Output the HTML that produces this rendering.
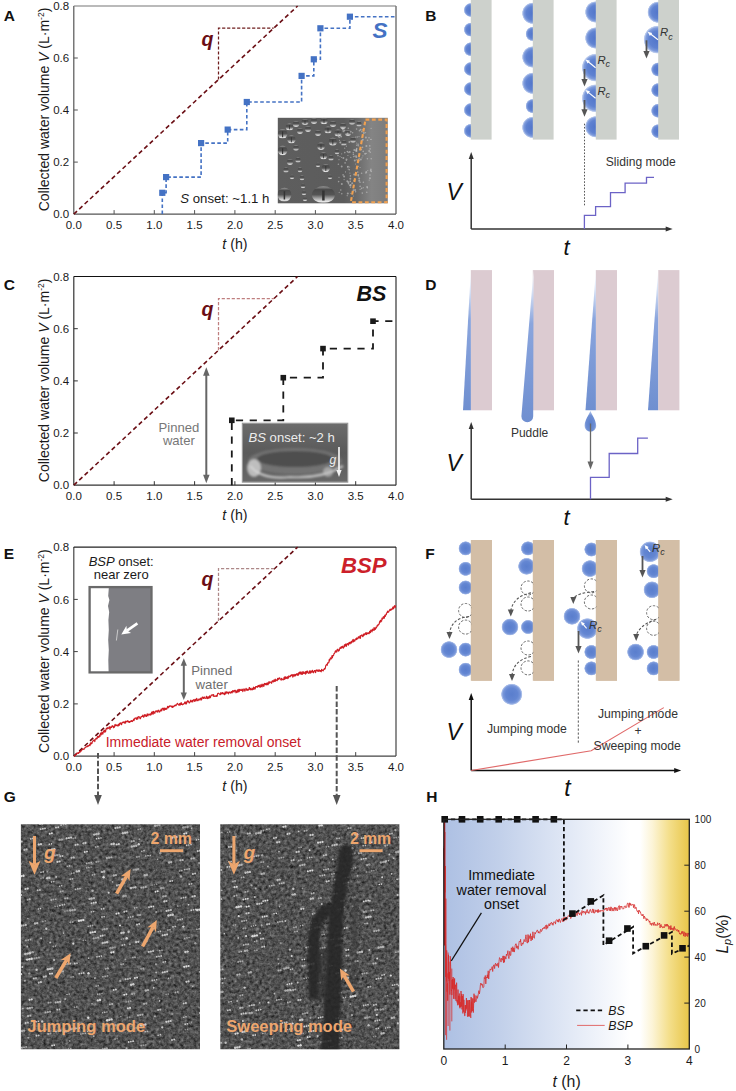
<!DOCTYPE html>
<html><head><meta charset="utf-8"><style>
html,body{margin:0;padding:0;background:#fff;}
svg{display:block;}
text{font-family:"Liberation Sans",sans-serif;}
</style></head><body>
<svg width="736" height="1091" viewBox="0 0 736 1091">
<defs><linearGradient id="drop" x1="0" y1="0" x2="0" y2="1"><stop offset="0" stop-color="#9a9a9a"/><stop offset="0.2" stop-color="#4a4a4a"/><stop offset="0.5" stop-color="#555555"/><stop offset="0.75" stop-color="#b0b0b0"/><stop offset="0.9" stop-color="#e6e6e6"/><stop offset="1" stop-color="#808080"/></linearGradient>
<linearGradient id="photoA" x1="0" y1="0" x2="1" y2="0"><stop offset="0" stop-color="#5e5e5e"/><stop offset="0.6" stop-color="#5c5c5c"/><stop offset="0.72" stop-color="#6a6a6a"/><stop offset="0.85" stop-color="#848484"/><stop offset="1" stop-color="#7c7c7c"/></linearGradient>
<clipPath id="clipA"><rect x="277.8" y="117.8" width="110" height="85.5"/></clipPath><linearGradient id="photoC" x1="0" y1="0" x2="0" y2="1"><stop offset="0" stop-color="#6c6c6c"/><stop offset="0.5" stop-color="#5a5a5a"/><stop offset="1" stop-color="#686868"/></linearGradient><radialGradient id="bd" cx="50%" cy="50%" r="50%"><stop offset="0" stop-color="#5175ca"/><stop offset="0.6" stop-color="#5f82d1"/><stop offset="0.82" stop-color="#7f9cdc"/><stop offset="0.95" stop-color="#c5d3f0"/><stop offset="1" stop-color="#ffffff" stop-opacity="0"/></radialGradient><linearGradient id="wedge" x1="0" y1="0" x2="0" y2="1"><stop offset="0" stop-color="#ffffff"/><stop offset="0.12" stop-color="#dce5f6"/><stop offset="0.35" stop-color="#8aa5dd"/><stop offset="1" stop-color="#6f8fd0"/></linearGradient>
<radialGradient id="tear" cx="50%" cy="60%" r="55%"><stop offset="0" stop-color="#5a7fcc"/><stop offset="0.7" stop-color="#6f8fd3"/><stop offset="1" stop-color="#a8bde8"/></radialGradient><radialGradient id="sph" cx="50%" cy="50%" r="50%"><stop offset="0" stop-color="#5a7ecd"/><stop offset="0.55" stop-color="#6386d2"/><stop offset="0.8" stop-color="#7a98da"/><stop offset="0.93" stop-color="#b4c6ec"/><stop offset="1" stop-color="#ffffff" stop-opacity="0"/></radialGradient><linearGradient id="hgrad" x1="0" y1="0" x2="1" y2="0"><stop offset="0" stop-color="#adc0e3"/><stop offset="0.23" stop-color="#c2d0ea"/><stop offset="0.47" stop-color="#dde5f4"/><stop offset="0.65" stop-color="#f2f5fb"/><stop offset="0.76" stop-color="#ffffff"/><stop offset="0.80" stop-color="#ffffff"/><stop offset="0.85" stop-color="#fcf4d6"/><stop offset="0.917" stop-color="#f4df8c"/><stop offset="1" stop-color="#e8c648"/></linearGradient><filter id="noise" color-interpolation-filters="sRGB" x="0" y="0" width="100%" height="100%"><feTurbulence type="fractalNoise" baseFrequency="0.32" numOctaves="3" seed="4"/><feGaussianBlur stdDeviation="0.5"/><feColorMatrix type="matrix" values="0.33 0.33 0.33 0 0  0.33 0.33 0.33 0 0  0.33 0.33 0.33 0 0  0 0 0 0 1"/><feComponentTransfer><feFuncR type="linear" slope="0.8" intercept="-0.08"/><feFuncG type="linear" slope="0.8" intercept="-0.08"/><feFuncB type="linear" slope="0.8" intercept="-0.08"/></feComponentTransfer></filter>
<filter id="noise2" color-interpolation-filters="sRGB" x="0" y="0" width="100%" height="100%"><feTurbulence type="fractalNoise" baseFrequency="0.32" numOctaves="3" seed="9"/><feGaussianBlur stdDeviation="0.5"/><feColorMatrix type="matrix" values="0.33 0.33 0.33 0 0  0.33 0.33 0.33 0 0  0.33 0.33 0.33 0 0  0 0 0 0 1"/><feComponentTransfer><feFuncR type="linear" slope="0.8" intercept="-0.08"/><feFuncG type="linear" slope="0.8" intercept="-0.08"/><feFuncB type="linear" slope="0.8" intercept="-0.08"/></feComponentTransfer></filter>
<filter id="blur1"><feGaussianBlur stdDeviation="1.2"/></filter>
<filter id="blur2"><feGaussianBlur stdDeviation="1.8"/></filter>
<clipPath id="clipG1"><rect x="20.9" y="824.2" width="179.1" height="225"/></clipPath>
<clipPath id="clipG2"><rect x="220.3" y="824.2" width="179.1" height="225"/></clipPath></defs>
<rect width="736" height="1091" fill="#fff"/>
<text x="73.8" y="228.7" font-size="11.5" fill="#1a1a1a" text-anchor="middle" font-weight="normal" font-style="normal" >0.0</text>
<line x1="114.1" y1="214.1" x2="114.1" y2="210.1" stroke="#555" stroke-width="1" />
<text x="114.1" y="228.7" font-size="11.5" fill="#1a1a1a" text-anchor="middle" font-weight="normal" font-style="normal" >0.5</text>
<line x1="154.3" y1="214.1" x2="154.3" y2="210.1" stroke="#555" stroke-width="1" />
<text x="154.3" y="228.7" font-size="11.5" fill="#1a1a1a" text-anchor="middle" font-weight="normal" font-style="normal" >1.0</text>
<line x1="194.6" y1="214.1" x2="194.6" y2="210.1" stroke="#555" stroke-width="1" />
<text x="194.6" y="228.7" font-size="11.5" fill="#1a1a1a" text-anchor="middle" font-weight="normal" font-style="normal" >1.5</text>
<line x1="234.9" y1="214.1" x2="234.9" y2="210.1" stroke="#555" stroke-width="1" />
<text x="234.9" y="228.7" font-size="11.5" fill="#1a1a1a" text-anchor="middle" font-weight="normal" font-style="normal" >2.0</text>
<line x1="275.2" y1="214.1" x2="275.2" y2="210.1" stroke="#555" stroke-width="1" />
<text x="275.2" y="228.7" font-size="11.5" fill="#1a1a1a" text-anchor="middle" font-weight="normal" font-style="normal" >2.5</text>
<line x1="315.4" y1="214.1" x2="315.4" y2="210.1" stroke="#555" stroke-width="1" />
<text x="315.4" y="228.7" font-size="11.5" fill="#1a1a1a" text-anchor="middle" font-weight="normal" font-style="normal" >3.0</text>
<line x1="355.7" y1="214.1" x2="355.7" y2="210.1" stroke="#555" stroke-width="1" />
<text x="355.7" y="228.7" font-size="11.5" fill="#1a1a1a" text-anchor="middle" font-weight="normal" font-style="normal" >3.5</text>
<text x="396.0" y="228.7" font-size="11.5" fill="#1a1a1a" text-anchor="middle" font-weight="normal" font-style="normal" >4.0</text>
<text x="69.2" y="218.2" font-size="11.5" fill="#1a1a1a" text-anchor="end" font-weight="normal" font-style="normal" >0.0</text>
<line x1="73.8" y1="162.1" x2="77.8" y2="162.1" stroke="#555" stroke-width="1" />
<text x="69.2" y="166.2" font-size="11.5" fill="#1a1a1a" text-anchor="end" font-weight="normal" font-style="normal" >0.2</text>
<line x1="73.8" y1="110.0" x2="77.8" y2="110.0" stroke="#555" stroke-width="1" />
<text x="69.2" y="114.1" font-size="11.5" fill="#1a1a1a" text-anchor="end" font-weight="normal" font-style="normal" >0.4</text>
<line x1="73.8" y1="58.0" x2="77.8" y2="58.0" stroke="#555" stroke-width="1" />
<text x="69.2" y="62.1" font-size="11.5" fill="#1a1a1a" text-anchor="end" font-weight="normal" font-style="normal" >0.6</text>
<text x="69.2" y="10.1" font-size="11.5" fill="#1a1a1a" text-anchor="end" font-weight="normal" font-style="normal" >0.8</text>
<line x1="73.8" y1="214.1" x2="396.0" y2="214.1" stroke="#555" stroke-width="1.2" />
<line x1="73.8" y1="6.0" x2="73.8" y2="214.1" stroke="#555" stroke-width="1.2" />
<line x1="396.0" y1="6.0" x2="396.0" y2="214.1" stroke="#555" stroke-width="1.2" />
<line x1="73.8" y1="6.0" x2="396.0" y2="6.0" stroke="#777" stroke-width="1.2" />
<text x="234.9" y="248.5" font-size="14.2" fill="#1a1a1a" text-anchor="middle" font-weight="normal" font-style="normal" ><tspan font-style="italic">t</tspan> (h)</text>
<text transform="translate(48.9,109.5) rotate(-90)" font-size="14.0" fill="#1a1a1a" text-anchor="middle">Collected water volume <tspan font-style="italic">V</tspan> (L·m<tspan font-size="8.5" dy="-5">-2</tspan><tspan dy="5">)</tspan></text>
<text x="3.8" y="21.1" font-size="15.5" fill="#111" text-anchor="start" font-weight="bold" font-style="normal" >A</text>
<line x1="73.8" y1="214.1" x2="297.6" y2="6.0" stroke="#6a0e14" stroke-width="1.6" stroke-dasharray="4.4,3.0" />
<polyline points="218.5,79.6 218.5,28.2 273.7,28.2" fill="none" stroke="#6e1c1c" stroke-width="1.25" stroke-dasharray="3.2,1.8" />
<text x="201.5" y="45.5" font-size="19.5" fill="#6a0e14" text-anchor="start" font-weight="bold" font-style="italic" >q</text>
<rect x="277.8" y="117.8" width="110" height="85.5" fill="url(#photoA)"/>
<g clip-path="url(#clipA)">
<ellipse cx="284.4" cy="194.7" rx="7" ry="7" fill="url(#drop)"/>
<line x1="284.4" y1="191.2" x2="284.4" y2="199.6" stroke="#333" stroke-width="1.5"/>
<ellipse cx="323.4" cy="194.7" rx="11.5" ry="8.5" fill="url(#drop)"/>
<line x1="323.4" y1="190.4" x2="323.4" y2="200.6" stroke="#333" stroke-width="2.5"/>
<ellipse cx="282.6" cy="133.8" rx="4.8" ry="4.8" fill="url(#drop)"/>
<line x1="282.6" y1="131.4" x2="282.6" y2="137.2" stroke="#333" stroke-width="1.1"/>
<ellipse cx="282.6" cy="150.6" rx="4.8" ry="4.8" fill="url(#drop)"/>
<line x1="282.6" y1="148.2" x2="282.6" y2="154.0" stroke="#333" stroke-width="1.1"/>
<ellipse cx="291.4" cy="139.4" rx="4.2" ry="4.2" fill="url(#drop)"/>
<line x1="291.4" y1="137.3" x2="291.4" y2="142.3" stroke="#333" stroke-width="0.9"/>
<ellipse cx="289.5" cy="127" rx="3.8" ry="3.5" fill="url(#drop)"/>
<line x1="289.5" y1="125.2" x2="289.5" y2="129.4" stroke="#333" stroke-width="0.8"/>
<ellipse cx="296" cy="124" rx="3.2" ry="3" fill="url(#drop)"/>
<ellipse cx="321" cy="146.3" rx="3.8" ry="3.8" fill="url(#drop)"/>
<line x1="321" y1="144.4" x2="321" y2="149.0" stroke="#333" stroke-width="0.8"/>
<ellipse cx="332.8" cy="141.8" rx="4" ry="4" fill="url(#drop)"/>
<line x1="332.8" y1="139.8" x2="332.8" y2="144.6" stroke="#333" stroke-width="0.9"/>
<ellipse cx="323.5" cy="155.8" rx="3.6" ry="3.6" fill="url(#drop)"/>
<line x1="323.5" y1="154.0" x2="323.5" y2="158.3" stroke="#333" stroke-width="0.8"/>
<ellipse cx="325.8" cy="168.1" rx="4.2" ry="4.2" fill="url(#drop)"/>
<line x1="325.8" y1="166.0" x2="325.8" y2="171.0" stroke="#333" stroke-width="0.9"/>
<ellipse cx="328" cy="130" rx="3.5" ry="3.5" fill="url(#drop)"/>
<line x1="328" y1="128.2" x2="328" y2="132.4" stroke="#333" stroke-width="0.8"/>
<ellipse cx="338" cy="133" rx="3.5" ry="3.5" fill="url(#drop)"/>
<line x1="338" y1="131.2" x2="338" y2="135.4" stroke="#333" stroke-width="0.8"/>
<ellipse cx="318" cy="133" rx="3" ry="3" fill="url(#drop)"/>
<ellipse cx="333" cy="124" rx="3.2" ry="3" fill="url(#drop)"/>
<ellipse cx="343" cy="126" rx="3" ry="3" fill="url(#drop)"/>
<ellipse cx="305" cy="122" rx="3.5" ry="3" fill="url(#drop)"/>
<line x1="305" y1="120.5" x2="305" y2="124.1" stroke="#333" stroke-width="0.8"/>
<ellipse cx="314" cy="121" rx="3.2" ry="3" fill="url(#drop)"/>
<ellipse cx="324" cy="121" rx="3.6" ry="3.2" fill="url(#drop)"/>
<line x1="324" y1="119.4" x2="324" y2="123.2" stroke="#333" stroke-width="0.8"/>
<ellipse cx="352" cy="122" rx="3" ry="2.8" fill="url(#drop)"/>
<ellipse cx="359" cy="124" rx="2.6" ry="2.6" fill="url(#drop)"/>
<ellipse cx="348" cy="133" rx="3" ry="3" fill="url(#drop)"/>
<ellipse cx="353" cy="140" rx="2.8" ry="2.8" fill="url(#drop)"/>
<ellipse cx="344" cy="143" rx="2.6" ry="2.6" fill="url(#drop)"/>
<ellipse cx="300" cy="131" rx="3" ry="3" fill="url(#drop)"/>
<ellipse cx="308" cy="129" rx="3" ry="3" fill="url(#drop)"/>
<ellipse cx="296" cy="148" rx="2.8" ry="2.8" fill="url(#drop)"/>
<ellipse cx="298" cy="160" rx="2.6" ry="2.6" fill="url(#drop)"/>
<ellipse cx="300" cy="170" rx="2.4" ry="2.4" fill="url(#drop)"/>
<ellipse cx="302" cy="178" rx="2.4" ry="2.4" fill="url(#drop)"/>
<ellipse cx="303" cy="186" rx="2.3" ry="2.3" fill="url(#drop)"/>
<ellipse cx="304" cy="193" rx="2.3" ry="2.3" fill="url(#drop)"/>
<ellipse cx="305" cy="199" rx="2.2" ry="2.2" fill="url(#drop)"/>
<ellipse cx="290" cy="162" rx="3" ry="3" fill="url(#drop)"/>
<ellipse cx="286" cy="170" rx="2.6" ry="2.6" fill="url(#drop)"/>
<ellipse cx="292" cy="177" rx="2.2" ry="2.2" fill="url(#drop)"/>
<ellipse cx="331" cy="158" rx="2.6" ry="2.6" fill="url(#drop)"/>
<ellipse cx="337" cy="152" rx="2.4" ry="2.4" fill="url(#drop)"/>
<ellipse cx="330" cy="177" rx="2.2" ry="2.2" fill="url(#drop)"/>
<ellipse cx="318" cy="165" rx="2.2" ry="2.2" fill="url(#drop)"/>
<circle cx="359.2" cy="178.4" r="1.0" fill="#c8c8c8" opacity="0.6"/>
<circle cx="370.0" cy="178.3" r="1.0" fill="#c8c8c8" opacity="0.6"/>
<circle cx="339.0" cy="159.7" r="0.6" fill="#c8c8c8" opacity="0.6"/>
<circle cx="360.1" cy="189.3" r="0.6" fill="#c8c8c8" opacity="0.6"/>
<circle cx="350.6" cy="187.1" r="0.8" fill="#c8c8c8" opacity="0.6"/>
<circle cx="356.5" cy="167.0" r="0.6" fill="#c8c8c8" opacity="0.6"/>
<circle cx="362.9" cy="155.8" r="0.6" fill="#c8c8c8" opacity="0.6"/>
<circle cx="369.2" cy="180.1" r="0.6" fill="#c8c8c8" opacity="0.6"/>
<circle cx="363.9" cy="132.9" r="1.0" fill="#c8c8c8" opacity="0.6"/>
<circle cx="359.0" cy="136.6" r="0.6" fill="#c8c8c8" opacity="0.6"/>
<circle cx="371.1" cy="128.4" r="0.6" fill="#c8c8c8" opacity="0.6"/>
<circle cx="370.6" cy="139.3" r="0.6" fill="#c8c8c8" opacity="0.6"/>
<circle cx="347.8" cy="193.4" r="1.0" fill="#c8c8c8" opacity="0.6"/>
<circle cx="367.8" cy="170.5" r="0.6" fill="#c8c8c8" opacity="0.6"/>
<circle cx="370.0" cy="175.0" r="0.8" fill="#c8c8c8" opacity="0.6"/>
<circle cx="348.2" cy="152.6" r="0.6" fill="#c8c8c8" opacity="0.6"/>
<circle cx="369.8" cy="145.9" r="0.8" fill="#c8c8c8" opacity="0.6"/>
<circle cx="348.2" cy="169.0" r="0.6" fill="#c8c8c8" opacity="0.6"/>
<circle cx="358.3" cy="176.1" r="0.6" fill="#c8c8c8" opacity="0.6"/>
<circle cx="348.5" cy="183.7" r="0.8" fill="#c8c8c8" opacity="0.6"/>
<circle cx="361.7" cy="140.6" r="0.8" fill="#c8c8c8" opacity="0.6"/>
<circle cx="362.0" cy="131.9" r="0.6" fill="#c8c8c8" opacity="0.6"/>
<circle cx="370.3" cy="152.3" r="0.8" fill="#c8c8c8" opacity="0.6"/>
<circle cx="338.6" cy="181.6" r="0.8" fill="#c8c8c8" opacity="0.6"/>
<circle cx="350.8" cy="185.2" r="0.8" fill="#c8c8c8" opacity="0.6"/>
<circle cx="339.6" cy="140.3" r="0.6" fill="#c8c8c8" opacity="0.6"/>
<circle cx="342.0" cy="144.7" r="0.8" fill="#c8c8c8" opacity="0.6"/>
<circle cx="349.7" cy="152.1" r="1.0" fill="#c8c8c8" opacity="0.6"/>
<circle cx="346.5" cy="159.5" r="1.0" fill="#c8c8c8" opacity="0.6"/>
<circle cx="363.4" cy="182.2" r="0.8" fill="#c8c8c8" opacity="0.6"/>
<circle cx="339.2" cy="192.3" r="0.6" fill="#c8c8c8" opacity="0.6"/>
<circle cx="345.1" cy="162.9" r="0.8" fill="#c8c8c8" opacity="0.6"/>
<circle cx="369.2" cy="151.1" r="1.0" fill="#c8c8c8" opacity="0.6"/>
<circle cx="356.5" cy="149.2" r="0.8" fill="#c8c8c8" opacity="0.6"/>
<circle cx="348.4" cy="182.3" r="1.0" fill="#c8c8c8" opacity="0.6"/>
<circle cx="343.1" cy="174.9" r="0.8" fill="#c8c8c8" opacity="0.6"/>
<circle cx="343.5" cy="131.3" r="1.0" fill="#c8c8c8" opacity="0.6"/>
<circle cx="356.1" cy="155.6" r="0.6" fill="#c8c8c8" opacity="0.6"/>
<circle cx="363.2" cy="151.4" r="0.8" fill="#c8c8c8" opacity="0.6"/>
<circle cx="353.5" cy="156.7" r="0.6" fill="#c8c8c8" opacity="0.6"/>
<circle cx="371.3" cy="171.4" r="0.8" fill="#c8c8c8" opacity="0.6"/>
<circle cx="349.4" cy="142.1" r="1.0" fill="#c8c8c8" opacity="0.6"/>
<circle cx="357.2" cy="137.0" r="0.8" fill="#c8c8c8" opacity="0.6"/>
<circle cx="341.6" cy="157.5" r="0.6" fill="#c8c8c8" opacity="0.6"/>
<circle cx="340.0" cy="156.6" r="0.6" fill="#c8c8c8" opacity="0.6"/>
<circle cx="353.4" cy="196.0" r="0.6" fill="#c8c8c8" opacity="0.6"/>
<circle cx="371.2" cy="158.8" r="0.8" fill="#c8c8c8" opacity="0.6"/>
<circle cx="361.4" cy="149.6" r="0.8" fill="#c8c8c8" opacity="0.6"/>
<circle cx="347.9" cy="155.5" r="0.6" fill="#c8c8c8" opacity="0.6"/>
<circle cx="341.8" cy="183.9" r="1.0" fill="#c8c8c8" opacity="0.6"/>
<circle cx="370.6" cy="170.6" r="0.8" fill="#c8c8c8" opacity="0.6"/>
<circle cx="367.5" cy="140.2" r="0.8" fill="#c8c8c8" opacity="0.6"/>
<circle cx="347.3" cy="181.2" r="1.0" fill="#c8c8c8" opacity="0.6"/>
<circle cx="350.3" cy="181.4" r="0.8" fill="#c8c8c8" opacity="0.6"/>
<circle cx="361.6" cy="173.2" r="0.8" fill="#c8c8c8" opacity="0.6"/>
<circle cx="350.4" cy="175.9" r="0.8" fill="#c8c8c8" opacity="0.6"/>
<circle cx="366.4" cy="146.0" r="1.0" fill="#c8c8c8" opacity="0.6"/>
<circle cx="362.3" cy="193.1" r="0.8" fill="#c8c8c8" opacity="0.6"/>
<circle cx="360.1" cy="167.5" r="0.6" fill="#c8c8c8" opacity="0.6"/>
<circle cx="354.1" cy="180.6" r="0.8" fill="#c8c8c8" opacity="0.6"/>
<circle cx="360.8" cy="159.5" r="1.0" fill="#c8c8c8" opacity="0.6"/>
<circle cx="360.0" cy="182.2" r="0.8" fill="#c8c8c8" opacity="0.6"/>
<circle cx="347.3" cy="151.5" r="0.8" fill="#c8c8c8" opacity="0.6"/>
<circle cx="349.9" cy="185.3" r="1.0" fill="#c8c8c8" opacity="0.6"/>
<circle cx="353.3" cy="152.8" r="0.8" fill="#c8c8c8" opacity="0.6"/>
<circle cx="355.6" cy="164.0" r="0.6" fill="#c8c8c8" opacity="0.6"/>
<circle cx="344.8" cy="152.6" r="0.8" fill="#c8c8c8" opacity="0.6"/>
<circle cx="347.6" cy="133.4" r="1.0" fill="#c8c8c8" opacity="0.6"/>
<circle cx="362.8" cy="139.7" r="1.0" fill="#c8c8c8" opacity="0.6"/>
<circle cx="355.6" cy="191.7" r="0.8" fill="#c8c8c8" opacity="0.6"/>
<circle cx="359.2" cy="180.7" r="1.0" fill="#c8c8c8" opacity="0.6"/>
<circle cx="347.2" cy="195.7" r="0.6" fill="#c8c8c8" opacity="0.6"/>
<circle cx="343.4" cy="158.0" r="1.0" fill="#c8c8c8" opacity="0.6"/>
<circle cx="344.1" cy="179.6" r="0.6" fill="#c8c8c8" opacity="0.6"/>
<circle cx="359.4" cy="130.8" r="0.8" fill="#c8c8c8" opacity="0.6"/>
<circle cx="371.3" cy="139.3" r="0.6" fill="#c8c8c8" opacity="0.6"/>
<circle cx="341.8" cy="193.8" r="0.8" fill="#c8c8c8" opacity="0.6"/>
<circle cx="344.6" cy="130.4" r="0.8" fill="#c8c8c8" opacity="0.6"/>
<circle cx="349.9" cy="173.1" r="0.6" fill="#c8c8c8" opacity="0.6"/>
<circle cx="358.1" cy="144.2" r="0.8" fill="#c8c8c8" opacity="0.6"/>
<circle cx="338.0" cy="155.6" r="0.8" fill="#c8c8c8" opacity="0.6"/>
<circle cx="367.1" cy="186.9" r="1.0" fill="#c8c8c8" opacity="0.6"/>
<circle cx="366.3" cy="153.4" r="0.6" fill="#c8c8c8" opacity="0.6"/>
<circle cx="356.7" cy="148.5" r="0.8" fill="#c8c8c8" opacity="0.6"/>
<circle cx="356.5" cy="151.1" r="1.0" fill="#c8c8c8" opacity="0.6"/>
<circle cx="348.0" cy="151.9" r="0.6" fill="#c8c8c8" opacity="0.6"/>
<circle cx="352.2" cy="183.3" r="1.0" fill="#c8c8c8" opacity="0.6"/>
<circle cx="356.3" cy="159.8" r="0.6" fill="#c8c8c8" opacity="0.6"/>
<circle cx="358.3" cy="166.3" r="0.6" fill="#c8c8c8" opacity="0.6"/>
<circle cx="370.9" cy="169.4" r="0.8" fill="#c8c8c8" opacity="0.6"/>
<circle cx="365.9" cy="173.0" r="0.8" fill="#c8c8c8" opacity="0.6"/>
<circle cx="341.7" cy="166.5" r="1.0" fill="#c8c8c8" opacity="0.6"/>
<circle cx="356.3" cy="150.1" r="1.0" fill="#c8c8c8" opacity="0.6"/>
<circle cx="350.8" cy="157.4" r="0.6" fill="#c8c8c8" opacity="0.6"/>
<circle cx="354.8" cy="160.6" r="1.0" fill="#c8c8c8" opacity="0.6"/>
<circle cx="350.9" cy="193.4" r="0.6" fill="#c8c8c8" opacity="0.6"/>
<circle cx="358.3" cy="145.7" r="0.8" fill="#c8c8c8" opacity="0.6"/>
<circle cx="354.9" cy="156.3" r="0.8" fill="#c8c8c8" opacity="0.6"/>
<circle cx="370.1" cy="148.9" r="0.8" fill="#c8c8c8" opacity="0.6"/>
<circle cx="342.9" cy="129.6" r="1.0" fill="#c8c8c8" opacity="0.6"/>
<circle cx="359.1" cy="158.2" r="0.8" fill="#c8c8c8" opacity="0.6"/>
<circle cx="339.4" cy="137.3" r="0.8" fill="#c8c8c8" opacity="0.6"/>
<circle cx="338.4" cy="164.2" r="0.8" fill="#c8c8c8" opacity="0.6"/>
<circle cx="346.3" cy="160.3" r="0.6" fill="#c8c8c8" opacity="0.6"/>
<circle cx="346.4" cy="146.2" r="0.6" fill="#c8c8c8" opacity="0.6"/>
<circle cx="362.5" cy="147.4" r="0.8" fill="#c8c8c8" opacity="0.6"/>
<circle cx="358.7" cy="160.3" r="1.0" fill="#c8c8c8" opacity="0.6"/>
<circle cx="367.4" cy="187.9" r="0.6" fill="#c8c8c8" opacity="0.6"/>
<circle cx="338.5" cy="136.6" r="0.8" fill="#c8c8c8" opacity="0.6"/>
<circle cx="356.1" cy="150.9" r="0.8" fill="#c8c8c8" opacity="0.6"/>
<circle cx="362.9" cy="129.8" r="0.8" fill="#c8c8c8" opacity="0.6"/>
<circle cx="350.3" cy="178.7" r="1.0" fill="#c8c8c8" opacity="0.6"/>
<circle cx="342.5" cy="128.2" r="1.0" fill="#c8c8c8" opacity="0.6"/>
<circle cx="353.5" cy="190.3" r="1.0" fill="#c8c8c8" opacity="0.6"/>
<circle cx="356.6" cy="129.0" r="0.8" fill="#c8c8c8" opacity="0.6"/>
<circle cx="358.2" cy="174.9" r="1.0" fill="#c8c8c8" opacity="0.6"/>
<circle cx="360.1" cy="186.4" r="0.8" fill="#c8c8c8" opacity="0.6"/>
<circle cx="354.2" cy="174.4" r="1.0" fill="#c8c8c8" opacity="0.6"/>
<circle cx="344.7" cy="148.2" r="0.6" fill="#c8c8c8" opacity="0.6"/>
<circle cx="348.3" cy="128.2" r="0.8" fill="#c8c8c8" opacity="0.6"/>
<circle cx="357.8" cy="172.1" r="0.8" fill="#c8c8c8" opacity="0.6"/>
<circle cx="369.0" cy="137.7" r="0.8" fill="#c8c8c8" opacity="0.6"/>
<circle cx="361.6" cy="188.4" r="0.8" fill="#c8c8c8" opacity="0.6"/>
<circle cx="356.3" cy="156.9" r="1.0" fill="#c8c8c8" opacity="0.6"/>
<circle cx="365.6" cy="132.7" r="0.6" fill="#c8c8c8" opacity="0.6"/>
<circle cx="347.1" cy="133.8" r="0.6" fill="#c8c8c8" opacity="0.6"/>
<circle cx="360.6" cy="129.7" r="1.0" fill="#c8c8c8" opacity="0.6"/>
<circle cx="352.6" cy="132.7" r="0.8" fill="#c8c8c8" opacity="0.6"/>
<circle cx="361.8" cy="131.3" r="0.6" fill="#c8c8c8" opacity="0.6"/>
<circle cx="345.5" cy="171.9" r="0.6" fill="#c8c8c8" opacity="0.6"/>
<circle cx="362.2" cy="137.2" r="0.8" fill="#c8c8c8" opacity="0.6"/>
<circle cx="362.0" cy="157.8" r="0.6" fill="#c8c8c8" opacity="0.6"/>
<circle cx="358.8" cy="156.1" r="0.6" fill="#c8c8c8" opacity="0.6"/>
<circle cx="340.3" cy="142.5" r="1.0" fill="#c8c8c8" opacity="0.6"/>
<circle cx="341.7" cy="153.8" r="0.6" fill="#c8c8c8" opacity="0.6"/>
<circle cx="347.5" cy="166.8" r="0.6" fill="#c8c8c8" opacity="0.6"/>
<circle cx="363.2" cy="187.7" r="0.6" fill="#c8c8c8" opacity="0.6"/>
<circle cx="338.3" cy="134.2" r="1.0" fill="#c8c8c8" opacity="0.6"/>
<circle cx="358.4" cy="161.3" r="1.0" fill="#c8c8c8" opacity="0.6"/>
<circle cx="350.7" cy="131.8" r="1.0" fill="#c8c8c8" opacity="0.6"/>
<circle cx="348.0" cy="166.7" r="1.0" fill="#c8c8c8" opacity="0.6"/>
<circle cx="355.2" cy="189.9" r="1.0" fill="#c8c8c8" opacity="0.6"/>
<circle cx="356.7" cy="143.0" r="0.6" fill="#c8c8c8" opacity="0.6"/>
<circle cx="356.8" cy="145.3" r="0.8" fill="#c8c8c8" opacity="0.6"/>
<circle cx="355.6" cy="137.1" r="0.6" fill="#c8c8c8" opacity="0.6"/>
<circle cx="367.4" cy="158.8" r="0.8" fill="#c8c8c8" opacity="0.6"/>
<circle cx="344.1" cy="176.5" r="1.0" fill="#c8c8c8" opacity="0.6"/>
<circle cx="349.6" cy="167.0" r="0.6" fill="#c8c8c8" opacity="0.6"/>
<circle cx="341.1" cy="136.5" r="1.0" fill="#c8c8c8" opacity="0.6"/>
<circle cx="353.4" cy="154.5" r="0.8" fill="#c8c8c8" opacity="0.6"/>
<circle cx="354.3" cy="150.0" r="1.0" fill="#c8c8c8" opacity="0.6"/>
<circle cx="339.0" cy="177.3" r="0.6" fill="#c8c8c8" opacity="0.6"/>
<circle cx="366.8" cy="192.2" r="0.8" fill="#c8c8c8" opacity="0.6"/>
<circle cx="361.2" cy="143.2" r="0.6" fill="#c8c8c8" opacity="0.6"/>
<circle cx="340.8" cy="190.0" r="0.8" fill="#c8c8c8" opacity="0.6"/>
<circle cx="365.9" cy="137.5" r="1.0" fill="#c8c8c8" opacity="0.6"/>
<circle cx="350.8" cy="184.8" r="0.8" fill="#c8c8c8" opacity="0.6"/>
<circle cx="349.3" cy="169.7" r="0.8" fill="#c8c8c8" opacity="0.6"/>
<circle cx="365.1" cy="153.7" r="1.0" fill="#c8c8c8" opacity="0.6"/>
<circle cx="366.3" cy="172.1" r="1.0" fill="#c8c8c8" opacity="0.6"/>
</g>
<polygon points="365.5,119.6 386.6,119.6 386.6,202.2 350.8,202.2" fill="none" stroke="#f0a050" stroke-width="2.1" stroke-dasharray="3.8,2.6"/>
<polyline points="162.3,214.1 162.3,192.8 166.1,192.8 166.1,177.1 201.1,177.1 201.1,143.1 227.7,143.1 227.7,129.6 246.8,129.6 246.8,102.0 301.6,102.0 301.6,75.9 313.8,75.9 313.8,59.3 320.4,59.3 320.4,28.3 349.9,28.3 349.9,16.7 396.0,16.7" fill="none" stroke="#4472c4" stroke-width="1.6" stroke-dasharray="3.6,2.4" />
<rect x="159.2" y="189.7" width="6.2" height="6.2" fill="#4472c4"/>
<rect x="163.0" y="174.0" width="6.2" height="6.2" fill="#4472c4"/>
<rect x="198.0" y="140.0" width="6.2" height="6.2" fill="#4472c4"/>
<rect x="224.6" y="126.5" width="6.2" height="6.2" fill="#4472c4"/>
<rect x="243.7" y="98.9" width="6.2" height="6.2" fill="#4472c4"/>
<rect x="298.5" y="72.8" width="6.2" height="6.2" fill="#4472c4"/>
<rect x="310.7" y="56.2" width="6.2" height="6.2" fill="#4472c4"/>
<rect x="317.3" y="25.2" width="6.2" height="6.2" fill="#4472c4"/>
<rect x="346.8" y="13.6" width="6.2" height="6.2" fill="#4472c4"/>
<text x="372.5" y="37.6" font-size="22.5" fill="#4472c4" text-anchor="start" font-weight="bold" font-style="italic" >S</text>
<text x="180.3" y="203.4" font-size="13.2" fill="#1a1a1a" text-anchor="start" font-weight="normal" font-style="normal" ><tspan font-style="italic">S</tspan> onset: ~1.1 h</text>
<text x="73.8" y="499.8" font-size="11.5" fill="#1a1a1a" text-anchor="middle" font-weight="normal" font-style="normal" >0.0</text>
<line x1="114.1" y1="485.2" x2="114.1" y2="481.2" stroke="#333" stroke-width="1" />
<text x="114.1" y="499.8" font-size="11.5" fill="#1a1a1a" text-anchor="middle" font-weight="normal" font-style="normal" >0.5</text>
<line x1="154.3" y1="485.2" x2="154.3" y2="481.2" stroke="#333" stroke-width="1" />
<text x="154.3" y="499.8" font-size="11.5" fill="#1a1a1a" text-anchor="middle" font-weight="normal" font-style="normal" >1.0</text>
<line x1="194.6" y1="485.2" x2="194.6" y2="481.2" stroke="#333" stroke-width="1" />
<text x="194.6" y="499.8" font-size="11.5" fill="#1a1a1a" text-anchor="middle" font-weight="normal" font-style="normal" >1.5</text>
<line x1="234.9" y1="485.2" x2="234.9" y2="481.2" stroke="#333" stroke-width="1" />
<text x="234.9" y="499.8" font-size="11.5" fill="#1a1a1a" text-anchor="middle" font-weight="normal" font-style="normal" >2.0</text>
<line x1="275.2" y1="485.2" x2="275.2" y2="481.2" stroke="#333" stroke-width="1" />
<text x="275.2" y="499.8" font-size="11.5" fill="#1a1a1a" text-anchor="middle" font-weight="normal" font-style="normal" >2.5</text>
<line x1="315.4" y1="485.2" x2="315.4" y2="481.2" stroke="#333" stroke-width="1" />
<text x="315.4" y="499.8" font-size="11.5" fill="#1a1a1a" text-anchor="middle" font-weight="normal" font-style="normal" >3.0</text>
<line x1="355.7" y1="485.2" x2="355.7" y2="481.2" stroke="#333" stroke-width="1" />
<text x="355.7" y="499.8" font-size="11.5" fill="#1a1a1a" text-anchor="middle" font-weight="normal" font-style="normal" >3.5</text>
<text x="396.0" y="499.8" font-size="11.5" fill="#1a1a1a" text-anchor="middle" font-weight="normal" font-style="normal" >4.0</text>
<text x="69.2" y="489.3" font-size="11.5" fill="#1a1a1a" text-anchor="end" font-weight="normal" font-style="normal" >0.0</text>
<line x1="73.8" y1="433.0" x2="77.8" y2="433.0" stroke="#333" stroke-width="1" />
<text x="69.2" y="437.1" font-size="11.5" fill="#1a1a1a" text-anchor="end" font-weight="normal" font-style="normal" >0.2</text>
<line x1="73.8" y1="380.9" x2="77.8" y2="380.9" stroke="#333" stroke-width="1" />
<text x="69.2" y="385.0" font-size="11.5" fill="#1a1a1a" text-anchor="end" font-weight="normal" font-style="normal" >0.4</text>
<line x1="73.8" y1="328.7" x2="77.8" y2="328.7" stroke="#333" stroke-width="1" />
<text x="69.2" y="332.8" font-size="11.5" fill="#1a1a1a" text-anchor="end" font-weight="normal" font-style="normal" >0.6</text>
<text x="69.2" y="280.6" font-size="11.5" fill="#1a1a1a" text-anchor="end" font-weight="normal" font-style="normal" >0.8</text>
<line x1="73.8" y1="485.2" x2="396.0" y2="485.2" stroke="#333" stroke-width="1.2" />
<line x1="73.8" y1="276.5" x2="73.8" y2="485.2" stroke="#333" stroke-width="1.2" />
<line x1="396.0" y1="276.5" x2="396.0" y2="485.2" stroke="#333" stroke-width="1.2" />
<line x1="73.8" y1="276.5" x2="396.0" y2="276.5" stroke="#111" stroke-width="1.2" />
<text x="234.9" y="519.6" font-size="14.2" fill="#1a1a1a" text-anchor="middle" font-weight="normal" font-style="normal" ><tspan font-style="italic">t</tspan> (h)</text>
<text transform="translate(48.9,380.4) rotate(-90)" font-size="14.0" fill="#1a1a1a" text-anchor="middle">Collected water volume <tspan font-style="italic">V</tspan> (L·m<tspan font-size="8.5" dy="-5">-2</tspan><tspan dy="5">)</tspan></text>
<text x="3.8" y="290.2" font-size="15.5" fill="#111" text-anchor="start" font-weight="bold" font-style="normal" >C</text>
<line x1="73.8" y1="485.2" x2="297.6" y2="276.5" stroke="#6a0e14" stroke-width="1.6" stroke-dasharray="4.4,3.0" />
<polyline points="218.5,350.3 218.5,298.5 274.0,298.5" fill="none" stroke="#bf7f7f" stroke-width="1.25" stroke-dasharray="3.2,1.8" />
<text x="201.5" y="315.8" font-size="19.5" fill="#6a0e14" text-anchor="start" font-weight="bold" font-style="italic" >q</text>
<text x="356.5" y="301.3" font-size="21.5" fill="#111" text-anchor="start" font-weight="bold" font-style="italic" >BS</text>
<line x1="206.3" y1="373.0" x2="206.3" y2="477.0" stroke="#666" stroke-width="2" />
<polygon points="206.3,367.2 209.6,375.7 203.1,375.7" fill="#666"/>
<polygon points="206.3,483.3 203.1,474.8 209.6,474.8" fill="#666"/>
<text x="178.9" y="432.2" font-size="13.1" fill="#777" text-anchor="middle" font-weight="normal" font-style="normal" >Pinned</text>
<text x="178.9" y="445.2" font-size="13.1" fill="#777" text-anchor="middle" font-weight="normal" font-style="normal" >water</text>
<rect x="242.4" y="423.3" width="105.3" height="58.8" fill="url(#photoC)" stroke="#9a9a9a" stroke-width="1.2"/>
<g filter="url(#blur1)">
<ellipse cx="295" cy="461" rx="47" ry="13" fill="#7a7a7a" opacity="0.7"/>
<ellipse cx="295" cy="459" rx="38" ry="8" fill="#454545" opacity="0.8"/>
<path d="M250,466 Q262,480 290,477 Q322,479 343,466" fill="none" stroke="#d8d8d8" stroke-width="2.2" opacity="0.8"/>
<ellipse cx="254" cy="468" rx="7" ry="9" fill="#d8d8d8" opacity="0.75"/>
<ellipse cx="328" cy="472" rx="5" ry="5" fill="#c8c8c8" opacity="0.6"/>
</g>
<text x="248.5" y="441.6" font-size="13.1" fill="#ececec" text-anchor="start" font-weight="normal" font-style="normal" ><tspan font-style="italic">BS</tspan> onset: ~2 h</text>
<text x="329.5" y="463.5" font-size="12" fill="#ececec" text-anchor="start" font-weight="normal" font-style="italic" >g</text>
<line x1="339.0" y1="447.0" x2="339.0" y2="470.0" stroke="#f4f4f4" stroke-width="1.7" />
<polygon points="339.0,477.0 336.4,470.0 341.6,470.0" fill="#f4f4f4"/>
<polyline points="231.8,485.2 231.8,420.3 283.3,420.3 283.3,377.7 323.0,377.7 323.0,348.6 373.0,348.6 373.0,321.2 396.0,321.2" fill="none" stroke="#1a1a1a" stroke-width="1.8" stroke-dasharray="7.2,6.6" />
<rect x="229.0" y="417.5" width="5.6" height="5.6" fill="#1a1a1a"/>
<rect x="280.5" y="374.9" width="5.6" height="5.6" fill="#1a1a1a"/>
<rect x="320.2" y="345.8" width="5.6" height="5.6" fill="#1a1a1a"/>
<rect x="370.2" y="318.4" width="5.6" height="5.6" fill="#1a1a1a"/>
<text x="73.8" y="770.7" font-size="11.5" fill="#1a1a1a" text-anchor="middle" font-weight="normal" font-style="normal" >0.0</text>
<line x1="114.1" y1="756.1" x2="114.1" y2="752.1" stroke="#444" stroke-width="1" />
<text x="114.1" y="770.7" font-size="11.5" fill="#1a1a1a" text-anchor="middle" font-weight="normal" font-style="normal" >0.5</text>
<line x1="154.3" y1="756.1" x2="154.3" y2="752.1" stroke="#444" stroke-width="1" />
<text x="154.3" y="770.7" font-size="11.5" fill="#1a1a1a" text-anchor="middle" font-weight="normal" font-style="normal" >1.0</text>
<line x1="194.6" y1="756.1" x2="194.6" y2="752.1" stroke="#444" stroke-width="1" />
<text x="194.6" y="770.7" font-size="11.5" fill="#1a1a1a" text-anchor="middle" font-weight="normal" font-style="normal" >1.5</text>
<line x1="234.9" y1="756.1" x2="234.9" y2="752.1" stroke="#444" stroke-width="1" />
<text x="234.9" y="770.7" font-size="11.5" fill="#1a1a1a" text-anchor="middle" font-weight="normal" font-style="normal" >2.0</text>
<line x1="275.2" y1="756.1" x2="275.2" y2="752.1" stroke="#444" stroke-width="1" />
<text x="275.2" y="770.7" font-size="11.5" fill="#1a1a1a" text-anchor="middle" font-weight="normal" font-style="normal" >2.5</text>
<line x1="315.4" y1="756.1" x2="315.4" y2="752.1" stroke="#444" stroke-width="1" />
<text x="315.4" y="770.7" font-size="11.5" fill="#1a1a1a" text-anchor="middle" font-weight="normal" font-style="normal" >3.0</text>
<line x1="355.7" y1="756.1" x2="355.7" y2="752.1" stroke="#444" stroke-width="1" />
<text x="355.7" y="770.7" font-size="11.5" fill="#1a1a1a" text-anchor="middle" font-weight="normal" font-style="normal" >3.5</text>
<text x="396.0" y="770.7" font-size="11.5" fill="#1a1a1a" text-anchor="middle" font-weight="normal" font-style="normal" >4.0</text>
<text x="69.2" y="760.2" font-size="11.5" fill="#1a1a1a" text-anchor="end" font-weight="normal" font-style="normal" >0.0</text>
<line x1="73.8" y1="703.9" x2="77.8" y2="703.9" stroke="#444" stroke-width="1" />
<text x="69.2" y="708.0" font-size="11.5" fill="#1a1a1a" text-anchor="end" font-weight="normal" font-style="normal" >0.2</text>
<line x1="73.8" y1="651.6" x2="77.8" y2="651.6" stroke="#444" stroke-width="1" />
<text x="69.2" y="655.7" font-size="11.5" fill="#1a1a1a" text-anchor="end" font-weight="normal" font-style="normal" >0.4</text>
<line x1="73.8" y1="599.4" x2="77.8" y2="599.4" stroke="#444" stroke-width="1" />
<text x="69.2" y="603.5" font-size="11.5" fill="#1a1a1a" text-anchor="end" font-weight="normal" font-style="normal" >0.6</text>
<text x="69.2" y="551.2" font-size="11.5" fill="#1a1a1a" text-anchor="end" font-weight="normal" font-style="normal" >0.8</text>
<line x1="73.8" y1="756.1" x2="396.0" y2="756.1" stroke="#444" stroke-width="1.2" />
<line x1="73.8" y1="547.1" x2="73.8" y2="756.1" stroke="#444" stroke-width="1.2" />
<line x1="396.0" y1="547.1" x2="396.0" y2="756.1" stroke="#444" stroke-width="1.2" />
<line x1="73.8" y1="547.1" x2="396.0" y2="547.1" stroke="#222" stroke-width="1.2" />
<text x="234.9" y="790.5" font-size="14.2" fill="#1a1a1a" text-anchor="middle" font-weight="normal" font-style="normal" ><tspan font-style="italic">t</tspan> (h)</text>
<text transform="translate(48.9,651.1) rotate(-90)" font-size="14.0" fill="#1a1a1a" text-anchor="middle">Collected water volume <tspan font-style="italic">V</tspan> (L·m<tspan font-size="8.5" dy="-5">-2</tspan><tspan dy="5">)</tspan></text>
<text x="3.8" y="558.6" font-size="15.5" fill="#111" text-anchor="start" font-weight="bold" font-style="normal" >E</text>
<line x1="73.8" y1="756.1" x2="297.6" y2="547.1" stroke="#6a0e14" stroke-width="1.6" stroke-dasharray="4.4,3.0" />
<polyline points="218.5,621.0 218.5,568.5 274.7,568.5" fill="none" stroke="#ad8888" stroke-width="1.25" stroke-dasharray="3.2,1.8" />
<text x="201.5" y="585.8" font-size="19.5" fill="#6a0e14" text-anchor="start" font-weight="bold" font-style="italic" >q</text>
<text x="341.0" y="572.8" font-size="22.2" fill="#cc1f2a" text-anchor="start" font-weight="bold" font-style="italic" >BSP</text>
<rect x="89.6" y="587.1" width="61.9" height="85.3" fill="#7e7e83" stroke="#6a6a6a" stroke-width="2.3"/>
<path d="M90.8,588.3 L108.8,588.3 L108.2,596 L109.4,600 L108,606 L109.2,612 L108.4,620 L108.8,630 L108.2,640 L108.8,650 L108.3,660 L108.6,671.2 L90.8,671.2 Z" fill="#ffffff"/>
<line x1="137.4" y1="623.4" x2="127.0" y2="630.6" stroke="#ffffff" stroke-width="2.7" />
<polygon points="121.3,634.4 126.4,625.8 126.9,630.6 131.1,632.9" fill="#ffffff"/>
<line x1="117.8" y1="629.5" x2="116.4" y2="640.5" stroke="#dddddd" stroke-width="0.8" />
<text x="121.2" y="565.9" font-size="13" fill="#1a1a1a" text-anchor="middle" font-weight="normal" font-style="normal" ><tspan font-style="italic">BSP</tspan> onset:</text>
<text x="121.2" y="578.7" font-size="13" fill="#1a1a1a" text-anchor="middle" font-weight="normal" font-style="normal" >near zero</text>
<line x1="183.8" y1="664.0" x2="183.8" y2="694.0" stroke="#666" stroke-width="2" />
<polygon points="183.8,658.3 186.9,665.8 180.7,665.8" fill="#666"/>
<polygon points="183.8,699.9 180.7,692.4 186.9,692.4" fill="#666"/>
<text x="211.7" y="674.6" font-size="13.2" fill="#6e6e6e" text-anchor="middle" font-weight="normal" font-style="normal" >Pinned</text>
<text x="211.7" y="688.6" font-size="13.2" fill="#6e6e6e" text-anchor="middle" font-weight="normal" font-style="normal" >water</text>
<polyline points="74.0,756.0 74.4,756.2 74.8,755.5 75.2,755.3 75.6,755.0 76.0,754.9 76.4,754.2 76.8,753.6 77.2,753.2 77.6,753.2 78.0,752.7 78.4,753.4 78.8,752.6 79.2,752.7 79.6,751.5 80.0,751.7 80.4,751.9 80.8,751.3 81.2,750.8 81.6,750.5 82.0,749.8 82.4,749.6 82.8,749.3 83.2,749.3 83.6,749.0 84.0,749.3 84.4,748.1 84.8,747.9 85.2,747.7 85.6,747.2 86.0,747.1 86.4,746.7 86.8,746.7 87.2,745.9 87.6,746.6 88.0,745.7 88.4,746.1 88.8,745.5 89.2,745.1 89.6,744.6 90.0,745.7 90.4,742.9 90.8,744.2 91.2,742.8 91.6,743.6 92.0,743.5 92.4,741.5 92.8,741.3 93.2,740.5 93.6,740.7 94.0,739.8 94.4,740.4 94.8,741.7 95.2,739.5 95.6,738.9 96.0,739.0 96.4,738.0 96.8,738.9 97.2,738.5 97.6,736.4 98.0,736.3 98.4,737.1 98.8,737.5 99.2,736.2 99.6,735.2 100.0,736.4 100.4,733.2 100.8,733.0 101.2,734.9 101.6,733.4 102.0,732.0 102.4,733.2 102.8,734.2 103.2,732.5 103.6,731.6 104.0,730.5 104.4,730.1 104.8,732.3 105.2,730.7 105.6,731.7 106.0,728.8 106.4,729.0 106.8,728.1 107.2,728.9 107.6,727.7 108.0,728.1 108.4,728.4 108.8,728.0 109.2,727.0 109.6,726.8 110.0,729.4 110.4,726.9 110.8,727.7 111.2,727.2 111.6,727.4 112.0,725.9 112.4,726.5 112.8,725.7 113.2,726.8 113.6,727.8 114.0,726.6 114.4,727.2 114.8,725.1 115.2,724.4 115.6,725.8 116.0,725.4 116.4,725.6 116.8,724.8 117.2,725.5 117.6,725.7 118.0,726.1 118.4,724.2 118.8,724.5 119.2,725.5 119.6,723.5 120.0,723.1 120.4,723.6 120.8,722.8 121.2,724.7 121.6,724.7 122.0,723.1 122.4,722.4 122.8,722.1 123.2,722.5 123.6,721.9 124.0,722.8 124.4,723.1 124.8,722.0 125.2,721.3 125.6,723.1 126.0,721.1 126.4,721.4 126.8,721.5 127.2,721.7 127.6,720.7 128.0,721.6 128.4,721.1 128.8,722.3 129.2,721.5 129.6,722.4 130.0,721.5 130.4,721.7 130.8,721.0 131.2,720.5 131.6,721.5 132.0,720.8 132.4,721.6 132.8,720.8 133.2,720.6 133.6,719.1 134.0,720.6 134.4,719.2 134.8,718.3 135.2,717.9 135.6,718.1 136.0,718.3 136.4,719.4 136.8,718.0 137.2,717.2 137.6,719.2 138.0,718.4 138.4,716.7 138.8,716.6 139.2,716.7 139.6,717.3 140.0,718.6 140.4,718.7 140.8,717.6 141.2,716.3 141.6,716.7 142.0,716.4 142.4,716.2 142.8,715.1 143.2,716.6 143.6,717.2 144.0,716.8 144.4,714.7 144.8,715.9 145.2,714.7 145.6,716.1 146.0,715.2 146.4,716.5 146.8,715.9 147.2,713.8 147.6,714.2 148.0,715.9 148.4,714.4 148.8,714.1 149.2,714.0 149.6,714.8 150.0,715.2 150.4,713.8 150.8,715.0 151.2,713.8 151.6,712.1 152.0,714.1 152.4,712.8 152.8,711.6 153.2,714.2 153.6,711.3 154.0,712.8 154.4,712.3 154.8,713.4 155.2,711.8 155.6,711.1 156.0,711.2 156.4,710.8 156.8,711.8 157.2,711.0 157.6,712.1 158.0,710.4 158.4,710.6 158.8,710.2 159.2,712.2 159.6,711.7 160.0,711.6 160.4,710.7 160.8,709.9 161.2,709.0 161.6,711.0 162.0,709.8 162.4,708.3 162.8,708.6 163.2,708.2 163.6,709.9 164.0,710.3 164.4,708.1 164.8,709.7 165.2,708.2 165.6,709.1 166.0,709.5 166.4,708.6 166.8,709.0 167.2,707.6 167.6,706.3 168.0,707.7 168.4,707.8 168.8,706.4 169.2,706.9 169.6,706.5 170.0,705.5 170.4,706.2 170.8,706.3 171.2,706.4 171.6,707.0 172.0,705.9 172.4,707.5 172.8,706.9 173.2,707.1 173.6,706.2 174.0,706.0 174.4,705.5 174.8,706.2 175.2,704.8 175.6,705.4 176.0,705.6 176.4,705.0 176.8,704.2 177.2,703.5 177.6,703.4 178.0,704.1 178.4,704.7 178.8,705.1 179.2,704.9 179.6,703.6 180.0,705.3 180.4,703.3 180.8,704.5 181.2,702.5 181.6,704.4 182.0,704.1 182.4,704.8 182.8,704.5 183.2,703.8 183.6,704.2 184.0,703.8 184.4,703.3 184.8,702.0 185.2,702.8 185.6,703.9 186.0,701.8 186.4,703.9 186.8,702.5 187.2,701.9 187.6,700.7 188.0,701.7 188.4,701.0 188.8,702.3 189.2,702.9 189.6,702.9 190.0,701.9 190.4,701.1 190.8,700.1 191.2,701.8 191.6,701.3 192.0,701.7 192.4,700.5 192.8,702.0 193.2,699.8 193.6,700.0 194.0,699.8 194.4,700.7 194.8,701.5 195.2,699.2 195.6,700.5 196.0,700.8 196.4,699.0 196.8,698.4 197.2,699.9 197.6,700.6 198.0,700.6 198.4,700.1 198.8,699.0 199.2,699.0 199.6,699.2 200.0,700.2 200.4,698.3 200.8,698.2 201.2,699.0 201.6,700.0 202.0,697.6 202.4,697.0 202.8,697.2 203.2,698.4 203.6,698.5 204.0,697.1 204.4,697.0 204.8,698.2 205.2,698.2 205.6,698.3 206.0,698.3 206.4,696.2 206.8,697.4 207.2,698.3 207.6,698.6 208.0,696.6 208.4,698.1 208.8,697.4 209.2,698.1 209.6,695.9 210.0,697.2 210.4,697.6 210.8,696.4 211.2,695.1 211.6,695.3 212.0,695.1 212.4,694.8 212.8,694.9 213.2,696.2 213.6,694.5 214.0,696.4 214.4,696.2 214.8,696.3 215.2,696.2 215.6,695.8 216.0,696.4 216.4,696.4 216.8,695.3 217.2,696.2 217.6,693.5 218.0,693.4 218.4,693.2 218.8,693.5 219.2,693.9 219.6,694.0 220.0,694.6 220.4,694.7 220.8,692.6 221.2,693.5 221.6,693.9 222.0,693.3 222.4,692.5 222.8,693.8 223.2,693.1 223.6,694.0 224.0,693.3 224.4,694.7 224.8,694.5 225.2,691.8 225.6,693.8 226.0,693.7 226.4,692.3 226.8,691.7 227.2,692.7 227.6,692.3 228.0,693.4 228.4,693.8 228.8,692.2 229.2,691.8 229.6,692.4 230.0,692.9 230.4,693.1 230.8,692.4 231.2,691.5 231.6,691.5 232.0,693.0 232.4,692.0 232.8,690.5 233.2,691.5 233.6,690.9 234.0,692.1 234.4,690.3 234.8,690.8 235.2,690.3 235.6,691.3 236.0,692.8 236.4,691.4 236.8,690.9 237.2,692.5 237.6,689.9 238.0,690.6 238.4,691.9 238.8,689.4 239.2,691.6 239.6,690.4 240.0,689.3 240.4,689.9 240.8,690.5 241.2,690.2 241.6,690.5 242.0,689.1 242.4,689.5 242.8,691.7 243.2,690.0 243.6,690.0 244.0,688.8 244.4,689.3 244.8,691.2 245.2,690.3 245.6,689.7 246.0,688.3 246.4,689.2 246.8,690.3 247.2,689.2 247.6,689.6 248.0,690.4 248.4,689.6 248.8,689.5 249.2,687.6 249.6,687.5 250.0,689.6 250.4,688.5 250.8,689.8 251.2,689.6 251.6,689.7 252.0,688.1 252.4,689.8 252.8,689.0 253.2,689.3 253.6,687.0 254.0,688.8 254.4,687.6 254.8,689.1 255.2,689.0 255.6,686.6 256.0,687.1 256.4,686.5 256.8,687.0 257.2,686.3 257.6,687.3 258.0,685.6 258.4,685.6 258.8,686.4 259.2,685.1 259.6,685.9 260.0,687.3 260.4,687.2 260.8,685.0 261.2,684.3 261.6,686.6 262.0,686.9 262.4,685.7 262.8,684.2 263.2,684.4 263.6,686.3 264.0,686.2 264.4,683.4 264.8,683.7 265.2,684.3 265.6,683.6 266.0,684.9 266.4,683.6 266.8,684.7 267.2,682.7 267.6,683.6 268.0,684.8 268.4,683.8 268.8,681.8 269.2,681.7 269.6,683.2 270.0,682.2 270.4,682.0 270.8,682.2 271.2,682.3 271.6,683.3 272.0,681.0 272.4,681.8 272.8,680.7 273.2,681.4 273.6,681.8 274.0,679.9 274.4,680.8 274.8,681.3 275.2,679.0 275.6,681.2 276.0,679.9 276.4,680.1 276.8,680.3 277.2,680.7 277.6,678.4 278.0,679.7 278.4,678.2 278.8,679.1 279.2,678.9 279.6,677.8 280.0,678.6 280.4,678.9 280.8,679.4 281.2,680.2 281.6,678.4 282.0,678.8 282.4,679.2 282.8,679.8 283.2,679.7 283.6,679.8 284.0,677.6 284.4,677.1 284.8,679.3 285.2,676.6 285.6,677.7 286.0,678.4 286.4,677.7 286.8,677.2 287.2,678.7 287.6,676.7 288.0,677.4 288.4,678.1 288.8,675.9 289.2,676.4 289.6,676.7 290.0,676.8 290.4,675.6 290.8,676.2 291.2,674.9 291.6,674.8 292.0,675.5 292.4,674.7 292.8,677.1 293.2,674.8 293.6,674.7 294.0,676.1 294.4,675.9 294.8,674.3 295.2,675.9 295.6,675.2 296.0,674.3 296.4,674.9 296.8,673.6 297.2,673.6 297.6,675.3 298.0,673.8 298.4,675.1 298.8,672.8 299.2,672.5 299.6,672.2 300.0,674.2 300.4,673.6 300.8,671.9 301.2,672.0 301.6,674.3 302.0,673.2 302.4,674.3 302.8,671.7 303.2,673.3 303.6,671.9 304.0,673.6 304.4,673.2 304.8,673.2 305.2,671.9 305.6,674.1 306.0,671.5 306.4,671.3 306.8,673.1 307.2,671.3 307.6,671.1 308.0,672.3 308.4,672.8 308.8,673.5 309.2,672.9 309.6,670.9 310.0,672.5 310.4,673.1 310.8,670.9 311.2,672.7 311.6,671.2 312.0,671.2 312.4,670.3 312.8,672.5 313.2,671.7 313.6,672.8 314.0,671.5 314.4,670.5 314.8,670.6 315.2,670.7 315.6,672.7 316.0,670.4 316.4,670.0 316.8,670.7 317.2,669.9 317.6,670.8 318.0,671.4 318.4,671.4 318.8,669.9 319.2,669.8 319.6,670.8 320.0,671.3 320.4,670.5 320.8,670.8 321.2,671.8 321.6,669.4 322.0,669.8 322.4,670.4 322.8,670.2 323.2,670.9 323.6,669.6 324.0,669.6 324.4,668.5 324.8,669.2 325.2,668.6 325.6,666.3 326.0,665.1 326.4,664.8 326.8,664.4 327.2,665.3 327.6,662.8 328.0,663.1 328.4,662.5 328.8,662.7 329.2,659.5 329.6,660.9 330.0,659.1 330.4,657.8 330.8,658.9 331.2,659.0 331.6,657.7 332.0,655.6 332.4,657.8 332.8,655.5 333.2,655.7 333.6,655.5 334.0,653.5 334.4,653.4 334.8,652.7 335.2,651.4 335.6,650.8 336.0,652.2 336.4,650.9 336.8,652.0 337.2,649.3 337.6,649.8 338.0,649.2 338.4,651.2 338.8,650.5 339.2,650.6 339.6,649.1 340.0,647.7 340.4,648.4 340.8,647.5 341.2,646.7 341.6,648.1 342.0,647.0 342.4,646.2 342.8,647.1 343.2,648.1 343.6,647.9 344.0,646.2 344.4,644.9 344.8,646.6 345.2,644.4 345.6,645.5 346.0,643.9 346.4,646.3 346.8,644.7 347.2,644.2 347.6,643.5 348.0,644.1 348.4,645.1 348.8,643.2 349.2,642.3 349.6,643.0 350.0,644.0 350.4,642.1 350.8,642.6 351.2,643.2 351.6,641.2 352.0,642.4 352.4,641.3 352.8,639.9 353.2,639.4 353.6,641.9 354.0,640.2 354.4,639.9 354.8,641.1 355.2,639.8 355.6,639.3 356.0,638.5 356.4,639.6 356.8,637.9 357.2,638.3 357.6,639.0 358.0,638.3 358.4,636.7 358.8,636.7 359.2,638.0 359.6,637.9 360.0,635.8 360.4,638.3 360.8,635.5 361.2,635.4 361.6,635.0 362.0,635.8 362.4,636.2 362.8,636.7 363.2,634.4 363.6,635.8 364.0,633.8 364.4,635.0 364.8,633.9 365.2,634.0 365.6,632.9 366.0,634.7 366.4,632.7 366.8,634.4 367.2,632.9 367.6,633.5 368.0,633.4 368.4,632.8 368.8,633.7 369.2,633.6 369.6,631.4 370.0,631.3 370.4,632.6 370.8,630.1 371.2,630.7 371.6,630.4 372.0,631.9 372.4,629.1 372.8,630.4 373.2,630.4 373.6,630.1 374.0,627.6 374.4,630.2 374.8,628.0 375.2,629.4 375.6,628.5 376.0,627.2 376.4,627.9 376.8,626.9 377.2,625.4 377.6,626.0 378.0,624.8 378.4,624.9 378.8,624.1 379.2,624.1 379.6,621.7 380.0,622.2 380.4,620.2 380.8,622.0 381.2,621.4 381.6,621.1 382.0,618.2 382.4,619.1 382.8,618.5 383.2,616.9 383.6,616.6 384.0,618.5 384.4,617.6 384.8,615.2 385.2,616.5 385.6,615.5 386.0,614.2 386.4,614.5 386.8,612.7 387.2,612.4 387.6,611.1 388.0,612.5 388.4,611.8 388.8,611.8 389.2,610.6 389.6,610.0 390.0,609.4 390.4,610.4 390.8,609.1 391.2,609.5 391.6,609.8 392.0,608.6 392.4,609.1 392.8,607.0 393.2,607.3 393.6,608.8 394.0,606.5 394.4,606.0 394.8,605.6 395.2,607.6 395.6,605.4" fill="none" stroke="#cf1d24" stroke-width="1.15" stroke-linejoin="round"/>
<text x="105.7" y="747.3" font-size="14" fill="#c8202a" text-anchor="start" font-weight="normal" font-style="normal" >Immediate water removal onset</text>
<line x1="98.0" y1="753.0" x2="98.0" y2="797.0" stroke="#555" stroke-width="2" stroke-dasharray="5.5,2.2" />
<polygon points="98.0,805.0 94.2,795.0 101.8,795.0" fill="#555"/>
<line x1="336.7" y1="686.0" x2="336.7" y2="797.0" stroke="#555" stroke-width="2" stroke-dasharray="5.5,2.2" />
<polygon points="336.7,805.0 332.9,795.0 340.5,795.0" fill="#555"/>
<text x="425.3" y="21.3" font-size="15.5" fill="#111" text-anchor="start" font-weight="bold" font-style="normal" >B</text>
<circle cx="470.8" cy="10.0" r="7.2" fill="url(#bd)"/>
<circle cx="470.8" cy="29.6" r="7.2" fill="url(#bd)"/>
<circle cx="470.8" cy="49.2" r="7.2" fill="url(#bd)"/>
<circle cx="470.8" cy="69.0" r="7.2" fill="url(#bd)"/>
<circle cx="470.8" cy="89.0" r="7.2" fill="url(#bd)"/>
<circle cx="470.8" cy="110.0" r="7.2" fill="url(#bd)"/>
<circle cx="470.8" cy="130.8" r="7.2" fill="url(#bd)"/>
<circle cx="532.8" cy="13.3" r="11.0" fill="url(#bd)"/>
<circle cx="532.8" cy="33.9" r="7.4" fill="url(#bd)"/>
<circle cx="532.8" cy="57.0" r="11.0" fill="url(#bd)"/>
<circle cx="532.8" cy="83.3" r="11.0" fill="url(#bd)"/>
<circle cx="532.8" cy="106.1" r="7.4" fill="url(#bd)"/>
<circle cx="532.8" cy="127.4" r="11.0" fill="url(#bd)"/>
<circle cx="595.8" cy="12.0" r="11.0" fill="url(#bd)"/>
<circle cx="595.8" cy="38.0" r="11.0" fill="url(#bd)"/>
<circle cx="595.8" cy="67.6" r="14.3" fill="url(#bd)"/>
<circle cx="595.8" cy="98.3" r="14.3" fill="url(#bd)"/>
<circle cx="595.8" cy="126.8" r="11.0" fill="url(#bd)"/>
<circle cx="658.2" cy="12.2" r="11.0" fill="url(#bd)"/>
<circle cx="657.6" cy="39.6" r="14.3" fill="url(#bd)"/>
<circle cx="658.2" cy="69.5" r="7.3" fill="url(#bd)"/>
<circle cx="658.2" cy="90.1" r="7.3" fill="url(#bd)"/>
<circle cx="658.2" cy="110.7" r="7.3" fill="url(#bd)"/>
<circle cx="658.2" cy="131.2" r="7.3" fill="url(#bd)"/>
<rect x="470.8" y="0" width="20.8" height="139.6" fill="#cdd1cc"/>
<rect x="532.8" y="0" width="20.8" height="139.6" fill="#cdd1cc"/>
<rect x="595.8" y="0" width="20.8" height="139.6" fill="#cdd1cc"/>
<rect x="658.2" y="0" width="20.8" height="139.6" fill="#cdd1cc"/>
<line x1="595.6" y1="67.7" x2="588.0" y2="61.5" stroke="#ffffff" stroke-width="1.1" />
<polygon points="585.5,59.5 590.0,60.7 587.6,63.6" fill="#ffffff"/>
<line x1="595.6" y1="98.3" x2="588.0" y2="92.1" stroke="#ffffff" stroke-width="1.1" />
<polygon points="585.5,90.1 590.0,91.3 587.6,94.2" fill="#ffffff"/>
<line x1="658.0" y1="39.8" x2="650.3" y2="33.8" stroke="#ffffff" stroke-width="1.1" />
<polygon points="647.7,31.8 652.2,32.9 649.9,35.9" fill="#ffffff"/>
<line x1="584.5" y1="69.0" x2="584.5" y2="79.9" stroke="#555" stroke-width="1.8" />
<polygon points="584.5,86.4 581.4,78.9 587.6,78.9" fill="#555"/>
<line x1="584.5" y1="100.0" x2="584.5" y2="110.3" stroke="#555" stroke-width="1.8" />
<polygon points="584.5,116.8 581.4,109.3 587.6,109.3" fill="#555"/>
<line x1="646.5" y1="40.3" x2="646.5" y2="52.0" stroke="#555" stroke-width="1.8" />
<polygon points="646.5,58.5 643.4,51.0 649.6,51.0" fill="#555"/>
<text x="597.4" y="63.7" font-size="11.3" fill="#333" text-anchor="start" font-weight="normal" font-style="italic" >R<tspan font-size="9" dy="3.6">c</tspan></text>
<text x="597.4" y="94.5" font-size="11.3" fill="#333" text-anchor="start" font-weight="normal" font-style="italic" >R<tspan font-size="9" dy="3.6">c</tspan></text>
<text x="660.0" y="36.3" font-size="11.3" fill="#333" text-anchor="start" font-weight="normal" font-style="italic" >R<tspan font-size="9" dy="3.6">c</tspan></text>
<line x1="584.5" y1="123.7" x2="584.5" y2="206.0" stroke="#555" stroke-width="1" stroke-dasharray="1.6,1.6" />
<line x1="471.2" y1="229.0" x2="471.2" y2="157.9" stroke="#333" stroke-width="1.5" />
<polygon points="471.2,151.9 473.7,158.9 468.7,158.9" fill="#333"/>
<line x1="471.2" y1="229.0" x2="666.7" y2="229.0" stroke="#333" stroke-width="1.5" />
<polygon points="672.7,229.0 665.7,231.5 665.7,226.5" fill="#333"/>
<polyline points="584.4,229.0 584.4,215.4 595.6,215.4 595.6,206.6 610.5,206.6 610.5,192.6 625.1,192.6 625.1,183.1 646.5,183.1 646.5,177.4 654.0,177.4" fill="none" stroke="#6c63c6" stroke-width="1.3" />
<text x="446.4" y="199.6" font-size="23" fill="#111" text-anchor="start" font-weight="normal" font-style="italic" >V</text>
<text x="563.6" y="254.8" font-size="22" fill="#111" text-anchor="start" font-weight="normal" font-style="italic" >t</text>
<text x="605.8" y="166.2" font-size="12.1" fill="#333" text-anchor="start" font-weight="normal" font-style="normal" >Sliding mode</text>
<text x="425.3" y="290.1" font-size="15.5" fill="#111" text-anchor="start" font-weight="bold" font-style="normal" >D</text>
<rect x="470.8" y="270.1" width="21.2" height="140.2" fill="#dccbd1"/>
<rect x="532.8" y="270.1" width="21.2" height="140.2" fill="#dccbd1"/>
<rect x="595.8" y="270.1" width="21.2" height="140.2" fill="#dccbd1"/>
<rect x="658.2" y="270.1" width="21.2" height="140.2" fill="#dccbd1"/>
<polygon points="470.9,270.1 470.9,410.3 463.0,410.3" fill="url(#wedge)"/>
<polygon points="595.9,270.1 595.9,410.3 585.5,410.3" fill="url(#wedge)"/>
<polygon points="658.1,270.1 658.1,410.3 648.0,410.3" fill="url(#wedge)"/>
<path d="M533.6,270.1 L533.2,416.3 A5.9,5.9 0 0 1 521.4,416.3 Z" fill="url(#wedge)"/>
<path d="M590.4,411 C592,415 596.2,420 596.2,426 A5.8,5.8 0 0 1 584.6,426 C584.6,420 588.8,415 590.4,411 Z" fill="url(#tear)"/>
<text x="510.9" y="436.5" font-size="12" fill="#333" text-anchor="start" font-weight="normal" font-style="normal" >Puddle</text>
<line x1="590.5" y1="423.5" x2="590.5" y2="462.0" stroke="#666" stroke-width="1.3" />
<polygon points="590.5,469.4 587.5,461.4 593.5,461.4" fill="#666"/>
<line x1="471.2" y1="499.3" x2="471.2" y2="427.9" stroke="#333" stroke-width="1.5" />
<polygon points="471.2,421.9 473.7,428.9 468.7,428.9" fill="#333"/>
<line x1="471.2" y1="499.3" x2="666.7" y2="499.3" stroke="#333" stroke-width="1.5" />
<polygon points="672.7,499.3 665.7,501.8 665.7,496.8" fill="#333"/>
<polyline points="590.5,499.3 590.5,477.3 609.2,477.3 609.2,453.5 637.7,453.5 637.7,438.2 647.9,438.2" fill="none" stroke="#6c63c6" stroke-width="1.3" />
<text x="446.4" y="470.9" font-size="23" fill="#111" text-anchor="start" font-weight="normal" font-style="italic" >V</text>
<text x="563.6" y="524.8" font-size="22" fill="#111" text-anchor="start" font-weight="normal" font-style="italic" >t</text>
<text x="425.3" y="558.8" font-size="15.5" fill="#111" text-anchor="start" font-weight="bold" font-style="normal" >F</text>
<circle cx="465.6" cy="548.4" r="7.4" fill="url(#sph)"/>
<circle cx="465.6" cy="568.8" r="7.4" fill="url(#sph)"/>
<circle cx="465.6" cy="587.5" r="7.4" fill="url(#sph)"/>
<circle cx="465.6" cy="649.6" r="7.4" fill="url(#sph)"/>
<circle cx="465.6" cy="669.7" r="7.4" fill="url(#sph)"/>
<circle cx="449.0" cy="649.6" r="8.8" fill="url(#sph)"/>
<circle cx="528.0" cy="548.4" r="7.4" fill="url(#sph)"/>
<circle cx="526.6" cy="566.3" r="8.8" fill="url(#sph)"/>
<circle cx="528.0" cy="627.0" r="7.4" fill="url(#sph)"/>
<circle cx="510.0" cy="627.0" r="8.8" fill="url(#sph)"/>
<circle cx="511.7" cy="694.3" r="11.0" fill="url(#sph)"/>
<circle cx="591.4" cy="549.5" r="7.4" fill="url(#sph)"/>
<circle cx="590.0" cy="568.6" r="8.8" fill="url(#sph)"/>
<circle cx="572.0" cy="616.3" r="8.8" fill="url(#sph)"/>
<circle cx="587.4" cy="628.6" r="10.8" fill="url(#sph)"/>
<circle cx="591.4" cy="652.0" r="7.4" fill="url(#sph)"/>
<circle cx="591.4" cy="668.4" r="7.4" fill="url(#sph)"/>
<circle cx="650.0" cy="551.8" r="10.8" fill="url(#sph)"/>
<circle cx="653.6" cy="571.2" r="7.4" fill="url(#sph)"/>
<circle cx="652.0" cy="589.8" r="8.8" fill="url(#sph)"/>
<circle cx="635.6" cy="652.0" r="8.8" fill="url(#sph)"/>
<circle cx="653.6" cy="652.0" r="7.4" fill="url(#sph)"/>
<circle cx="653.6" cy="668.4" r="7.4" fill="url(#sph)"/>
<rect x="470.8" y="540.0" width="21.2" height="140.70000000000005" fill="#d3bea6"/>
<rect x="532.8" y="540.0" width="21.2" height="140.70000000000005" fill="#d3bea6"/>
<rect x="595.8" y="540.0" width="21.2" height="140.70000000000005" fill="#d3bea6"/>
<rect x="658.2" y="540.0" width="21.2" height="140.70000000000005" fill="#d3bea6"/>
<circle cx="465.6" cy="610.5" r="7" fill="none" stroke="#666" stroke-width="1" stroke-dasharray="2.4,1.6"/>
<circle cx="465.6" cy="627.1" r="7" fill="none" stroke="#666" stroke-width="1" stroke-dasharray="2.4,1.6"/>
<circle cx="528.0" cy="588.0" r="7" fill="none" stroke="#666" stroke-width="1" stroke-dasharray="2.4,1.6"/>
<circle cx="528.0" cy="604.0" r="7" fill="none" stroke="#666" stroke-width="1" stroke-dasharray="2.4,1.6"/>
<circle cx="528.0" cy="648.0" r="7" fill="none" stroke="#666" stroke-width="1" stroke-dasharray="2.4,1.6"/>
<circle cx="528.0" cy="667.9" r="7" fill="none" stroke="#666" stroke-width="1" stroke-dasharray="2.4,1.6"/>
<circle cx="591.4" cy="585.9" r="7" fill="none" stroke="#666" stroke-width="1" stroke-dasharray="2.4,1.6"/>
<circle cx="591.4" cy="602.0" r="7" fill="none" stroke="#666" stroke-width="1" stroke-dasharray="2.4,1.6"/>
<circle cx="653.6" cy="612.7" r="7" fill="none" stroke="#666" stroke-width="1" stroke-dasharray="2.4,1.6"/>
<circle cx="653.6" cy="628.3" r="7" fill="none" stroke="#666" stroke-width="1" stroke-dasharray="2.4,1.6"/>
<rect x="471.40000000000003" y="540.0" width="20.6" height="140.70000000000005" fill="#d3bea6"/>
<rect x="533.4" y="540.0" width="20.6" height="140.70000000000005" fill="#d3bea6"/>
<rect x="596.4" y="540.0" width="20.6" height="140.70000000000005" fill="#d3bea6"/>
<rect x="658.8000000000001" y="540.0" width="20.6" height="140.70000000000005" fill="#d3bea6"/>
<path d="M469,616.5 Q452,618 449.5,633" fill="none" stroke="#555" stroke-width="1.1" stroke-dasharray="2.6,1.8"/>
<polygon points="449.5,639.0 446.5,632.0 452.5,632.0" fill="#555"/>
<path d="M531,592.9 Q514,596 510.8,610.5" fill="none" stroke="#555" stroke-width="1.1" stroke-dasharray="2.6,1.8"/>
<polygon points="510.8,616.5 507.8,609.5 513.8,609.5" fill="#555"/>
<path d="M531,656.5 Q514,660 512,675" fill="none" stroke="#555" stroke-width="1.1" stroke-dasharray="2.6,1.8"/>
<polygon points="512.0,681.0 509.0,674.0 515.0,674.0" fill="#555"/>
<path d="M594,591.5 Q578,593 573.3,598" fill="none" stroke="#555" stroke-width="1.1" stroke-dasharray="2.6,1.8"/>
<polygon points="573.3,604.0 570.3,597.0 576.3,597.0" fill="#555"/>
<path d="M656,619.5 Q641,624 636.2,635" fill="none" stroke="#555" stroke-width="1.1" stroke-dasharray="2.6,1.8"/>
<polygon points="636.2,641.0 633.2,634.0 639.2,634.0" fill="#555"/>
<line x1="586.6" y1="628.4" x2="582.2" y2="623.1" stroke="#ffffff" stroke-width="1.1" />
<polygon points="580.8,621.4 584.9,623.4 582.0,625.8" fill="#ffffff"/>
<line x1="650.2" y1="551.9" x2="646.0" y2="546.8" stroke="#ffffff" stroke-width="1.1" />
<polygon points="644.6,545.1 648.7,547.1 645.8,549.5" fill="#ffffff"/>
<line x1="578.5" y1="631.0" x2="578.5" y2="646.9" stroke="#555" stroke-width="1.8" />
<polygon points="578.5,653.4 575.4,645.9 581.6,645.9" fill="#555"/>
<line x1="642.5" y1="556.0" x2="642.5" y2="570.9" stroke="#555" stroke-width="1.8" />
<polygon points="642.5,577.4 639.4,569.9 645.6,569.9" fill="#555"/>
<text x="589.0" y="628.6" font-size="11.3" fill="#333" text-anchor="start" font-weight="normal" font-style="italic" >R<tspan font-size="9" dy="3.6">c</tspan></text>
<text x="652.0" y="551.8" font-size="11.3" fill="#333" text-anchor="start" font-weight="normal" font-style="italic" >R<tspan font-size="9" dy="3.6">c</tspan></text>
<line x1="578.3" y1="660.5" x2="578.3" y2="742.8" stroke="#555" stroke-width="1" stroke-dasharray="2.2,1.8" />
<line x1="471.2" y1="770.5" x2="471.2" y2="698.9" stroke="#111" stroke-width="1.5" />
<polygon points="471.2,692.9 473.7,699.9 468.7,699.9" fill="#111"/>
<line x1="471.2" y1="770.5" x2="675.2" y2="770.5" stroke="#111" stroke-width="1.5" />
<polygon points="681.2,770.5 674.2,773.0 674.2,768.0" fill="#111"/>
<polyline points="471.2,770.5 591.2,750.7 663.8,707.6" fill="none" stroke="#e06a6a" stroke-width="1.1" />
<text x="486.9" y="733.4" font-size="12.2" fill="#333" text-anchor="start" font-weight="normal" font-style="normal" >Jumping mode</text>
<text x="598.0" y="717.6" font-size="12.2" fill="#333" text-anchor="start" font-weight="normal" font-style="normal" >Jumping mode</text>
<text x="638.0" y="735.2" font-size="12.2" fill="#333" text-anchor="middle" font-weight="normal" font-style="normal" >+</text>
<text x="593.5" y="749.5" font-size="12.2" fill="#333" text-anchor="start" font-weight="normal" font-style="normal" >Sweeping mode</text>
<text x="446.4" y="740.2" font-size="23" fill="#111" text-anchor="start" font-weight="normal" font-style="italic" >V</text>
<text x="564.2" y="795.5" font-size="23" fill="#111" text-anchor="start" font-weight="normal" font-style="italic" >t</text>
<text x="426.3" y="802.0" font-size="15.5" fill="#111" text-anchor="start" font-weight="bold" font-style="normal" >H</text>
<rect x="443.8" y="819.3" width="245.49999999999994" height="229.70000000000005" fill="url(#hgrad)"/>
<polyline points="444.6,819.3 444.6,911.2 443.8,848.3 444.0,859.8 444.3,845.9 444.5,857.8 444.8,832.0 445.0,892.4 445.3,866.0 445.5,976.9 445.8,898.6 446.0,943.8 446.3,961.5 446.5,981.3 446.7,950.4 447.0,991.7 447.2,984.4 447.5,983.3 447.7,1000.7 448.0,973.4 448.2,977.9 448.5,954.8 448.7,978.9 449.0,971.9 449.2,981.0 449.4,972.0 449.7,984.4 449.9,994.6 450.2,956.2 450.4,957.6 450.7,966.7 450.9,974.1 451.2,988.8 451.4,991.0 451.7,989.9 451.9,995.1 452.1,980.0 452.4,988.4 452.6,978.9 452.9,989.3 453.1,977.0 453.4,979.8 453.6,998.8 453.9,994.5 454.1,979.3 454.4,989.3 454.6,978.4 454.8,991.5 455.1,999.2 455.3,987.5 455.6,984.7 455.8,996.5 456.1,1001.0 456.3,996.1 456.6,982.7 456.8,987.8 457.1,1002.4 457.3,1000.1 457.5,1003.9 457.8,1005.3 458.0,989.6 458.3,1003.7 458.5,995.8 458.8,998.8 459.0,1005.0 459.3,993.5 459.5,1007.2 459.8,996.3 460.0,1008.3 460.2,1002.0 460.5,1007.0 460.7,1006.1 461.0,991.0 461.2,995.1 461.5,1006.5 461.7,994.1 462.0,1009.4 462.2,1005.7 462.5,996.0 462.7,1001.0 462.9,1013.4 463.2,994.2 463.4,1011.7 463.7,1010.9 463.9,999.8 464.2,1009.8 464.4,1010.8 464.7,1015.9 464.9,1015.8 465.2,1005.1 465.4,1012.9 465.6,1005.2 465.9,1010.5 466.1,1008.9 466.4,998.0 466.6,1008.7 466.9,1006.9 467.1,1000.7 467.4,1015.9 467.6,1016.7 467.9,1000.1 468.1,1002.3 468.4,1014.9 468.6,1016.3 468.8,1004.3 469.1,1000.0 469.3,1016.5 469.6,1000.0 469.8,1001.1 470.1,1006.7 470.3,1010.3 470.6,1016.8 470.8,1017.8 471.1,997.0 471.3,1012.5 471.5,1001.8 471.8,1011.2 472.0,998.2 472.3,1002.8 472.5,1009.0 472.8,1011.1 473.0,998.7 473.3,1012.6 473.5,1008.5 473.8,1000.7 474.0,993.7 474.2,998.4 474.5,1002.6 475.0,995.4 475.5,1001.2 476.0,1001.9 476.5,998.5 476.9,995.7 477.4,998.4 477.9,996.3 478.4,993.5 478.9,990.6 479.4,994.0 479.9,990.8 480.4,984.8 480.9,983.0 481.4,985.2 481.9,984.0 482.3,984.1 482.8,987.5 483.3,987.6 483.8,986.9 484.3,977.5 484.8,978.8 485.3,975.5 485.8,983.9 486.3,977.2 486.8,978.0 487.3,974.8 487.7,978.1 488.2,970.8 488.7,979.0 489.2,973.7 489.7,971.1 490.2,968.9 490.7,969.9 491.2,969.7 491.7,968.3 492.2,966.6 492.7,971.5 493.1,967.7 493.6,965.1 494.1,964.8 494.6,968.6 495.1,964.5 495.6,963.2 496.1,965.5 496.6,964.4 497.1,966.2 497.6,963.7 498.1,962.9 498.5,967.5 499.0,961.5 499.5,957.6 500.0,958.3 500.5,959.3 501.0,962.1 501.5,958.3 502.0,959.3 502.5,960.2 503.0,955.9 503.5,962.7 503.9,955.9 504.4,962.3 504.9,956.4 505.4,957.1 505.9,959.1 506.4,954.1 506.9,955.6 507.4,954.1 507.9,950.7 508.4,956.7 508.9,958.6 509.3,955.4 509.8,951.3 510.3,955.5 510.8,955.4 511.3,947.8 511.8,949.8 512.3,951.5 512.8,946.7 513.3,951.7 513.8,948.0 514.3,952.1 514.7,949.4 515.2,945.4 515.7,943.9 516.2,943.8 516.7,948.2 517.2,945.8 517.7,948.0 518.2,949.3 518.7,945.4 519.2,941.6 519.7,941.1 520.2,942.0 520.6,939.3 521.1,945.3 521.6,945.9 522.1,942.8 522.6,944.1 523.1,944.2 523.6,941.9 524.1,939.5 524.6,940.5 525.1,941.9 525.6,936.5 526.0,934.8 526.5,939.6 527.0,942.9 527.5,943.0 528.0,934.5 528.5,942.2 529.0,935.5 529.5,936.5 530.0,938.7 530.5,933.7 531.0,940.9 531.4,939.4 531.9,936.0 532.4,939.8 532.9,931.8 533.4,937.1 533.9,937.8 534.4,938.3 534.9,932.4 535.4,933.8 535.9,932.3 536.4,931.9 536.8,930.9 537.3,929.9 537.8,931.0 538.3,933.1 538.8,931.5 539.3,932.7 539.8,933.3 540.3,930.7 540.8,929.2 541.3,931.6 541.8,930.8 542.2,930.2 542.7,928.1 543.2,928.8 543.7,928.0 544.2,927.0 544.7,928.6 545.2,926.3 545.7,925.4 546.2,929.3 546.7,924.8 547.2,925.5 547.6,928.3 548.1,926.3 548.6,925.2 549.1,923.6 549.6,926.0 550.1,924.8 550.6,923.0 551.1,923.2 551.6,922.3 552.1,924.5 552.6,923.3 553.0,925.3 553.5,922.5 554.0,921.7 554.5,922.4 555.0,921.8 555.5,924.1 556.0,920.4 556.5,919.8 557.0,919.6 557.5,921.6 558.0,920.0 558.4,922.2 558.9,919.0 559.4,919.0 559.9,921.4 560.4,922.5 560.9,920.5 561.4,919.7 561.9,918.5 562.4,919.7 562.9,921.8 563.4,917.7 563.8,921.3 564.3,917.4 564.8,920.4 565.3,919.4 565.8,916.9 566.3,920.0 566.8,919.8 567.3,917.7 567.8,916.5 568.3,915.7 568.8,916.3 569.3,914.8 569.7,916.9 570.2,914.4 570.7,918.6 571.2,917.7 571.7,916.0 572.2,917.0 572.7,914.6 573.2,914.9 573.7,915.3 574.2,913.5 574.7,914.7 575.1,915.8 575.6,915.3 576.1,912.7 576.6,912.3 577.1,915.6 577.6,912.2 578.1,911.4 578.6,913.4 579.1,913.1 579.6,914.9 580.1,913.1 580.5,913.1 581.0,912.5 581.5,915.4 582.0,910.5 582.5,912.7 583.0,913.2 583.5,911.1 584.0,912.2 584.5,912.5 585.0,911.4 585.5,914.4 585.9,911.9 586.4,912.5 586.9,909.7 587.4,909.7 587.9,912.9 588.4,911.8 588.9,913.5 589.4,911.8 589.9,909.8 590.4,909.3 590.9,911.3 591.3,912.1 591.8,912.7 592.3,910.5 592.8,908.9 593.3,912.8 593.8,909.5 594.3,913.3 594.8,912.4 595.3,912.2 595.8,909.8 596.3,911.6 596.7,911.4 597.2,910.0 597.7,912.6 598.2,909.3 598.7,912.4 599.2,910.4 599.7,911.6 600.2,911.9 600.7,910.1 601.2,910.6 601.7,910.8 602.1,910.6 602.6,910.0 603.1,911.8 603.6,911.5 604.1,909.3 604.6,909.2 605.1,909.7 605.6,908.0 606.1,909.2 606.6,907.9 607.1,911.0 607.5,908.4 608.0,908.0 608.5,907.5 609.0,910.4 609.5,910.4 610.0,907.3 610.5,910.8 611.0,906.8 611.5,907.3 612.0,911.1 612.5,910.5 612.9,908.0 613.4,910.3 613.9,911.1 614.4,907.3 614.9,909.3 615.4,907.4 615.9,910.7 616.4,909.2 616.9,907.6 617.4,910.8 617.9,909.8 618.4,907.2 618.8,905.9 619.3,905.5 619.8,909.7 620.3,907.5 620.8,906.1 621.3,907.3 621.8,906.2 622.3,908.6 622.8,909.1 623.3,908.7 623.8,908.9 624.2,906.2 624.7,906.3 625.2,905.8 625.7,907.8 626.2,907.5 626.7,907.3 627.2,903.9 627.7,903.0 628.2,903.2 628.7,907.3 629.2,907.4 629.6,902.8 630.1,905.1 630.6,903.5 631.1,905.6 631.6,904.7 632.1,904.4 632.6,904.7 633.1,904.1 633.6,907.7 634.1,904.8 634.6,904.7 635.0,908.7 635.5,907.9 636.0,907.1 636.5,909.4 637.0,911.0 637.5,911.8 638.0,910.7 638.5,913.8 639.0,910.0 639.5,911.0 640.0,912.1 640.4,911.9 640.9,913.7 641.4,915.3 641.9,914.9 642.4,915.9 642.9,914.1 643.4,915.5 643.9,918.8 644.4,916.1 644.9,917.5 645.4,917.9 645.8,918.2 646.3,920.8 646.8,918.6 647.3,918.9 647.8,920.1 648.3,920.0 648.8,920.3 649.3,922.3 649.8,921.0 650.3,924.5 650.8,923.4 651.2,923.0 651.7,925.5 652.2,924.0 652.7,922.9 653.2,923.2 653.7,925.4 654.2,922.0 654.7,923.7 655.2,925.6 655.7,924.2 656.2,924.7 656.6,924.9 657.1,925.7 657.6,922.7 658.1,924.6 658.6,924.3 659.1,924.1 659.6,923.0 660.1,927.9 660.6,925.0 661.1,924.4 661.6,926.9 662.0,926.3 662.5,928.1 663.0,927.4 663.5,926.6 664.0,928.0 664.5,927.3 665.0,924.1 665.5,926.0 666.0,926.4 666.5,924.2 667.0,926.3 667.5,924.3 667.9,926.2 668.4,925.5 668.9,929.3 669.4,926.8 669.9,926.1 670.4,929.8 670.9,925.5 671.4,929.5 671.9,928.0 672.4,929.7 672.9,928.2 673.3,927.7 673.8,930.6 674.3,926.4 674.8,929.3 675.3,929.0 675.8,928.9 676.3,930.4 676.8,931.1 677.3,929.5 677.8,930.2 678.3,931.9 678.7,930.0 679.2,932.4 679.7,934.1 680.2,933.2 680.7,934.5 681.2,934.2 681.7,931.5 682.2,933.6 682.7,931.3 683.2,932.3 683.7,936.1 684.1,931.7 684.6,932.2 685.1,936.8 685.6,932.9 686.1,935.6 686.6,935.4 687.1,932.9 687.6,936.6 688.1,935.2 688.6,933.1 689.1,934.2" fill="none" stroke="#d62d2d" stroke-width="0.8" stroke-linejoin="round"/>
<line x1="445.6" y1="945.6" x2="445.6" y2="1035.2" stroke="#d62d2d" stroke-width="0.8" />
<line x1="446.6" y1="957.1" x2="446.6" y2="1039.8" stroke="#d62d2d" stroke-width="0.8" />
<line x1="448.1" y1="952.5" x2="448.1" y2="1026.0" stroke="#d62d2d" stroke-width="0.8" />
<line x1="449.9" y1="961.7" x2="449.9" y2="1030.6" stroke="#d62d2d" stroke-width="0.8" />
<line x1="451.8" y1="968.6" x2="451.8" y2="1021.4" stroke="#d62d2d" stroke-width="0.8" />
<line x1="444.6" y1="819.3" x2="444.6" y2="945.6" stroke="#c81e1e" stroke-width="1.2" />
<polyline points="443.8,819.3 563.9,819.3 563.9,919.7 603.4,895.3 603.4,945.2 633.1,926.9 633.1,953.4 671.9,932.0 671.9,953.8 689.3,945.6" fill="none" stroke="#111" stroke-width="1.8" stroke-dasharray="4.3,2.8" />
<rect x="441.4" y="816.0" width="6.6" height="6.6" fill="#111"/>
<rect x="458.7" y="816.0" width="6.6" height="6.6" fill="#111"/>
<rect x="476.9" y="816.0" width="6.6" height="6.6" fill="#111"/>
<rect x="495.4" y="816.0" width="6.6" height="6.6" fill="#111"/>
<rect x="513.9" y="816.0" width="6.6" height="6.6" fill="#111"/>
<rect x="532.3" y="816.0" width="6.6" height="6.6" fill="#111"/>
<rect x="550.6" y="816.0" width="6.6" height="6.6" fill="#111"/>
<rect x="569.1" y="910.3" width="6.6" height="6.6" fill="#111"/>
<rect x="587.5" y="898.1" width="6.6" height="6.6" fill="#111"/>
<rect x="605.8" y="937.4" width="6.6" height="6.6" fill="#111"/>
<rect x="624.1" y="925.2" width="6.6" height="6.6" fill="#111"/>
<rect x="642.5" y="942.9" width="6.6" height="6.6" fill="#111"/>
<rect x="660.8" y="932.1" width="6.6" height="6.6" fill="#111"/>
<rect x="679.2" y="945.0" width="6.6" height="6.6" fill="#111"/>
<rect x="443.8" y="819.3" width="245.49999999999994" height="229.70000000000005" fill="none" stroke="#222" stroke-width="1.3"/>
<text x="443.8" y="1064.5" font-size="12" fill="#1a1a1a" text-anchor="middle" font-weight="normal" font-style="normal" >0</text>
<line x1="505.2" y1="1049.0" x2="505.2" y2="1044.5" stroke="#222" stroke-width="1" />
<text x="505.2" y="1064.5" font-size="12" fill="#1a1a1a" text-anchor="middle" font-weight="normal" font-style="normal" >1</text>
<line x1="566.5" y1="1049.0" x2="566.5" y2="1044.5" stroke="#222" stroke-width="1" />
<text x="566.5" y="1064.5" font-size="12" fill="#1a1a1a" text-anchor="middle" font-weight="normal" font-style="normal" >2</text>
<line x1="627.9" y1="1049.0" x2="627.9" y2="1044.5" stroke="#222" stroke-width="1" />
<text x="627.9" y="1064.5" font-size="12" fill="#1a1a1a" text-anchor="middle" font-weight="normal" font-style="normal" >3</text>
<text x="689.3" y="1064.5" font-size="12" fill="#1a1a1a" text-anchor="middle" font-weight="normal" font-style="normal" >4</text>
<text x="694.6" y="1052.6" font-size="10" fill="#1a1a1a" text-anchor="start" font-weight="normal" font-style="normal" >0</text>
<line x1="684.3" y1="1003.1" x2="689.3" y2="1003.1" stroke="#222" stroke-width="1" />
<text x="694.6" y="1006.7" font-size="10" fill="#1a1a1a" text-anchor="start" font-weight="normal" font-style="normal" >20</text>
<line x1="684.3" y1="957.1" x2="689.3" y2="957.1" stroke="#222" stroke-width="1" />
<text x="694.6" y="960.7" font-size="10" fill="#1a1a1a" text-anchor="start" font-weight="normal" font-style="normal" >40</text>
<line x1="684.3" y1="911.2" x2="689.3" y2="911.2" stroke="#222" stroke-width="1" />
<text x="694.6" y="914.8" font-size="10" fill="#1a1a1a" text-anchor="start" font-weight="normal" font-style="normal" >60</text>
<line x1="684.3" y1="865.2" x2="689.3" y2="865.2" stroke="#222" stroke-width="1" />
<text x="694.6" y="868.8" font-size="10" fill="#1a1a1a" text-anchor="start" font-weight="normal" font-style="normal" >80</text>
<text x="694.6" y="822.9" font-size="10" fill="#1a1a1a" text-anchor="start" font-weight="normal" font-style="normal" >100</text>
<text x="566.6" y="1087.2" font-size="15.9" fill="#1a1a1a" text-anchor="middle" font-weight="normal" font-style="normal" ><tspan font-style="italic">t</tspan> (h)</text>
<text transform="translate(727.8,953.6) rotate(-90)" font-size="15.6" fill="#1a1a1a"><tspan font-style="italic">L</tspan><tspan font-style="italic" font-size="11" dy="3">p</tspan><tspan dy="-3">(%)</tspan></text>
<text x="501.5" y="880.0" font-size="14.3" fill="#111" text-anchor="middle" font-weight="normal" font-style="normal" >Immediate</text>
<text x="501.5" y="894.5" font-size="14.3" fill="#111" text-anchor="middle" font-weight="normal" font-style="normal" >water removal</text>
<text x="501.5" y="909.0" font-size="14.3" fill="#111" text-anchor="middle" font-weight="normal" font-style="normal" >onset</text>
<line x1="481.4" y1="912.9" x2="451.3" y2="960.9" stroke="#111" stroke-width="1.2" />
<line x1="576.2" y1="1010.4" x2="602.8" y2="1010.4" stroke="#111" stroke-width="1.9" stroke-dasharray="4.3,2.9" />
<text x="608.2" y="1014.9" font-size="12.3" fill="#1a1a1a" text-anchor="start" font-weight="normal" font-style="italic" >BS</text>
<line x1="577.1" y1="1025.4" x2="604.7" y2="1025.4" stroke="#e06a6a" stroke-width="1" />
<text x="608.2" y="1029.7" font-size="12.3" fill="#1a1a1a" text-anchor="start" font-weight="normal" font-style="italic" >BSP</text>
<text x="3.8" y="801.5" font-size="15.5" fill="#111" text-anchor="start" font-weight="bold" font-style="normal" >G</text>
<g clip-path="url(#clipG1)">
<rect x="20.9" y="824.2" width="179.1" height="225" filter="url(#noise)"/>
<circle cx="42.6" cy="807.7" r="0.9" fill="#e4e4e4" opacity="0.53"/><circle cx="44.8" cy="807.3" r="0.9" fill="#e4e4e4" opacity="0.53"/><circle cx="47.0" cy="806.9" r="0.9" fill="#e4e4e4" opacity="0.53"/><circle cx="66.0" cy="804.9" r="1.0" fill="#e4e4e4" opacity="0.52"/><circle cx="68.2" cy="804.5" r="1.0" fill="#e4e4e4" opacity="0.52"/><circle cx="70.4" cy="804.1" r="1.0" fill="#e4e4e4" opacity="0.52"/><circle cx="91.9" cy="799.3" r="1.0" fill="#e4e4e4" opacity="0.75"/><circle cx="94.1" cy="798.9" r="1.0" fill="#e4e4e4" opacity="0.75"/><circle cx="108.0" cy="795.8" r="1.2" fill="#e4e4e4" opacity="0.59"/><circle cx="110.2" cy="795.4" r="1.2" fill="#e4e4e4" opacity="0.59"/><circle cx="128.9" cy="789.9" r="1.1" fill="#e4e4e4" opacity="0.90"/><circle cx="131.1" cy="789.5" r="1.1" fill="#e4e4e4" opacity="0.90"/><circle cx="143.1" cy="787.1" r="1.1" fill="#e4e4e4" opacity="0.57"/><circle cx="156.8" cy="784.3" r="0.9" fill="#e4e4e4" opacity="0.58"/><circle cx="166.2" cy="783.0" r="0.9" fill="#e4e4e4" opacity="0.61"/><circle cx="168.4" cy="782.6" r="0.9" fill="#e4e4e4" opacity="0.61"/><circle cx="190.6" cy="778.0" r="1.2" fill="#e4e4e4" opacity="0.93"/><circle cx="192.8" cy="777.6" r="1.2" fill="#e4e4e4" opacity="0.93"/><circle cx="25.2" cy="822.1" r="1.0" fill="#e4e4e4" opacity="0.52"/><circle cx="27.4" cy="821.7" r="1.0" fill="#e4e4e4" opacity="0.52"/><circle cx="34.8" cy="817.8" r="1.0" fill="#e4e4e4" opacity="0.53"/><circle cx="37.0" cy="817.4" r="1.0" fill="#e4e4e4" opacity="0.53"/><circle cx="39.2" cy="817.0" r="1.0" fill="#e4e4e4" opacity="0.53"/><circle cx="44.4" cy="816.1" r="0.9" fill="#e4e4e4" opacity="0.52"/><circle cx="46.6" cy="815.7" r="0.9" fill="#e4e4e4" opacity="0.52"/><circle cx="48.8" cy="815.3" r="0.9" fill="#e4e4e4" opacity="0.52"/><circle cx="87.0" cy="807.9" r="0.9" fill="#e4e4e4" opacity="0.67"/><circle cx="126.3" cy="798.0" r="1.1" fill="#e4e4e4" opacity="0.58"/><circle cx="136.8" cy="795.5" r="1.2" fill="#e4e4e4" opacity="0.56"/><circle cx="139.0" cy="795.1" r="1.2" fill="#e4e4e4" opacity="0.56"/><circle cx="178.8" cy="788.9" r="1.2" fill="#e4e4e4" opacity="0.68"/><circle cx="185.0" cy="786.8" r="0.9" fill="#e4e4e4" opacity="0.84"/><circle cx="187.2" cy="786.4" r="0.9" fill="#e4e4e4" opacity="0.84"/><circle cx="40.0" cy="824.1" r="1.0" fill="#e4e4e4" opacity="0.94"/><circle cx="42.2" cy="823.7" r="1.0" fill="#e4e4e4" opacity="0.94"/><circle cx="113.5" cy="807.2" r="0.9" fill="#e4e4e4" opacity="0.52"/><circle cx="171.3" cy="796.5" r="1.1" fill="#e4e4e4" opacity="0.59"/><circle cx="173.5" cy="796.1" r="1.1" fill="#e4e4e4" opacity="0.59"/><circle cx="181.3" cy="791.6" r="1.1" fill="#e4e4e4" opacity="0.78"/><circle cx="183.5" cy="791.2" r="1.1" fill="#e4e4e4" opacity="0.78"/><circle cx="191.5" cy="790.5" r="0.9" fill="#e4e4e4" opacity="0.82"/><circle cx="193.7" cy="790.1" r="0.9" fill="#e4e4e4" opacity="0.82"/><circle cx="40.6" cy="829.2" r="1.0" fill="#e4e4e4" opacity="0.78"/><circle cx="42.8" cy="828.8" r="1.0" fill="#e4e4e4" opacity="0.78"/><circle cx="45.0" cy="828.4" r="1.0" fill="#e4e4e4" opacity="0.78"/><circle cx="56.0" cy="827.6" r="1.0" fill="#e4e4e4" opacity="0.86"/><circle cx="58.2" cy="827.2" r="1.0" fill="#e4e4e4" opacity="0.86"/><circle cx="61.1" cy="825.0" r="0.9" fill="#e4e4e4" opacity="0.82"/><circle cx="63.3" cy="824.6" r="0.9" fill="#e4e4e4" opacity="0.82"/><circle cx="65.5" cy="824.2" r="0.9" fill="#e4e4e4" opacity="0.82"/><circle cx="73.1" cy="823.7" r="1.0" fill="#e4e4e4" opacity="0.59"/><circle cx="75.3" cy="823.3" r="1.0" fill="#e4e4e4" opacity="0.59"/><circle cx="84.3" cy="819.5" r="0.8" fill="#e4e4e4" opacity="0.74"/><circle cx="86.5" cy="819.1" r="0.8" fill="#e4e4e4" opacity="0.74"/><circle cx="88.7" cy="818.7" r="0.8" fill="#e4e4e4" opacity="0.74"/><circle cx="152.3" cy="803.9" r="0.8" fill="#e4e4e4" opacity="0.63"/><circle cx="154.5" cy="803.5" r="0.8" fill="#e4e4e4" opacity="0.63"/><circle cx="163.5" cy="801.2" r="0.9" fill="#e4e4e4" opacity="0.81"/><circle cx="171.0" cy="800.4" r="1.1" fill="#e4e4e4" opacity="0.62"/><circle cx="173.2" cy="800.0" r="1.1" fill="#e4e4e4" opacity="0.62"/><circle cx="175.4" cy="799.6" r="1.1" fill="#e4e4e4" opacity="0.62"/><circle cx="196.0" cy="795.4" r="0.8" fill="#e4e4e4" opacity="0.60"/><circle cx="198.2" cy="795.0" r="0.8" fill="#e4e4e4" opacity="0.60"/><circle cx="19.7" cy="841.9" r="0.9" fill="#e4e4e4" opacity="0.72"/><circle cx="21.9" cy="841.5" r="0.9" fill="#e4e4e4" opacity="0.72"/><circle cx="30.7" cy="838.8" r="0.9" fill="#e4e4e4" opacity="0.81"/><circle cx="32.9" cy="838.4" r="0.9" fill="#e4e4e4" opacity="0.81"/><circle cx="49.7" cy="833.7" r="1.0" fill="#e4e4e4" opacity="0.92"/><circle cx="51.9" cy="833.3" r="1.0" fill="#e4e4e4" opacity="0.92"/><circle cx="101.4" cy="823.0" r="1.0" fill="#e4e4e4" opacity="0.77"/><circle cx="103.6" cy="822.6" r="1.0" fill="#e4e4e4" opacity="0.77"/><circle cx="105.8" cy="822.2" r="1.0" fill="#e4e4e4" opacity="0.77"/><circle cx="110.2" cy="822.5" r="1.1" fill="#e4e4e4" opacity="0.95"/><circle cx="112.4" cy="822.1" r="1.1" fill="#e4e4e4" opacity="0.95"/><circle cx="132.1" cy="817.4" r="1.2" fill="#e4e4e4" opacity="0.90"/><circle cx="134.3" cy="817.0" r="1.2" fill="#e4e4e4" opacity="0.90"/><circle cx="154.8" cy="810.9" r="1.1" fill="#e4e4e4" opacity="0.60"/><circle cx="157.0" cy="810.5" r="1.1" fill="#e4e4e4" opacity="0.60"/><circle cx="159.2" cy="810.1" r="1.1" fill="#e4e4e4" opacity="0.60"/><circle cx="189.5" cy="803.7" r="1.2" fill="#e4e4e4" opacity="0.85"/><circle cx="24.4" cy="849.8" r="1.1" fill="#e4e4e4" opacity="0.71"/><circle cx="26.6" cy="849.4" r="1.1" fill="#e4e4e4" opacity="0.71"/><circle cx="38.8" cy="844.6" r="1.1" fill="#e4e4e4" opacity="0.83"/><circle cx="41.0" cy="844.2" r="1.1" fill="#e4e4e4" opacity="0.83"/><circle cx="49.4" cy="844.3" r="0.8" fill="#e4e4e4" opacity="0.90"/><circle cx="51.6" cy="843.9" r="0.8" fill="#e4e4e4" opacity="0.90"/><circle cx="59.6" cy="840.0" r="1.2" fill="#e4e4e4" opacity="0.55"/><circle cx="61.8" cy="839.6" r="1.2" fill="#e4e4e4" opacity="0.55"/><circle cx="66.7" cy="838.4" r="1.1" fill="#e4e4e4" opacity="0.85"/><circle cx="68.9" cy="838.0" r="1.1" fill="#e4e4e4" opacity="0.85"/><circle cx="71.1" cy="837.6" r="1.1" fill="#e4e4e4" opacity="0.85"/><circle cx="73.2" cy="838.3" r="0.9" fill="#e4e4e4" opacity="0.50"/><circle cx="75.4" cy="837.9" r="0.9" fill="#e4e4e4" opacity="0.50"/><circle cx="94.2" cy="834.6" r="1.2" fill="#e4e4e4" opacity="0.72"/><circle cx="96.4" cy="834.2" r="1.2" fill="#e4e4e4" opacity="0.72"/><circle cx="98.6" cy="833.8" r="1.2" fill="#e4e4e4" opacity="0.72"/><circle cx="115.4" cy="828.1" r="1.1" fill="#e4e4e4" opacity="0.79"/><circle cx="117.6" cy="827.7" r="1.1" fill="#e4e4e4" opacity="0.79"/><circle cx="119.8" cy="827.3" r="1.1" fill="#e4e4e4" opacity="0.79"/><circle cx="153.2" cy="819.7" r="1.0" fill="#e4e4e4" opacity="0.86"/><circle cx="171.2" cy="815.3" r="0.9" fill="#e4e4e4" opacity="0.88"/><circle cx="173.4" cy="814.9" r="0.9" fill="#e4e4e4" opacity="0.88"/><circle cx="189.5" cy="811.1" r="0.8" fill="#e4e4e4" opacity="0.74"/><circle cx="191.7" cy="810.7" r="0.8" fill="#e4e4e4" opacity="0.74"/><circle cx="49.9" cy="849.9" r="1.2" fill="#e4e4e4" opacity="0.85"/><circle cx="52.1" cy="849.5" r="1.2" fill="#e4e4e4" opacity="0.85"/><circle cx="54.3" cy="849.1" r="1.2" fill="#e4e4e4" opacity="0.85"/><circle cx="75.5" cy="845.0" r="1.0" fill="#e4e4e4" opacity="0.80"/><circle cx="77.7" cy="844.6" r="1.0" fill="#e4e4e4" opacity="0.80"/><circle cx="83.3" cy="843.3" r="1.1" fill="#e4e4e4" opacity="0.76"/><circle cx="85.5" cy="842.9" r="1.1" fill="#e4e4e4" opacity="0.76"/><circle cx="96.6" cy="838.8" r="0.8" fill="#e4e4e4" opacity="0.91"/><circle cx="98.8" cy="838.4" r="0.8" fill="#e4e4e4" opacity="0.91"/><circle cx="101.0" cy="838.0" r="0.8" fill="#e4e4e4" opacity="0.91"/><circle cx="122.9" cy="833.2" r="1.2" fill="#e4e4e4" opacity="0.78"/><circle cx="125.1" cy="832.8" r="1.2" fill="#e4e4e4" opacity="0.78"/><circle cx="127.3" cy="832.4" r="1.2" fill="#e4e4e4" opacity="0.78"/><circle cx="138.2" cy="829.4" r="1.0" fill="#e4e4e4" opacity="0.57"/><circle cx="140.4" cy="829.0" r="1.0" fill="#e4e4e4" opacity="0.57"/><circle cx="155.1" cy="825.8" r="1.2" fill="#e4e4e4" opacity="0.59"/><circle cx="157.3" cy="825.4" r="1.2" fill="#e4e4e4" opacity="0.59"/><circle cx="159.5" cy="825.0" r="1.2" fill="#e4e4e4" opacity="0.59"/><circle cx="166.4" cy="823.1" r="0.9" fill="#e4e4e4" opacity="0.65"/><circle cx="168.6" cy="822.7" r="0.9" fill="#e4e4e4" opacity="0.65"/><circle cx="183.5" cy="819.0" r="1.1" fill="#e4e4e4" opacity="0.65"/><circle cx="185.7" cy="818.6" r="1.1" fill="#e4e4e4" opacity="0.65"/><circle cx="20.5" cy="863.8" r="1.1" fill="#e4e4e4" opacity="0.90"/><circle cx="49.0" cy="858.8" r="0.8" fill="#e4e4e4" opacity="0.73"/><circle cx="51.2" cy="858.4" r="0.8" fill="#e4e4e4" opacity="0.73"/><circle cx="54.9" cy="855.6" r="1.1" fill="#e4e4e4" opacity="0.55"/><circle cx="57.1" cy="855.2" r="1.1" fill="#e4e4e4" opacity="0.55"/><circle cx="59.3" cy="854.8" r="1.1" fill="#e4e4e4" opacity="0.55"/><circle cx="60.3" cy="856.3" r="1.0" fill="#e4e4e4" opacity="0.79"/><circle cx="62.5" cy="855.9" r="1.0" fill="#e4e4e4" opacity="0.79"/><circle cx="84.8" cy="851.9" r="1.0" fill="#e4e4e4" opacity="0.90"/><circle cx="87.0" cy="851.5" r="1.0" fill="#e4e4e4" opacity="0.90"/><circle cx="95.7" cy="847.0" r="0.9" fill="#e4e4e4" opacity="0.59"/><circle cx="97.9" cy="846.6" r="0.9" fill="#e4e4e4" opacity="0.59"/><circle cx="111.5" cy="844.1" r="1.2" fill="#e4e4e4" opacity="0.81"/><circle cx="113.7" cy="843.7" r="1.2" fill="#e4e4e4" opacity="0.81"/><circle cx="116.7" cy="844.4" r="1.0" fill="#e4e4e4" opacity="0.88"/><circle cx="118.9" cy="844.0" r="1.0" fill="#e4e4e4" opacity="0.88"/><circle cx="131.7" cy="841.4" r="1.1" fill="#e4e4e4" opacity="0.65"/><circle cx="133.9" cy="841.0" r="1.1" fill="#e4e4e4" opacity="0.65"/><circle cx="139.4" cy="839.3" r="1.0" fill="#e4e4e4" opacity="0.61"/><circle cx="183.2" cy="827.5" r="1.2" fill="#e4e4e4" opacity="0.54"/><circle cx="185.4" cy="827.1" r="1.2" fill="#e4e4e4" opacity="0.54"/><circle cx="187.6" cy="826.7" r="1.2" fill="#e4e4e4" opacity="0.54"/><circle cx="191.6" cy="828.2" r="0.8" fill="#e4e4e4" opacity="0.78"/><circle cx="201.7" cy="823.4" r="0.8" fill="#e4e4e4" opacity="0.82"/><circle cx="203.9" cy="823.0" r="0.8" fill="#e4e4e4" opacity="0.82"/><circle cx="57.4" cy="861.9" r="1.1" fill="#e4e4e4" opacity="0.85"/><circle cx="59.6" cy="861.5" r="1.1" fill="#e4e4e4" opacity="0.85"/><circle cx="71.5" cy="857.8" r="1.1" fill="#e4e4e4" opacity="0.71"/><circle cx="73.7" cy="857.4" r="1.1" fill="#e4e4e4" opacity="0.71"/><circle cx="131.8" cy="846.5" r="1.2" fill="#e4e4e4" opacity="0.69"/><circle cx="134.0" cy="846.1" r="1.2" fill="#e4e4e4" opacity="0.69"/><circle cx="136.2" cy="845.7" r="1.2" fill="#e4e4e4" opacity="0.69"/><circle cx="138.7" cy="844.3" r="1.2" fill="#e4e4e4" opacity="0.88"/><circle cx="172.2" cy="837.8" r="1.1" fill="#e4e4e4" opacity="0.81"/><circle cx="174.4" cy="837.4" r="1.1" fill="#e4e4e4" opacity="0.81"/><circle cx="176.6" cy="837.0" r="1.1" fill="#e4e4e4" opacity="0.81"/><circle cx="184.1" cy="833.7" r="1.0" fill="#e4e4e4" opacity="0.90"/><circle cx="186.3" cy="833.3" r="1.0" fill="#e4e4e4" opacity="0.90"/><circle cx="21.3" cy="876.1" r="1.2" fill="#e4e4e4" opacity="0.93"/><circle cx="23.5" cy="875.7" r="1.2" fill="#e4e4e4" opacity="0.93"/><circle cx="41.0" cy="872.3" r="0.9" fill="#e4e4e4" opacity="0.79"/><circle cx="43.2" cy="871.9" r="0.9" fill="#e4e4e4" opacity="0.79"/><circle cx="47.2" cy="871.9" r="0.8" fill="#e4e4e4" opacity="0.52"/><circle cx="67.3" cy="866.3" r="0.8" fill="#e4e4e4" opacity="0.71"/><circle cx="69.5" cy="865.9" r="0.8" fill="#e4e4e4" opacity="0.71"/><circle cx="86.8" cy="863.4" r="0.9" fill="#e4e4e4" opacity="0.65"/><circle cx="89.0" cy="863.0" r="0.9" fill="#e4e4e4" opacity="0.65"/><circle cx="91.2" cy="862.6" r="0.9" fill="#e4e4e4" opacity="0.65"/><circle cx="96.3" cy="861.9" r="1.1" fill="#e4e4e4" opacity="0.52"/><circle cx="98.5" cy="861.5" r="1.1" fill="#e4e4e4" opacity="0.52"/><circle cx="106.9" cy="858.1" r="1.1" fill="#e4e4e4" opacity="0.62"/><circle cx="109.1" cy="857.7" r="1.1" fill="#e4e4e4" opacity="0.62"/><circle cx="111.3" cy="857.3" r="1.1" fill="#e4e4e4" opacity="0.62"/><circle cx="141.8" cy="851.2" r="0.8" fill="#e4e4e4" opacity="0.79"/><circle cx="144.0" cy="850.8" r="0.8" fill="#e4e4e4" opacity="0.79"/><circle cx="196.4" cy="839.9" r="0.8" fill="#e4e4e4" opacity="0.81"/><circle cx="198.6" cy="839.5" r="0.8" fill="#e4e4e4" opacity="0.81"/><circle cx="41.0" cy="878.3" r="0.9" fill="#e4e4e4" opacity="0.53"/><circle cx="43.2" cy="877.9" r="0.9" fill="#e4e4e4" opacity="0.53"/><circle cx="47.2" cy="878.2" r="1.2" fill="#e4e4e4" opacity="0.78"/><circle cx="49.4" cy="877.8" r="1.2" fill="#e4e4e4" opacity="0.78"/><circle cx="56.1" cy="876.9" r="0.9" fill="#e4e4e4" opacity="0.91"/><circle cx="71.7" cy="873.4" r="0.9" fill="#e4e4e4" opacity="0.60"/><circle cx="73.9" cy="873.0" r="0.9" fill="#e4e4e4" opacity="0.60"/><circle cx="76.8" cy="871.4" r="1.2" fill="#e4e4e4" opacity="0.77"/><circle cx="79.0" cy="871.0" r="1.2" fill="#e4e4e4" opacity="0.77"/><circle cx="86.7" cy="867.9" r="0.8" fill="#e4e4e4" opacity="0.63"/><circle cx="88.9" cy="867.5" r="0.8" fill="#e4e4e4" opacity="0.63"/><circle cx="91.1" cy="867.1" r="0.8" fill="#e4e4e4" opacity="0.63"/><circle cx="136.9" cy="857.0" r="1.1" fill="#e4e4e4" opacity="0.51"/><circle cx="139.1" cy="856.6" r="1.1" fill="#e4e4e4" opacity="0.51"/><circle cx="145.8" cy="856.0" r="0.8" fill="#e4e4e4" opacity="0.82"/><circle cx="148.0" cy="855.6" r="0.8" fill="#e4e4e4" opacity="0.82"/><circle cx="150.2" cy="855.2" r="0.8" fill="#e4e4e4" opacity="0.82"/><circle cx="160.2" cy="853.3" r="1.2" fill="#e4e4e4" opacity="0.56"/><circle cx="186.6" cy="845.4" r="0.8" fill="#e4e4e4" opacity="0.81"/><circle cx="188.8" cy="845.0" r="0.8" fill="#e4e4e4" opacity="0.81"/><circle cx="191.0" cy="844.6" r="0.8" fill="#e4e4e4" opacity="0.81"/><circle cx="25.5" cy="889.0" r="1.1" fill="#e4e4e4" opacity="0.86"/><circle cx="27.7" cy="888.6" r="1.1" fill="#e4e4e4" opacity="0.86"/><circle cx="51.5" cy="882.0" r="0.9" fill="#e4e4e4" opacity="0.72"/><circle cx="53.7" cy="881.6" r="0.9" fill="#e4e4e4" opacity="0.72"/><circle cx="70.3" cy="879.2" r="0.9" fill="#e4e4e4" opacity="0.67"/><circle cx="72.5" cy="878.8" r="0.9" fill="#e4e4e4" opacity="0.67"/><circle cx="92.4" cy="874.9" r="1.0" fill="#e4e4e4" opacity="0.61"/><circle cx="94.6" cy="874.5" r="1.0" fill="#e4e4e4" opacity="0.61"/><circle cx="101.9" cy="871.9" r="1.2" fill="#e4e4e4" opacity="0.65"/><circle cx="104.1" cy="871.5" r="1.2" fill="#e4e4e4" opacity="0.65"/><circle cx="157.5" cy="859.2" r="0.8" fill="#e4e4e4" opacity="0.63"/><circle cx="197.7" cy="851.1" r="1.1" fill="#e4e4e4" opacity="0.82"/><circle cx="199.9" cy="850.7" r="1.1" fill="#e4e4e4" opacity="0.82"/><circle cx="16.9" cy="895.7" r="1.0" fill="#e4e4e4" opacity="0.85"/><circle cx="19.1" cy="895.3" r="1.0" fill="#e4e4e4" opacity="0.85"/><circle cx="21.3" cy="894.9" r="1.0" fill="#e4e4e4" opacity="0.85"/><circle cx="37.7" cy="890.3" r="1.0" fill="#e4e4e4" opacity="0.73"/><circle cx="39.9" cy="889.9" r="1.0" fill="#e4e4e4" opacity="0.73"/><circle cx="59.5" cy="886.2" r="0.8" fill="#e4e4e4" opacity="0.81"/><circle cx="61.7" cy="885.8" r="0.8" fill="#e4e4e4" opacity="0.81"/><circle cx="103.6" cy="877.3" r="1.2" fill="#e4e4e4" opacity="0.95"/><circle cx="113.8" cy="875.5" r="1.2" fill="#e4e4e4" opacity="0.64"/><circle cx="116.0" cy="875.1" r="1.2" fill="#e4e4e4" opacity="0.64"/><circle cx="133.8" cy="869.8" r="1.2" fill="#e4e4e4" opacity="0.53"/><circle cx="136.0" cy="869.4" r="1.2" fill="#e4e4e4" opacity="0.53"/><circle cx="138.2" cy="869.0" r="1.2" fill="#e4e4e4" opacity="0.53"/><circle cx="169.1" cy="862.5" r="1.2" fill="#e4e4e4" opacity="0.67"/><circle cx="171.3" cy="862.1" r="1.2" fill="#e4e4e4" opacity="0.67"/><circle cx="180.4" cy="860.4" r="1.1" fill="#e4e4e4" opacity="0.72"/><circle cx="182.6" cy="860.0" r="1.1" fill="#e4e4e4" opacity="0.72"/><circle cx="191.6" cy="858.7" r="1.1" fill="#e4e4e4" opacity="0.65"/><circle cx="193.8" cy="858.3" r="1.1" fill="#e4e4e4" opacity="0.65"/><circle cx="202.7" cy="854.7" r="1.0" fill="#e4e4e4" opacity="0.55"/><circle cx="204.9" cy="854.3" r="1.0" fill="#e4e4e4" opacity="0.55"/><circle cx="207.1" cy="853.9" r="1.0" fill="#e4e4e4" opacity="0.55"/><circle cx="27.6" cy="899.7" r="1.0" fill="#e4e4e4" opacity="0.56"/><circle cx="29.8" cy="899.3" r="1.0" fill="#e4e4e4" opacity="0.56"/><circle cx="60.7" cy="891.5" r="0.9" fill="#e4e4e4" opacity="0.58"/><circle cx="62.9" cy="891.1" r="0.9" fill="#e4e4e4" opacity="0.58"/><circle cx="75.6" cy="889.3" r="0.9" fill="#e4e4e4" opacity="0.74"/><circle cx="77.8" cy="888.9" r="0.9" fill="#e4e4e4" opacity="0.74"/><circle cx="80.0" cy="888.5" r="0.9" fill="#e4e4e4" opacity="0.74"/><circle cx="112.6" cy="881.9" r="0.9" fill="#e4e4e4" opacity="0.62"/><circle cx="122.4" cy="879.5" r="1.2" fill="#e4e4e4" opacity="0.79"/><circle cx="144.7" cy="875.2" r="1.2" fill="#e4e4e4" opacity="0.64"/><circle cx="146.9" cy="874.8" r="1.2" fill="#e4e4e4" opacity="0.64"/><circle cx="199.1" cy="862.9" r="0.9" fill="#e4e4e4" opacity="0.62"/><circle cx="201.3" cy="862.5" r="0.9" fill="#e4e4e4" opacity="0.62"/><circle cx="51.2" cy="900.0" r="1.0" fill="#e4e4e4" opacity="0.58"/><circle cx="53.4" cy="899.6" r="1.0" fill="#e4e4e4" opacity="0.58"/><circle cx="55.6" cy="899.2" r="1.0" fill="#e4e4e4" opacity="0.58"/><circle cx="65.2" cy="898.6" r="1.0" fill="#e4e4e4" opacity="0.63"/><circle cx="67.4" cy="898.2" r="1.0" fill="#e4e4e4" opacity="0.63"/><circle cx="92.5" cy="890.8" r="1.2" fill="#e4e4e4" opacity="0.67"/><circle cx="116.9" cy="885.4" r="1.0" fill="#e4e4e4" opacity="0.71"/><circle cx="119.1" cy="885.0" r="1.0" fill="#e4e4e4" opacity="0.71"/><circle cx="121.3" cy="884.6" r="1.0" fill="#e4e4e4" opacity="0.71"/><circle cx="124.7" cy="883.0" r="0.8" fill="#e4e4e4" opacity="0.56"/><circle cx="179.6" cy="871.0" r="0.8" fill="#e4e4e4" opacity="0.61"/><circle cx="181.8" cy="870.6" r="0.8" fill="#e4e4e4" opacity="0.61"/><circle cx="184.8" cy="869.7" r="0.9" fill="#e4e4e4" opacity="0.68"/><circle cx="187.0" cy="869.3" r="0.9" fill="#e4e4e4" opacity="0.68"/><circle cx="189.2" cy="868.9" r="0.9" fill="#e4e4e4" opacity="0.68"/><circle cx="202.6" cy="866.1" r="0.9" fill="#e4e4e4" opacity="0.78"/><circle cx="204.8" cy="865.7" r="0.9" fill="#e4e4e4" opacity="0.78"/><circle cx="207.0" cy="865.3" r="0.9" fill="#e4e4e4" opacity="0.78"/><circle cx="38.3" cy="909.0" r="0.8" fill="#e4e4e4" opacity="0.85"/><circle cx="40.5" cy="908.6" r="0.8" fill="#e4e4e4" opacity="0.85"/><circle cx="55.1" cy="906.6" r="0.8" fill="#e4e4e4" opacity="0.60"/><circle cx="57.3" cy="906.2" r="0.8" fill="#e4e4e4" opacity="0.60"/><circle cx="59.5" cy="905.8" r="0.8" fill="#e4e4e4" opacity="0.60"/><circle cx="60.1" cy="905.3" r="0.9" fill="#e4e4e4" opacity="0.71"/><circle cx="62.3" cy="904.9" r="0.9" fill="#e4e4e4" opacity="0.71"/><circle cx="64.5" cy="904.5" r="0.9" fill="#e4e4e4" opacity="0.71"/><circle cx="89.5" cy="898.9" r="1.2" fill="#e4e4e4" opacity="0.65"/><circle cx="91.7" cy="898.5" r="1.2" fill="#e4e4e4" opacity="0.65"/><circle cx="93.9" cy="898.1" r="1.2" fill="#e4e4e4" opacity="0.65"/><circle cx="108.7" cy="892.8" r="1.0" fill="#e4e4e4" opacity="0.87"/><circle cx="131.0" cy="888.0" r="1.2" fill="#e4e4e4" opacity="0.67"/><circle cx="133.2" cy="887.6" r="1.2" fill="#e4e4e4" opacity="0.67"/><circle cx="135.4" cy="887.2" r="1.2" fill="#e4e4e4" opacity="0.67"/><circle cx="141.3" cy="887.7" r="1.1" fill="#e4e4e4" opacity="0.65"/><circle cx="143.5" cy="887.3" r="1.1" fill="#e4e4e4" opacity="0.65"/><circle cx="145.7" cy="886.9" r="1.1" fill="#e4e4e4" opacity="0.65"/><circle cx="152.1" cy="885.1" r="0.8" fill="#e4e4e4" opacity="0.53"/><circle cx="154.3" cy="884.7" r="0.8" fill="#e4e4e4" opacity="0.53"/><circle cx="156.5" cy="884.3" r="0.8" fill="#e4e4e4" opacity="0.53"/><circle cx="170.1" cy="881.2" r="0.9" fill="#e4e4e4" opacity="0.85"/><circle cx="172.3" cy="880.8" r="0.9" fill="#e4e4e4" opacity="0.85"/><circle cx="180.9" cy="876.5" r="1.2" fill="#e4e4e4" opacity="0.59"/><circle cx="192.9" cy="873.9" r="1.0" fill="#e4e4e4" opacity="0.81"/><circle cx="195.1" cy="873.5" r="1.0" fill="#e4e4e4" opacity="0.81"/><circle cx="17.6" cy="920.0" r="0.8" fill="#e4e4e4" opacity="0.71"/><circle cx="19.8" cy="919.6" r="0.8" fill="#e4e4e4" opacity="0.71"/><circle cx="27.9" cy="918.5" r="0.8" fill="#e4e4e4" opacity="0.63"/><circle cx="64.9" cy="911.4" r="0.8" fill="#e4e4e4" opacity="0.51"/><circle cx="67.1" cy="911.0" r="0.8" fill="#e4e4e4" opacity="0.51"/><circle cx="70.4" cy="910.5" r="1.2" fill="#e4e4e4" opacity="0.63"/><circle cx="72.6" cy="910.1" r="1.2" fill="#e4e4e4" opacity="0.63"/><circle cx="74.8" cy="909.7" r="1.2" fill="#e4e4e4" opacity="0.63"/><circle cx="91.5" cy="903.2" r="1.0" fill="#e4e4e4" opacity="0.84"/><circle cx="93.7" cy="902.8" r="1.0" fill="#e4e4e4" opacity="0.84"/><circle cx="95.9" cy="902.4" r="1.0" fill="#e4e4e4" opacity="0.84"/><circle cx="123.5" cy="896.3" r="1.2" fill="#e4e4e4" opacity="0.54"/><circle cx="125.7" cy="895.9" r="1.2" fill="#e4e4e4" opacity="0.54"/><circle cx="155.5" cy="891.7" r="1.0" fill="#e4e4e4" opacity="0.94"/><circle cx="157.7" cy="891.3" r="1.0" fill="#e4e4e4" opacity="0.94"/><circle cx="161.2" cy="888.2" r="1.2" fill="#e4e4e4" opacity="0.52"/><circle cx="163.4" cy="887.8" r="1.2" fill="#e4e4e4" opacity="0.52"/><circle cx="189.3" cy="884.2" r="0.9" fill="#e4e4e4" opacity="0.76"/><circle cx="191.5" cy="883.8" r="0.9" fill="#e4e4e4" opacity="0.76"/><circle cx="200.8" cy="881.6" r="1.1" fill="#e4e4e4" opacity="0.58"/><circle cx="203.0" cy="881.2" r="1.1" fill="#e4e4e4" opacity="0.58"/><circle cx="21.4" cy="925.7" r="1.1" fill="#e4e4e4" opacity="0.70"/><circle cx="23.6" cy="925.3" r="1.1" fill="#e4e4e4" opacity="0.70"/><circle cx="25.8" cy="924.9" r="1.1" fill="#e4e4e4" opacity="0.70"/><circle cx="35.0" cy="923.5" r="1.2" fill="#e4e4e4" opacity="0.71"/><circle cx="37.2" cy="923.1" r="1.2" fill="#e4e4e4" opacity="0.71"/><circle cx="43.0" cy="921.3" r="0.9" fill="#e4e4e4" opacity="0.53"/><circle cx="45.2" cy="920.9" r="0.9" fill="#e4e4e4" opacity="0.53"/><circle cx="91.3" cy="911.9" r="0.8" fill="#e4e4e4" opacity="0.75"/><circle cx="93.5" cy="911.5" r="0.8" fill="#e4e4e4" opacity="0.75"/><circle cx="101.5" cy="909.0" r="0.9" fill="#e4e4e4" opacity="0.77"/><circle cx="103.7" cy="908.6" r="0.9" fill="#e4e4e4" opacity="0.77"/><circle cx="163.4" cy="896.4" r="1.2" fill="#e4e4e4" opacity="0.59"/><circle cx="165.6" cy="896.0" r="1.2" fill="#e4e4e4" opacity="0.59"/><circle cx="18.7" cy="933.3" r="1.1" fill="#e4e4e4" opacity="0.54"/><circle cx="46.3" cy="928.7" r="1.2" fill="#e4e4e4" opacity="0.83"/><circle cx="70.4" cy="922.3" r="1.0" fill="#e4e4e4" opacity="0.59"/><circle cx="72.6" cy="921.9" r="1.0" fill="#e4e4e4" opacity="0.59"/><circle cx="78.9" cy="920.8" r="1.2" fill="#e4e4e4" opacity="0.95"/><circle cx="81.1" cy="920.4" r="1.2" fill="#e4e4e4" opacity="0.95"/><circle cx="83.3" cy="920.0" r="1.2" fill="#e4e4e4" opacity="0.95"/><circle cx="102.0" cy="917.0" r="0.9" fill="#e4e4e4" opacity="0.76"/><circle cx="104.2" cy="916.6" r="0.9" fill="#e4e4e4" opacity="0.76"/><circle cx="116.4" cy="913.7" r="1.0" fill="#e4e4e4" opacity="0.93"/><circle cx="118.6" cy="913.3" r="1.0" fill="#e4e4e4" opacity="0.93"/><circle cx="124.3" cy="911.7" r="1.0" fill="#e4e4e4" opacity="0.75"/><circle cx="126.5" cy="911.3" r="1.0" fill="#e4e4e4" opacity="0.75"/><circle cx="134.6" cy="908.0" r="0.9" fill="#e4e4e4" opacity="0.59"/><circle cx="136.8" cy="907.6" r="0.9" fill="#e4e4e4" opacity="0.59"/><circle cx="149.0" cy="907.1" r="0.9" fill="#e4e4e4" opacity="0.93"/><circle cx="151.2" cy="906.7" r="0.9" fill="#e4e4e4" opacity="0.93"/><circle cx="153.4" cy="906.3" r="0.9" fill="#e4e4e4" opacity="0.93"/><circle cx="164.3" cy="901.4" r="1.1" fill="#e4e4e4" opacity="0.78"/><circle cx="166.5" cy="901.0" r="1.1" fill="#e4e4e4" opacity="0.78"/><circle cx="181.2" cy="898.1" r="0.9" fill="#e4e4e4" opacity="0.76"/><circle cx="183.4" cy="897.7" r="0.9" fill="#e4e4e4" opacity="0.76"/><circle cx="185.6" cy="897.3" r="0.9" fill="#e4e4e4" opacity="0.76"/><circle cx="192.6" cy="896.5" r="1.1" fill="#e4e4e4" opacity="0.82"/><circle cx="194.8" cy="896.1" r="1.1" fill="#e4e4e4" opacity="0.82"/><circle cx="26.0" cy="940.4" r="0.9" fill="#e4e4e4" opacity="0.62"/><circle cx="28.2" cy="940.0" r="0.9" fill="#e4e4e4" opacity="0.62"/><circle cx="30.4" cy="939.6" r="0.9" fill="#e4e4e4" opacity="0.62"/><circle cx="41.1" cy="938.3" r="0.9" fill="#e4e4e4" opacity="0.68"/><circle cx="63.5" cy="933.1" r="0.8" fill="#e4e4e4" opacity="0.79"/><circle cx="88.2" cy="926.3" r="0.9" fill="#e4e4e4" opacity="0.63"/><circle cx="90.4" cy="925.9" r="0.9" fill="#e4e4e4" opacity="0.63"/><circle cx="92.6" cy="925.5" r="0.9" fill="#e4e4e4" opacity="0.63"/><circle cx="128.4" cy="917.4" r="0.9" fill="#e4e4e4" opacity="0.64"/><circle cx="130.6" cy="917.0" r="0.9" fill="#e4e4e4" opacity="0.64"/><circle cx="132.8" cy="916.6" r="0.9" fill="#e4e4e4" opacity="0.64"/><circle cx="138.0" cy="915.3" r="1.2" fill="#e4e4e4" opacity="0.55"/><circle cx="140.2" cy="914.9" r="1.2" fill="#e4e4e4" opacity="0.55"/><circle cx="156.4" cy="912.1" r="1.1" fill="#e4e4e4" opacity="0.69"/><circle cx="158.6" cy="911.7" r="1.1" fill="#e4e4e4" opacity="0.69"/><circle cx="160.8" cy="911.3" r="1.1" fill="#e4e4e4" opacity="0.69"/><circle cx="166.5" cy="910.9" r="1.1" fill="#e4e4e4" opacity="0.80"/><circle cx="168.7" cy="910.5" r="1.1" fill="#e4e4e4" opacity="0.80"/><circle cx="170.9" cy="910.1" r="1.1" fill="#e4e4e4" opacity="0.80"/><circle cx="177.9" cy="906.0" r="1.1" fill="#e4e4e4" opacity="0.62"/><circle cx="180.1" cy="905.6" r="1.1" fill="#e4e4e4" opacity="0.62"/><circle cx="188.6" cy="904.7" r="0.8" fill="#e4e4e4" opacity="0.92"/><circle cx="27.3" cy="946.5" r="0.9" fill="#e4e4e4" opacity="0.65"/><circle cx="50.2" cy="942.5" r="1.0" fill="#e4e4e4" opacity="0.74"/><circle cx="90.6" cy="932.7" r="1.1" fill="#e4e4e4" opacity="0.92"/><circle cx="92.8" cy="932.3" r="1.1" fill="#e4e4e4" opacity="0.92"/><circle cx="95.0" cy="931.9" r="1.1" fill="#e4e4e4" opacity="0.92"/><circle cx="102.5" cy="929.6" r="1.1" fill="#e4e4e4" opacity="0.51"/><circle cx="104.7" cy="929.2" r="1.1" fill="#e4e4e4" opacity="0.51"/><circle cx="106.9" cy="928.8" r="1.1" fill="#e4e4e4" opacity="0.51"/><circle cx="120.0" cy="925.5" r="1.1" fill="#e4e4e4" opacity="0.91"/><circle cx="137.0" cy="924.4" r="1.0" fill="#e4e4e4" opacity="0.84"/><circle cx="139.2" cy="924.0" r="1.0" fill="#e4e4e4" opacity="0.84"/><circle cx="168.4" cy="915.5" r="1.2" fill="#e4e4e4" opacity="0.83"/><circle cx="170.6" cy="915.1" r="1.2" fill="#e4e4e4" opacity="0.83"/><circle cx="172.8" cy="914.7" r="1.2" fill="#e4e4e4" opacity="0.83"/><circle cx="191.3" cy="910.2" r="0.9" fill="#e4e4e4" opacity="0.80"/><circle cx="193.5" cy="909.8" r="0.9" fill="#e4e4e4" opacity="0.80"/><circle cx="195.7" cy="909.4" r="0.9" fill="#e4e4e4" opacity="0.80"/><circle cx="197.2" cy="910.0" r="1.2" fill="#e4e4e4" opacity="0.91"/><circle cx="199.4" cy="909.6" r="1.2" fill="#e4e4e4" opacity="0.91"/><circle cx="25.3" cy="954.0" r="1.2" fill="#e4e4e4" opacity="0.73"/><circle cx="27.5" cy="953.6" r="1.2" fill="#e4e4e4" opacity="0.73"/><circle cx="29.7" cy="953.2" r="1.2" fill="#e4e4e4" opacity="0.73"/><circle cx="30.6" cy="952.7" r="1.2" fill="#e4e4e4" opacity="0.55"/><circle cx="32.8" cy="952.3" r="1.2" fill="#e4e4e4" opacity="0.55"/><circle cx="53.3" cy="946.5" r="0.9" fill="#e4e4e4" opacity="0.55"/><circle cx="55.5" cy="946.1" r="0.9" fill="#e4e4e4" opacity="0.55"/><circle cx="73.3" cy="943.7" r="1.1" fill="#e4e4e4" opacity="0.90"/><circle cx="83.3" cy="940.6" r="0.8" fill="#e4e4e4" opacity="0.57"/><circle cx="85.5" cy="940.2" r="0.8" fill="#e4e4e4" opacity="0.57"/><circle cx="93.7" cy="938.4" r="1.1" fill="#e4e4e4" opacity="0.58"/><circle cx="95.9" cy="938.0" r="1.1" fill="#e4e4e4" opacity="0.58"/><circle cx="98.1" cy="937.6" r="1.1" fill="#e4e4e4" opacity="0.58"/><circle cx="100.6" cy="936.0" r="1.1" fill="#e4e4e4" opacity="0.83"/><circle cx="102.8" cy="935.6" r="1.1" fill="#e4e4e4" opacity="0.83"/><circle cx="105.0" cy="935.2" r="1.1" fill="#e4e4e4" opacity="0.83"/><circle cx="121.4" cy="933.0" r="1.2" fill="#e4e4e4" opacity="0.80"/><circle cx="123.6" cy="932.6" r="1.2" fill="#e4e4e4" opacity="0.80"/><circle cx="128.6" cy="931.7" r="1.2" fill="#e4e4e4" opacity="0.71"/><circle cx="177.9" cy="919.8" r="0.9" fill="#e4e4e4" opacity="0.66"/><circle cx="180.1" cy="919.4" r="0.9" fill="#e4e4e4" opacity="0.66"/><circle cx="182.3" cy="919.0" r="0.9" fill="#e4e4e4" opacity="0.66"/><circle cx="27.2" cy="959.6" r="1.2" fill="#e4e4e4" opacity="0.92"/><circle cx="29.4" cy="959.2" r="1.2" fill="#e4e4e4" opacity="0.92"/><circle cx="31.6" cy="958.8" r="1.2" fill="#e4e4e4" opacity="0.92"/><circle cx="34.5" cy="958.4" r="1.1" fill="#e4e4e4" opacity="0.56"/><circle cx="36.7" cy="958.0" r="1.1" fill="#e4e4e4" opacity="0.56"/><circle cx="38.9" cy="957.6" r="1.1" fill="#e4e4e4" opacity="0.56"/><circle cx="102.7" cy="943.0" r="1.2" fill="#e4e4e4" opacity="0.74"/><circle cx="104.9" cy="942.6" r="1.2" fill="#e4e4e4" opacity="0.74"/><circle cx="107.1" cy="942.2" r="1.2" fill="#e4e4e4" opacity="0.74"/><circle cx="121.3" cy="939.3" r="0.8" fill="#e4e4e4" opacity="0.52"/><circle cx="123.5" cy="938.9" r="0.8" fill="#e4e4e4" opacity="0.52"/><circle cx="126.7" cy="938.2" r="1.2" fill="#e4e4e4" opacity="0.90"/><circle cx="158.2" cy="931.8" r="0.8" fill="#e4e4e4" opacity="0.75"/><circle cx="160.4" cy="931.4" r="0.8" fill="#e4e4e4" opacity="0.75"/><circle cx="167.8" cy="930.1" r="0.9" fill="#e4e4e4" opacity="0.55"/><circle cx="170.0" cy="929.7" r="0.9" fill="#e4e4e4" opacity="0.55"/><circle cx="173.0" cy="926.8" r="0.9" fill="#e4e4e4" opacity="0.76"/><circle cx="175.2" cy="926.4" r="0.9" fill="#e4e4e4" opacity="0.76"/><circle cx="183.4" cy="926.6" r="1.2" fill="#e4e4e4" opacity="0.90"/><circle cx="18.0" cy="967.8" r="1.0" fill="#e4e4e4" opacity="0.81"/><circle cx="20.2" cy="967.4" r="1.0" fill="#e4e4e4" opacity="0.81"/><circle cx="22.4" cy="967.0" r="1.0" fill="#e4e4e4" opacity="0.81"/><circle cx="54.1" cy="959.9" r="1.2" fill="#e4e4e4" opacity="0.67"/><circle cx="70.5" cy="955.8" r="0.8" fill="#e4e4e4" opacity="0.73"/><circle cx="110.5" cy="948.2" r="1.2" fill="#e4e4e4" opacity="0.50"/><circle cx="112.7" cy="947.8" r="1.2" fill="#e4e4e4" opacity="0.50"/><circle cx="114.9" cy="947.4" r="1.2" fill="#e4e4e4" opacity="0.50"/><circle cx="122.3" cy="945.1" r="0.9" fill="#e4e4e4" opacity="0.77"/><circle cx="124.5" cy="944.7" r="0.9" fill="#e4e4e4" opacity="0.77"/><circle cx="129.9" cy="944.3" r="1.1" fill="#e4e4e4" opacity="0.54"/><circle cx="136.1" cy="942.2" r="1.1" fill="#e4e4e4" opacity="0.81"/><circle cx="138.3" cy="941.8" r="1.1" fill="#e4e4e4" opacity="0.81"/><circle cx="144.5" cy="941.6" r="1.0" fill="#e4e4e4" opacity="0.67"/><circle cx="146.7" cy="941.2" r="1.0" fill="#e4e4e4" opacity="0.67"/><circle cx="162.7" cy="935.3" r="1.1" fill="#e4e4e4" opacity="0.82"/><circle cx="164.9" cy="934.9" r="1.1" fill="#e4e4e4" opacity="0.82"/><circle cx="167.1" cy="934.5" r="1.1" fill="#e4e4e4" opacity="0.82"/><circle cx="196.9" cy="929.3" r="0.8" fill="#e4e4e4" opacity="0.81"/><circle cx="199.1" cy="928.9" r="0.8" fill="#e4e4e4" opacity="0.81"/><circle cx="21.1" cy="974.2" r="1.1" fill="#e4e4e4" opacity="0.83"/><circle cx="29.4" cy="973.4" r="1.2" fill="#e4e4e4" opacity="0.58"/><circle cx="36.6" cy="969.7" r="1.2" fill="#e4e4e4" opacity="0.81"/><circle cx="47.9" cy="969.3" r="1.2" fill="#e4e4e4" opacity="0.79"/><circle cx="50.1" cy="968.9" r="1.2" fill="#e4e4e4" opacity="0.79"/><circle cx="52.3" cy="968.5" r="1.2" fill="#e4e4e4" opacity="0.79"/><circle cx="65.8" cy="964.3" r="0.9" fill="#e4e4e4" opacity="0.76"/><circle cx="68.0" cy="963.9" r="0.9" fill="#e4e4e4" opacity="0.76"/><circle cx="70.2" cy="963.5" r="0.9" fill="#e4e4e4" opacity="0.76"/><circle cx="74.8" cy="963.5" r="0.9" fill="#e4e4e4" opacity="0.81"/><circle cx="77.0" cy="963.1" r="0.9" fill="#e4e4e4" opacity="0.81"/><circle cx="88.6" cy="958.1" r="0.9" fill="#e4e4e4" opacity="0.80"/><circle cx="97.0" cy="956.9" r="0.8" fill="#e4e4e4" opacity="0.92"/><circle cx="99.2" cy="956.5" r="0.8" fill="#e4e4e4" opacity="0.92"/><circle cx="101.4" cy="956.1" r="0.8" fill="#e4e4e4" opacity="0.92"/><circle cx="111.3" cy="952.6" r="1.1" fill="#e4e4e4" opacity="0.95"/><circle cx="113.5" cy="952.2" r="1.1" fill="#e4e4e4" opacity="0.95"/><circle cx="184.7" cy="938.3" r="0.8" fill="#e4e4e4" opacity="0.64"/><circle cx="186.9" cy="937.9" r="0.8" fill="#e4e4e4" opacity="0.64"/><circle cx="189.1" cy="937.5" r="0.8" fill="#e4e4e4" opacity="0.64"/><circle cx="24.8" cy="980.8" r="1.1" fill="#e4e4e4" opacity="0.58"/><circle cx="33.8" cy="978.5" r="0.9" fill="#e4e4e4" opacity="0.80"/><circle cx="36.0" cy="978.1" r="0.9" fill="#e4e4e4" opacity="0.80"/><circle cx="43.7" cy="976.8" r="1.1" fill="#e4e4e4" opacity="0.68"/><circle cx="45.9" cy="976.4" r="1.1" fill="#e4e4e4" opacity="0.68"/><circle cx="49.9" cy="973.8" r="1.0" fill="#e4e4e4" opacity="0.88"/><circle cx="52.1" cy="973.4" r="1.0" fill="#e4e4e4" opacity="0.88"/><circle cx="60.8" cy="971.8" r="1.1" fill="#e4e4e4" opacity="0.59"/><circle cx="63.0" cy="971.4" r="1.1" fill="#e4e4e4" opacity="0.59"/><circle cx="125.4" cy="959.3" r="0.9" fill="#e4e4e4" opacity="0.56"/><circle cx="132.8" cy="957.6" r="0.9" fill="#e4e4e4" opacity="0.58"/><circle cx="135.0" cy="957.2" r="0.9" fill="#e4e4e4" opacity="0.58"/><circle cx="148.7" cy="951.9" r="1.1" fill="#e4e4e4" opacity="0.76"/><circle cx="150.9" cy="951.5" r="1.1" fill="#e4e4e4" opacity="0.76"/><circle cx="153.1" cy="951.1" r="1.1" fill="#e4e4e4" opacity="0.76"/><circle cx="159.8" cy="950.6" r="0.8" fill="#e4e4e4" opacity="0.72"/><circle cx="162.0" cy="950.2" r="0.8" fill="#e4e4e4" opacity="0.72"/><circle cx="195.3" cy="943.3" r="1.2" fill="#e4e4e4" opacity="0.53"/><circle cx="16.1" cy="987.5" r="0.9" fill="#e4e4e4" opacity="0.72"/><circle cx="18.3" cy="987.1" r="0.9" fill="#e4e4e4" opacity="0.72"/><circle cx="38.7" cy="982.6" r="1.1" fill="#e4e4e4" opacity="0.72"/><circle cx="40.9" cy="982.2" r="1.1" fill="#e4e4e4" opacity="0.72"/><circle cx="71.0" cy="977.1" r="0.9" fill="#e4e4e4" opacity="0.54"/><circle cx="73.2" cy="976.7" r="0.9" fill="#e4e4e4" opacity="0.54"/><circle cx="79.3" cy="973.7" r="0.9" fill="#e4e4e4" opacity="0.81"/><circle cx="81.5" cy="973.3" r="0.9" fill="#e4e4e4" opacity="0.81"/><circle cx="83.7" cy="972.9" r="0.9" fill="#e4e4e4" opacity="0.81"/><circle cx="88.5" cy="973.3" r="1.2" fill="#e4e4e4" opacity="0.93"/><circle cx="105.7" cy="968.8" r="1.1" fill="#e4e4e4" opacity="0.57"/><circle cx="107.9" cy="968.4" r="1.1" fill="#e4e4e4" opacity="0.57"/><circle cx="121.1" cy="964.5" r="1.1" fill="#e4e4e4" opacity="0.55"/><circle cx="123.3" cy="964.1" r="1.1" fill="#e4e4e4" opacity="0.55"/><circle cx="156.8" cy="956.7" r="0.9" fill="#e4e4e4" opacity="0.79"/><circle cx="159.0" cy="956.3" r="0.9" fill="#e4e4e4" opacity="0.79"/><circle cx="161.2" cy="955.9" r="0.9" fill="#e4e4e4" opacity="0.79"/><circle cx="185.4" cy="952.0" r="1.2" fill="#e4e4e4" opacity="0.83"/><circle cx="187.6" cy="951.6" r="1.2" fill="#e4e4e4" opacity="0.83"/><circle cx="94.9" cy="978.1" r="0.9" fill="#e4e4e4" opacity="0.73"/><circle cx="102.9" cy="976.7" r="1.0" fill="#e4e4e4" opacity="0.51"/><circle cx="105.1" cy="976.3" r="1.0" fill="#e4e4e4" opacity="0.51"/><circle cx="107.3" cy="975.9" r="1.0" fill="#e4e4e4" opacity="0.51"/><circle cx="141.1" cy="968.8" r="1.1" fill="#e4e4e4" opacity="0.52"/><circle cx="143.3" cy="968.4" r="1.1" fill="#e4e4e4" opacity="0.52"/><circle cx="155.9" cy="964.3" r="1.1" fill="#e4e4e4" opacity="0.57"/><circle cx="163.2" cy="962.1" r="0.9" fill="#e4e4e4" opacity="0.78"/><circle cx="165.4" cy="961.7" r="0.9" fill="#e4e4e4" opacity="0.78"/><circle cx="29.6" cy="999.8" r="1.1" fill="#e4e4e4" opacity="0.91"/><circle cx="31.8" cy="999.4" r="1.1" fill="#e4e4e4" opacity="0.91"/><circle cx="67.0" cy="994.5" r="0.8" fill="#e4e4e4" opacity="0.71"/><circle cx="69.2" cy="994.1" r="0.8" fill="#e4e4e4" opacity="0.71"/><circle cx="96.1" cy="986.1" r="0.9" fill="#e4e4e4" opacity="0.62"/><circle cx="98.3" cy="985.7" r="0.9" fill="#e4e4e4" opacity="0.62"/><circle cx="120.3" cy="980.9" r="1.2" fill="#e4e4e4" opacity="0.50"/><circle cx="125.7" cy="979.3" r="1.0" fill="#e4e4e4" opacity="0.77"/><circle cx="127.9" cy="978.9" r="1.0" fill="#e4e4e4" opacity="0.77"/><circle cx="130.1" cy="978.5" r="1.0" fill="#e4e4e4" opacity="0.77"/><circle cx="134.9" cy="977.9" r="1.0" fill="#e4e4e4" opacity="0.90"/><circle cx="137.1" cy="977.5" r="1.0" fill="#e4e4e4" opacity="0.90"/><circle cx="156.1" cy="972.5" r="0.9" fill="#e4e4e4" opacity="0.73"/><circle cx="162.7" cy="972.4" r="1.0" fill="#e4e4e4" opacity="0.83"/><circle cx="164.9" cy="972.0" r="1.0" fill="#e4e4e4" opacity="0.83"/><circle cx="167.1" cy="971.6" r="1.0" fill="#e4e4e4" opacity="0.83"/><circle cx="184.2" cy="966.8" r="1.1" fill="#e4e4e4" opacity="0.94"/><circle cx="186.4" cy="966.4" r="1.1" fill="#e4e4e4" opacity="0.94"/><circle cx="188.6" cy="966.0" r="1.1" fill="#e4e4e4" opacity="0.94"/><circle cx="20.7" cy="1009.0" r="0.8" fill="#e4e4e4" opacity="0.77"/><circle cx="22.9" cy="1008.6" r="0.8" fill="#e4e4e4" opacity="0.77"/><circle cx="27.7" cy="1008.4" r="1.2" fill="#e4e4e4" opacity="0.68"/><circle cx="29.9" cy="1008.0" r="1.2" fill="#e4e4e4" opacity="0.68"/><circle cx="32.1" cy="1007.6" r="1.2" fill="#e4e4e4" opacity="0.68"/><circle cx="48.6" cy="1002.8" r="1.0" fill="#e4e4e4" opacity="0.55"/><circle cx="50.8" cy="1002.4" r="1.0" fill="#e4e4e4" opacity="0.55"/><circle cx="55.7" cy="1002.6" r="1.1" fill="#e4e4e4" opacity="0.69"/><circle cx="57.9" cy="1002.2" r="1.1" fill="#e4e4e4" opacity="0.69"/><circle cx="60.1" cy="1001.8" r="1.1" fill="#e4e4e4" opacity="0.69"/><circle cx="65.3" cy="999.1" r="1.1" fill="#e4e4e4" opacity="0.63"/><circle cx="97.6" cy="994.4" r="0.8" fill="#e4e4e4" opacity="0.62"/><circle cx="99.8" cy="994.0" r="0.8" fill="#e4e4e4" opacity="0.62"/><circle cx="102.0" cy="993.6" r="0.8" fill="#e4e4e4" opacity="0.62"/><circle cx="113.7" cy="990.0" r="1.0" fill="#e4e4e4" opacity="0.86"/><circle cx="115.9" cy="989.6" r="1.0" fill="#e4e4e4" opacity="0.86"/><circle cx="131.1" cy="984.7" r="1.2" fill="#e4e4e4" opacity="0.84"/><circle cx="133.3" cy="984.3" r="1.2" fill="#e4e4e4" opacity="0.84"/><circle cx="152.2" cy="980.5" r="0.9" fill="#e4e4e4" opacity="0.76"/><circle cx="154.4" cy="980.1" r="0.9" fill="#e4e4e4" opacity="0.76"/><circle cx="156.6" cy="979.7" r="0.9" fill="#e4e4e4" opacity="0.76"/><circle cx="168.6" cy="978.4" r="0.8" fill="#e4e4e4" opacity="0.67"/><circle cx="170.8" cy="978.0" r="0.8" fill="#e4e4e4" opacity="0.67"/><circle cx="199.6" cy="971.8" r="0.9" fill="#e4e4e4" opacity="0.53"/><circle cx="201.8" cy="971.4" r="0.9" fill="#e4e4e4" opacity="0.53"/><circle cx="28.1" cy="1016.1" r="1.1" fill="#e4e4e4" opacity="0.72"/><circle cx="30.3" cy="1015.7" r="1.1" fill="#e4e4e4" opacity="0.72"/><circle cx="45.7" cy="1012.5" r="1.1" fill="#e4e4e4" opacity="0.62"/><circle cx="47.9" cy="1012.1" r="1.1" fill="#e4e4e4" opacity="0.62"/><circle cx="50.1" cy="1011.7" r="1.1" fill="#e4e4e4" opacity="0.62"/><circle cx="57.2" cy="1009.7" r="0.9" fill="#e4e4e4" opacity="0.70"/><circle cx="59.4" cy="1009.3" r="0.9" fill="#e4e4e4" opacity="0.70"/><circle cx="74.6" cy="1007.3" r="0.9" fill="#e4e4e4" opacity="0.54"/><circle cx="76.8" cy="1006.9" r="0.9" fill="#e4e4e4" opacity="0.54"/><circle cx="92.0" cy="1003.8" r="0.8" fill="#e4e4e4" opacity="0.74"/><circle cx="97.8" cy="1000.4" r="1.2" fill="#e4e4e4" opacity="0.91"/><circle cx="100.0" cy="1000.0" r="1.2" fill="#e4e4e4" opacity="0.91"/><circle cx="124.2" cy="994.7" r="1.0" fill="#e4e4e4" opacity="0.94"/><circle cx="126.4" cy="994.3" r="1.0" fill="#e4e4e4" opacity="0.94"/><circle cx="132.1" cy="994.1" r="1.1" fill="#e4e4e4" opacity="0.56"/><circle cx="134.3" cy="993.7" r="1.1" fill="#e4e4e4" opacity="0.56"/><circle cx="145.8" cy="990.5" r="1.2" fill="#e4e4e4" opacity="0.66"/><circle cx="148.0" cy="990.1" r="1.2" fill="#e4e4e4" opacity="0.66"/><circle cx="153.6" cy="987.8" r="1.0" fill="#e4e4e4" opacity="0.82"/><circle cx="186.4" cy="981.8" r="1.1" fill="#e4e4e4" opacity="0.79"/><circle cx="188.6" cy="981.4" r="1.1" fill="#e4e4e4" opacity="0.79"/><circle cx="18.0" cy="1024.6" r="1.2" fill="#e4e4e4" opacity="0.69"/><circle cx="25.7" cy="1023.1" r="1.1" fill="#e4e4e4" opacity="0.74"/><circle cx="27.9" cy="1022.7" r="1.1" fill="#e4e4e4" opacity="0.74"/><circle cx="36.1" cy="1021.7" r="0.8" fill="#e4e4e4" opacity="0.92"/><circle cx="38.3" cy="1021.3" r="0.8" fill="#e4e4e4" opacity="0.92"/><circle cx="42.2" cy="1021.5" r="1.2" fill="#e4e4e4" opacity="0.79"/><circle cx="109.9" cy="1004.4" r="1.0" fill="#e4e4e4" opacity="0.63"/><circle cx="112.1" cy="1004.0" r="1.0" fill="#e4e4e4" opacity="0.63"/><circle cx="126.3" cy="1001.9" r="0.9" fill="#e4e4e4" opacity="0.54"/><circle cx="128.5" cy="1001.5" r="0.9" fill="#e4e4e4" opacity="0.54"/><circle cx="130.7" cy="1001.1" r="0.9" fill="#e4e4e4" opacity="0.54"/><circle cx="166.1" cy="994.5" r="0.8" fill="#e4e4e4" opacity="0.54"/><circle cx="168.3" cy="994.1" r="0.8" fill="#e4e4e4" opacity="0.54"/><circle cx="175.5" cy="992.3" r="0.9" fill="#e4e4e4" opacity="0.58"/><circle cx="177.7" cy="991.9" r="0.9" fill="#e4e4e4" opacity="0.58"/><circle cx="192.8" cy="986.3" r="0.8" fill="#e4e4e4" opacity="0.80"/><circle cx="22.0" cy="1031.0" r="1.2" fill="#e4e4e4" opacity="0.59"/><circle cx="24.2" cy="1030.6" r="1.2" fill="#e4e4e4" opacity="0.59"/><circle cx="88.3" cy="1017.8" r="1.2" fill="#e4e4e4" opacity="0.94"/><circle cx="102.5" cy="1012.8" r="0.8" fill="#e4e4e4" opacity="0.70"/><circle cx="104.7" cy="1012.4" r="0.8" fill="#e4e4e4" opacity="0.70"/><circle cx="106.9" cy="1012.0" r="0.8" fill="#e4e4e4" opacity="0.70"/><circle cx="127.9" cy="1008.3" r="1.1" fill="#e4e4e4" opacity="0.87"/><circle cx="130.1" cy="1007.9" r="1.1" fill="#e4e4e4" opacity="0.87"/><circle cx="144.1" cy="1003.8" r="1.1" fill="#e4e4e4" opacity="0.59"/><circle cx="146.3" cy="1003.4" r="1.1" fill="#e4e4e4" opacity="0.59"/><circle cx="159.6" cy="1000.9" r="0.8" fill="#e4e4e4" opacity="0.88"/><circle cx="28.3" cy="1037.7" r="1.0" fill="#e4e4e4" opacity="0.54"/><circle cx="36.5" cy="1035.8" r="1.0" fill="#e4e4e4" opacity="0.78"/><circle cx="38.7" cy="1035.4" r="1.0" fill="#e4e4e4" opacity="0.78"/><circle cx="48.3" cy="1033.9" r="1.1" fill="#e4e4e4" opacity="0.59"/><circle cx="50.5" cy="1033.5" r="1.1" fill="#e4e4e4" opacity="0.59"/><circle cx="56.0" cy="1031.5" r="1.1" fill="#e4e4e4" opacity="0.62"/><circle cx="58.2" cy="1031.1" r="1.1" fill="#e4e4e4" opacity="0.62"/><circle cx="60.4" cy="1030.7" r="1.1" fill="#e4e4e4" opacity="0.62"/><circle cx="63.7" cy="1031.8" r="1.2" fill="#e4e4e4" opacity="0.72"/><circle cx="65.9" cy="1031.4" r="1.2" fill="#e4e4e4" opacity="0.72"/><circle cx="71.0" cy="1029.2" r="1.2" fill="#e4e4e4" opacity="0.64"/><circle cx="73.2" cy="1028.8" r="1.2" fill="#e4e4e4" opacity="0.64"/><circle cx="75.4" cy="1028.4" r="1.2" fill="#e4e4e4" opacity="0.64"/><circle cx="77.0" cy="1028.4" r="0.9" fill="#e4e4e4" opacity="0.71"/><circle cx="79.2" cy="1028.0" r="0.9" fill="#e4e4e4" opacity="0.71"/><circle cx="107.2" cy="1020.2" r="1.2" fill="#e4e4e4" opacity="0.89"/><circle cx="109.4" cy="1019.8" r="1.2" fill="#e4e4e4" opacity="0.89"/><circle cx="111.6" cy="1019.4" r="1.2" fill="#e4e4e4" opacity="0.89"/><circle cx="120.8" cy="1016.5" r="0.8" fill="#e4e4e4" opacity="0.54"/><circle cx="127.4" cy="1017.5" r="0.9" fill="#e4e4e4" opacity="0.51"/><circle cx="129.6" cy="1017.1" r="0.9" fill="#e4e4e4" opacity="0.51"/><circle cx="138.0" cy="1015.4" r="1.1" fill="#e4e4e4" opacity="0.68"/><circle cx="140.2" cy="1015.0" r="1.1" fill="#e4e4e4" opacity="0.68"/><circle cx="142.4" cy="1014.6" r="1.1" fill="#e4e4e4" opacity="0.68"/><circle cx="158.1" cy="1010.0" r="1.1" fill="#e4e4e4" opacity="0.70"/><circle cx="160.3" cy="1009.6" r="1.1" fill="#e4e4e4" opacity="0.70"/><circle cx="183.7" cy="1003.5" r="1.0" fill="#e4e4e4" opacity="0.82"/><circle cx="185.9" cy="1003.1" r="1.0" fill="#e4e4e4" opacity="0.82"/><circle cx="21.8" cy="1047.7" r="0.9" fill="#e4e4e4" opacity="0.69"/><circle cx="24.0" cy="1047.3" r="0.9" fill="#e4e4e4" opacity="0.69"/><circle cx="26.2" cy="1046.9" r="0.9" fill="#e4e4e4" opacity="0.69"/><circle cx="80.8" cy="1034.0" r="0.8" fill="#e4e4e4" opacity="0.67"/><circle cx="83.0" cy="1033.6" r="0.8" fill="#e4e4e4" opacity="0.67"/><circle cx="85.2" cy="1033.2" r="0.8" fill="#e4e4e4" opacity="0.67"/><circle cx="87.8" cy="1031.2" r="0.8" fill="#e4e4e4" opacity="0.87"/><circle cx="90.0" cy="1030.8" r="0.8" fill="#e4e4e4" opacity="0.87"/><circle cx="92.2" cy="1030.4" r="0.8" fill="#e4e4e4" opacity="0.87"/><circle cx="115.7" cy="1025.2" r="1.2" fill="#e4e4e4" opacity="0.57"/><circle cx="117.9" cy="1024.8" r="1.2" fill="#e4e4e4" opacity="0.57"/><circle cx="154.9" cy="1016.3" r="0.9" fill="#e4e4e4" opacity="0.59"/><circle cx="172.2" cy="1014.1" r="0.8" fill="#e4e4e4" opacity="0.50"/><circle cx="201.8" cy="1007.4" r="0.8" fill="#e4e4e4" opacity="0.73"/><circle cx="204.0" cy="1007.0" r="0.8" fill="#e4e4e4" opacity="0.73"/><circle cx="206.2" cy="1006.6" r="0.8" fill="#e4e4e4" opacity="0.73"/><circle cx="52.1" cy="1045.6" r="0.9" fill="#e4e4e4" opacity="0.90"/><circle cx="54.3" cy="1045.2" r="0.9" fill="#e4e4e4" opacity="0.90"/><circle cx="69.7" cy="1040.9" r="0.9" fill="#e4e4e4" opacity="0.59"/><circle cx="93.8" cy="1036.1" r="0.9" fill="#e4e4e4" opacity="0.71"/><circle cx="122.7" cy="1030.2" r="0.8" fill="#e4e4e4" opacity="0.67"/><circle cx="124.9" cy="1029.8" r="0.8" fill="#e4e4e4" opacity="0.67"/><circle cx="127.1" cy="1029.4" r="0.8" fill="#e4e4e4" opacity="0.67"/><circle cx="133.9" cy="1028.4" r="1.0" fill="#e4e4e4" opacity="0.53"/><circle cx="136.1" cy="1028.0" r="1.0" fill="#e4e4e4" opacity="0.53"/><circle cx="141.0" cy="1025.3" r="1.2" fill="#e4e4e4" opacity="0.80"/><circle cx="143.2" cy="1024.9" r="1.2" fill="#e4e4e4" opacity="0.80"/><circle cx="145.4" cy="1024.5" r="1.2" fill="#e4e4e4" opacity="0.80"/><circle cx="166.3" cy="1021.8" r="1.1" fill="#e4e4e4" opacity="0.86"/><circle cx="168.5" cy="1021.4" r="1.1" fill="#e4e4e4" opacity="0.86"/><circle cx="170.7" cy="1021.0" r="1.1" fill="#e4e4e4" opacity="0.86"/><circle cx="183.8" cy="1017.2" r="0.8" fill="#e4e4e4" opacity="0.78"/><circle cx="186.0" cy="1016.8" r="0.8" fill="#e4e4e4" opacity="0.78"/><circle cx="200.2" cy="1013.1" r="1.1" fill="#e4e4e4" opacity="0.88"/><circle cx="202.4" cy="1012.7" r="1.1" fill="#e4e4e4" opacity="0.88"/><circle cx="204.6" cy="1012.3" r="1.1" fill="#e4e4e4" opacity="0.88"/><circle cx="16.9" cy="1059.5" r="1.0" fill="#e4e4e4" opacity="0.55"/><circle cx="60.7" cy="1051.6" r="0.9" fill="#e4e4e4" opacity="0.56"/><circle cx="62.9" cy="1051.2" r="0.9" fill="#e4e4e4" opacity="0.56"/><circle cx="65.1" cy="1050.8" r="0.9" fill="#e4e4e4" opacity="0.56"/><circle cx="68.5" cy="1049.1" r="0.8" fill="#e4e4e4" opacity="0.68"/><circle cx="70.7" cy="1048.7" r="0.8" fill="#e4e4e4" opacity="0.68"/><circle cx="115.1" cy="1039.0" r="0.9" fill="#e4e4e4" opacity="0.51"/><circle cx="117.3" cy="1038.6" r="0.9" fill="#e4e4e4" opacity="0.51"/><circle cx="145.2" cy="1031.7" r="0.9" fill="#e4e4e4" opacity="0.67"/><circle cx="147.4" cy="1031.3" r="0.9" fill="#e4e4e4" opacity="0.67"/><circle cx="162.2" cy="1027.4" r="1.1" fill="#e4e4e4" opacity="0.79"/><circle cx="185.2" cy="1024.2" r="0.9" fill="#e4e4e4" opacity="0.81"/><circle cx="187.4" cy="1023.8" r="0.9" fill="#e4e4e4" opacity="0.81"/><circle cx="191.5" cy="1022.1" r="0.8" fill="#e4e4e4" opacity="0.52"/><circle cx="16.0" cy="1066.7" r="1.0" fill="#e4e4e4" opacity="0.62"/><circle cx="18.2" cy="1066.3" r="1.0" fill="#e4e4e4" opacity="0.62"/><circle cx="20.4" cy="1065.9" r="1.0" fill="#e4e4e4" opacity="0.62"/><circle cx="49.1" cy="1060.1" r="0.8" fill="#e4e4e4" opacity="0.54"/><circle cx="51.3" cy="1059.7" r="0.8" fill="#e4e4e4" opacity="0.54"/><circle cx="53.5" cy="1059.3" r="0.8" fill="#e4e4e4" opacity="0.54"/><circle cx="58.5" cy="1057.1" r="0.8" fill="#e4e4e4" opacity="0.95"/><circle cx="60.7" cy="1056.7" r="0.8" fill="#e4e4e4" opacity="0.95"/><circle cx="62.9" cy="1056.3" r="0.8" fill="#e4e4e4" opacity="0.95"/><circle cx="67.4" cy="1056.9" r="0.8" fill="#e4e4e4" opacity="0.76"/><circle cx="78.8" cy="1053.0" r="1.2" fill="#e4e4e4" opacity="0.83"/><circle cx="81.0" cy="1052.6" r="1.2" fill="#e4e4e4" opacity="0.83"/><circle cx="83.2" cy="1052.2" r="1.2" fill="#e4e4e4" opacity="0.83"/><circle cx="102.6" cy="1049.2" r="1.1" fill="#e4e4e4" opacity="0.53"/><circle cx="104.8" cy="1048.8" r="1.1" fill="#e4e4e4" opacity="0.53"/><circle cx="107.0" cy="1048.4" r="1.1" fill="#e4e4e4" opacity="0.53"/><circle cx="128.7" cy="1042.0" r="0.9" fill="#e4e4e4" opacity="0.88"/><circle cx="130.9" cy="1041.6" r="0.9" fill="#e4e4e4" opacity="0.88"/><circle cx="133.1" cy="1041.2" r="0.9" fill="#e4e4e4" opacity="0.88"/><circle cx="158.1" cy="1035.2" r="0.8" fill="#e4e4e4" opacity="0.90"/><circle cx="160.3" cy="1034.8" r="0.8" fill="#e4e4e4" opacity="0.90"/><circle cx="185.3" cy="1029.8" r="0.8" fill="#e4e4e4" opacity="0.55"/><circle cx="187.5" cy="1029.4" r="0.8" fill="#e4e4e4" opacity="0.55"/><circle cx="202.9" cy="1025.4" r="0.8" fill="#e4e4e4" opacity="0.87"/><circle cx="205.1" cy="1025.0" r="0.8" fill="#e4e4e4" opacity="0.87"/><circle cx="207.3" cy="1024.6" r="0.8" fill="#e4e4e4" opacity="0.87"/><circle cx="27.7" cy="1071.2" r="1.1" fill="#e4e4e4" opacity="0.53"/><circle cx="29.9" cy="1070.8" r="1.1" fill="#e4e4e4" opacity="0.53"/><circle cx="32.1" cy="1070.4" r="1.1" fill="#e4e4e4" opacity="0.53"/><circle cx="67.0" cy="1062.4" r="1.2" fill="#e4e4e4" opacity="0.82"/><circle cx="69.2" cy="1062.0" r="1.2" fill="#e4e4e4" opacity="0.82"/><circle cx="80.1" cy="1060.5" r="1.0" fill="#e4e4e4" opacity="0.67"/><circle cx="82.3" cy="1060.1" r="1.0" fill="#e4e4e4" opacity="0.67"/><circle cx="84.5" cy="1059.7" r="1.0" fill="#e4e4e4" opacity="0.67"/><circle cx="87.6" cy="1059.4" r="1.1" fill="#e4e4e4" opacity="0.84"/><circle cx="110.7" cy="1053.6" r="0.9" fill="#e4e4e4" opacity="0.58"/><circle cx="112.9" cy="1053.2" r="0.9" fill="#e4e4e4" opacity="0.58"/><circle cx="115.1" cy="1052.8" r="0.9" fill="#e4e4e4" opacity="0.58"/><circle cx="126.6" cy="1048.2" r="1.0" fill="#e4e4e4" opacity="0.67"/><circle cx="141.3" cy="1045.6" r="0.9" fill="#e4e4e4" opacity="0.50"/><circle cx="143.5" cy="1045.2" r="0.9" fill="#e4e4e4" opacity="0.50"/><circle cx="145.7" cy="1044.8" r="0.9" fill="#e4e4e4" opacity="0.50"/><circle cx="172.0" cy="1040.0" r="1.0" fill="#e4e4e4" opacity="0.84"/><circle cx="174.2" cy="1039.6" r="1.0" fill="#e4e4e4" opacity="0.84"/>
<circle cx="70.4" cy="949.6" r="2.6" fill="#1e1e1e" opacity="0.7" filter="url(#blur1)"/>
<circle cx="159.6" cy="912.6" r="2.6" fill="#1e1e1e" opacity="0.7" filter="url(#blur1)"/>
<circle cx="133" cy="866" r="2.2" fill="#1e1e1e" opacity="0.7" filter="url(#blur1)"/>
<circle cx="106" cy="935" r="2" fill="#1e1e1e" opacity="0.7" filter="url(#blur1)"/>
<circle cx="180" cy="905" r="2" fill="#1e1e1e" opacity="0.7" filter="url(#blur1)"/>
<circle cx="64" cy="1010" r="2" fill="#1e1e1e" opacity="0.7" filter="url(#blur1)"/>
<circle cx="150" cy="985" r="2.2" fill="#1e1e1e" opacity="0.7" filter="url(#blur1)"/>
</g>
<g clip-path="url(#clipG2)">
<rect x="220.3" y="824.2" width="179.1" height="225" filter="url(#noise2)"/>
<circle cx="264.5" cy="803.7" r="1.2" fill="#e4e4e4" opacity="0.90"/><circle cx="266.7" cy="803.3" r="1.2" fill="#e4e4e4" opacity="0.90"/><circle cx="268.9" cy="802.9" r="1.2" fill="#e4e4e4" opacity="0.90"/><circle cx="289.2" cy="799.9" r="0.8" fill="#e4e4e4" opacity="0.95"/><circle cx="291.4" cy="799.5" r="0.8" fill="#e4e4e4" opacity="0.95"/><circle cx="299.4" cy="795.5" r="1.0" fill="#e4e4e4" opacity="0.73"/><circle cx="301.6" cy="795.1" r="1.0" fill="#e4e4e4" opacity="0.73"/><circle cx="304.5" cy="795.6" r="0.8" fill="#e4e4e4" opacity="0.68"/><circle cx="306.7" cy="795.2" r="0.8" fill="#e4e4e4" opacity="0.68"/><circle cx="308.9" cy="794.8" r="0.8" fill="#e4e4e4" opacity="0.68"/><circle cx="325.4" cy="791.9" r="1.0" fill="#e4e4e4" opacity="0.55"/><circle cx="330.4" cy="789.5" r="1.1" fill="#e4e4e4" opacity="0.80"/><circle cx="332.6" cy="789.1" r="1.1" fill="#e4e4e4" opacity="0.80"/><circle cx="338.6" cy="787.9" r="1.0" fill="#e4e4e4" opacity="0.85"/><circle cx="340.8" cy="787.5" r="1.0" fill="#e4e4e4" opacity="0.85"/><circle cx="343.0" cy="787.1" r="1.0" fill="#e4e4e4" opacity="0.85"/><circle cx="347.1" cy="784.6" r="0.9" fill="#e4e4e4" opacity="0.55"/><circle cx="349.3" cy="784.2" r="0.9" fill="#e4e4e4" opacity="0.55"/><circle cx="401.1" cy="774.2" r="1.0" fill="#e4e4e4" opacity="0.64"/><circle cx="403.3" cy="773.8" r="1.0" fill="#e4e4e4" opacity="0.64"/><circle cx="405.5" cy="773.4" r="1.0" fill="#e4e4e4" opacity="0.64"/><circle cx="247.0" cy="816.9" r="0.8" fill="#e4e4e4" opacity="0.88"/><circle cx="253.6" cy="813.8" r="0.9" fill="#e4e4e4" opacity="0.76"/><circle cx="270.0" cy="812.0" r="1.0" fill="#e4e4e4" opacity="0.95"/><circle cx="272.2" cy="811.6" r="1.0" fill="#e4e4e4" opacity="0.95"/><circle cx="274.4" cy="811.2" r="1.0" fill="#e4e4e4" opacity="0.95"/><circle cx="275.1" cy="811.6" r="0.9" fill="#e4e4e4" opacity="0.87"/><circle cx="305.6" cy="803.0" r="1.1" fill="#e4e4e4" opacity="0.86"/><circle cx="316.6" cy="801.5" r="0.8" fill="#e4e4e4" opacity="0.82"/><circle cx="318.8" cy="801.1" r="0.8" fill="#e4e4e4" opacity="0.82"/><circle cx="330.4" cy="796.9" r="0.9" fill="#e4e4e4" opacity="0.62"/><circle cx="332.6" cy="796.5" r="0.9" fill="#e4e4e4" opacity="0.62"/><circle cx="353.8" cy="791.6" r="1.0" fill="#e4e4e4" opacity="0.58"/><circle cx="356.0" cy="791.2" r="1.0" fill="#e4e4e4" opacity="0.58"/><circle cx="387.6" cy="785.2" r="0.9" fill="#e4e4e4" opacity="0.55"/><circle cx="397.1" cy="784.8" r="0.9" fill="#e4e4e4" opacity="0.52"/><circle cx="399.3" cy="784.4" r="0.9" fill="#e4e4e4" opacity="0.52"/><circle cx="401.5" cy="784.0" r="0.9" fill="#e4e4e4" opacity="0.52"/><circle cx="248.0" cy="822.8" r="1.1" fill="#e4e4e4" opacity="0.91"/><circle cx="250.2" cy="822.4" r="1.1" fill="#e4e4e4" opacity="0.91"/><circle cx="252.4" cy="822.0" r="1.1" fill="#e4e4e4" opacity="0.91"/><circle cx="265.2" cy="818.2" r="1.1" fill="#e4e4e4" opacity="0.67"/><circle cx="271.3" cy="816.2" r="1.0" fill="#e4e4e4" opacity="0.58"/><circle cx="273.5" cy="815.8" r="1.0" fill="#e4e4e4" opacity="0.58"/><circle cx="290.0" cy="811.7" r="1.2" fill="#e4e4e4" opacity="0.91"/><circle cx="292.2" cy="811.3" r="1.2" fill="#e4e4e4" opacity="0.91"/><circle cx="294.4" cy="810.9" r="1.2" fill="#e4e4e4" opacity="0.91"/><circle cx="298.5" cy="811.9" r="1.2" fill="#e4e4e4" opacity="0.90"/><circle cx="306.6" cy="807.8" r="1.2" fill="#e4e4e4" opacity="0.72"/><circle cx="308.8" cy="807.4" r="1.2" fill="#e4e4e4" opacity="0.72"/><circle cx="311.0" cy="807.0" r="1.2" fill="#e4e4e4" opacity="0.72"/><circle cx="335.3" cy="802.7" r="1.0" fill="#e4e4e4" opacity="0.89"/><circle cx="337.5" cy="802.3" r="1.0" fill="#e4e4e4" opacity="0.89"/><circle cx="347.1" cy="798.9" r="0.9" fill="#e4e4e4" opacity="0.86"/><circle cx="349.3" cy="798.5" r="0.9" fill="#e4e4e4" opacity="0.86"/><circle cx="368.6" cy="796.2" r="1.2" fill="#e4e4e4" opacity="0.64"/><circle cx="370.8" cy="795.8" r="1.2" fill="#e4e4e4" opacity="0.64"/><circle cx="373.0" cy="795.4" r="1.2" fill="#e4e4e4" opacity="0.64"/><circle cx="399.6" cy="788.1" r="1.2" fill="#e4e4e4" opacity="0.58"/><circle cx="219.6" cy="832.7" r="0.8" fill="#e4e4e4" opacity="0.64"/><circle cx="221.8" cy="832.3" r="0.8" fill="#e4e4e4" opacity="0.64"/><circle cx="227.6" cy="832.3" r="0.8" fill="#e4e4e4" opacity="0.66"/><circle cx="229.8" cy="831.9" r="0.8" fill="#e4e4e4" opacity="0.66"/><circle cx="264.9" cy="823.7" r="0.9" fill="#e4e4e4" opacity="0.56"/><circle cx="267.1" cy="823.3" r="0.9" fill="#e4e4e4" opacity="0.56"/><circle cx="273.1" cy="823.1" r="1.2" fill="#e4e4e4" opacity="0.63"/><circle cx="275.3" cy="822.7" r="1.2" fill="#e4e4e4" opacity="0.63"/><circle cx="332.5" cy="809.3" r="1.0" fill="#e4e4e4" opacity="0.71"/><circle cx="334.7" cy="808.9" r="1.0" fill="#e4e4e4" opacity="0.71"/><circle cx="349.7" cy="804.2" r="0.9" fill="#e4e4e4" opacity="0.91"/><circle cx="389.4" cy="797.4" r="1.1" fill="#e4e4e4" opacity="0.51"/><circle cx="391.6" cy="797.0" r="1.1" fill="#e4e4e4" opacity="0.51"/><circle cx="235.9" cy="836.5" r="0.9" fill="#e4e4e4" opacity="0.64"/><circle cx="247.7" cy="833.7" r="1.1" fill="#e4e4e4" opacity="0.75"/><circle cx="249.9" cy="833.3" r="1.1" fill="#e4e4e4" opacity="0.75"/><circle cx="256.2" cy="833.5" r="1.2" fill="#e4e4e4" opacity="0.65"/><circle cx="258.4" cy="833.1" r="1.2" fill="#e4e4e4" opacity="0.65"/><circle cx="260.6" cy="832.7" r="1.2" fill="#e4e4e4" opacity="0.65"/><circle cx="261.2" cy="831.0" r="0.9" fill="#e4e4e4" opacity="0.59"/><circle cx="263.4" cy="830.6" r="0.9" fill="#e4e4e4" opacity="0.59"/><circle cx="266.9" cy="829.4" r="0.8" fill="#e4e4e4" opacity="0.85"/><circle cx="269.1" cy="829.0" r="0.8" fill="#e4e4e4" opacity="0.85"/><circle cx="283.3" cy="826.8" r="1.1" fill="#e4e4e4" opacity="0.88"/><circle cx="285.5" cy="826.4" r="1.1" fill="#e4e4e4" opacity="0.88"/><circle cx="294.5" cy="823.7" r="0.8" fill="#e4e4e4" opacity="0.67"/><circle cx="296.7" cy="823.3" r="0.8" fill="#e4e4e4" opacity="0.67"/><circle cx="304.9" cy="822.3" r="1.1" fill="#e4e4e4" opacity="0.69"/><circle cx="307.1" cy="821.9" r="1.1" fill="#e4e4e4" opacity="0.69"/><circle cx="309.3" cy="821.5" r="1.1" fill="#e4e4e4" opacity="0.69"/><circle cx="361.0" cy="809.3" r="1.0" fill="#e4e4e4" opacity="0.91"/><circle cx="363.2" cy="808.9" r="1.0" fill="#e4e4e4" opacity="0.91"/><circle cx="395.6" cy="802.3" r="1.2" fill="#e4e4e4" opacity="0.89"/><circle cx="397.8" cy="801.9" r="1.2" fill="#e4e4e4" opacity="0.89"/><circle cx="228.9" cy="847.1" r="1.0" fill="#e4e4e4" opacity="0.78"/><circle cx="231.1" cy="846.7" r="1.0" fill="#e4e4e4" opacity="0.78"/><circle cx="273.9" cy="838.1" r="0.9" fill="#e4e4e4" opacity="0.94"/><circle cx="276.1" cy="837.7" r="0.9" fill="#e4e4e4" opacity="0.94"/><circle cx="287.4" cy="834.0" r="1.0" fill="#e4e4e4" opacity="0.86"/><circle cx="289.6" cy="833.6" r="1.0" fill="#e4e4e4" opacity="0.86"/><circle cx="298.6" cy="831.4" r="0.8" fill="#e4e4e4" opacity="0.83"/><circle cx="304.4" cy="831.0" r="1.0" fill="#e4e4e4" opacity="0.58"/><circle cx="306.6" cy="830.6" r="1.0" fill="#e4e4e4" opacity="0.58"/><circle cx="319.5" cy="825.6" r="1.2" fill="#e4e4e4" opacity="0.87"/><circle cx="321.7" cy="825.2" r="1.2" fill="#e4e4e4" opacity="0.87"/><circle cx="338.4" cy="823.1" r="1.1" fill="#e4e4e4" opacity="0.57"/><circle cx="340.6" cy="822.7" r="1.1" fill="#e4e4e4" opacity="0.57"/><circle cx="342.8" cy="822.3" r="1.1" fill="#e4e4e4" opacity="0.57"/><circle cx="354.1" cy="819.3" r="0.9" fill="#e4e4e4" opacity="0.83"/><circle cx="378.5" cy="814.1" r="1.1" fill="#e4e4e4" opacity="0.51"/><circle cx="380.7" cy="813.7" r="1.1" fill="#e4e4e4" opacity="0.51"/><circle cx="386.0" cy="810.8" r="0.9" fill="#e4e4e4" opacity="0.54"/><circle cx="388.2" cy="810.4" r="0.9" fill="#e4e4e4" opacity="0.54"/><circle cx="234.2" cy="851.0" r="1.1" fill="#e4e4e4" opacity="0.55"/><circle cx="236.4" cy="850.6" r="1.1" fill="#e4e4e4" opacity="0.55"/><circle cx="277.1" cy="842.4" r="1.1" fill="#e4e4e4" opacity="0.78"/><circle cx="279.3" cy="842.0" r="1.1" fill="#e4e4e4" opacity="0.78"/><circle cx="310.5" cy="835.2" r="1.1" fill="#e4e4e4" opacity="0.85"/><circle cx="312.7" cy="834.8" r="1.1" fill="#e4e4e4" opacity="0.85"/><circle cx="348.4" cy="828.3" r="1.0" fill="#e4e4e4" opacity="0.60"/><circle cx="350.6" cy="827.9" r="1.0" fill="#e4e4e4" opacity="0.60"/><circle cx="396.0" cy="815.1" r="1.2" fill="#e4e4e4" opacity="0.76"/><circle cx="228.9" cy="861.8" r="0.8" fill="#e4e4e4" opacity="0.93"/><circle cx="231.1" cy="861.4" r="0.8" fill="#e4e4e4" opacity="0.93"/><circle cx="254.1" cy="856.5" r="1.0" fill="#e4e4e4" opacity="0.68"/><circle cx="256.3" cy="856.1" r="1.0" fill="#e4e4e4" opacity="0.68"/><circle cx="258.5" cy="855.7" r="1.0" fill="#e4e4e4" opacity="0.68"/><circle cx="262.2" cy="855.2" r="1.2" fill="#e4e4e4" opacity="0.57"/><circle cx="279.0" cy="851.6" r="0.8" fill="#e4e4e4" opacity="0.72"/><circle cx="299.0" cy="847.6" r="0.9" fill="#e4e4e4" opacity="0.51"/><circle cx="301.2" cy="847.2" r="0.9" fill="#e4e4e4" opacity="0.51"/><circle cx="318.1" cy="842.7" r="1.1" fill="#e4e4e4" opacity="0.92"/><circle cx="320.3" cy="842.3" r="1.1" fill="#e4e4e4" opacity="0.92"/><circle cx="322.5" cy="841.9" r="1.1" fill="#e4e4e4" opacity="0.92"/><circle cx="336.9" cy="838.6" r="1.0" fill="#e4e4e4" opacity="0.64"/><circle cx="339.1" cy="838.2" r="1.0" fill="#e4e4e4" opacity="0.64"/><circle cx="355.3" cy="834.7" r="1.1" fill="#e4e4e4" opacity="0.85"/><circle cx="357.5" cy="834.3" r="1.1" fill="#e4e4e4" opacity="0.85"/><circle cx="216.9" cy="870.8" r="1.1" fill="#e4e4e4" opacity="0.77"/><circle cx="219.1" cy="870.4" r="1.1" fill="#e4e4e4" opacity="0.77"/><circle cx="221.3" cy="870.0" r="1.1" fill="#e4e4e4" opacity="0.77"/><circle cx="227.4" cy="867.1" r="1.0" fill="#e4e4e4" opacity="0.78"/><circle cx="229.6" cy="866.7" r="1.0" fill="#e4e4e4" opacity="0.78"/><circle cx="231.8" cy="866.3" r="1.0" fill="#e4e4e4" opacity="0.78"/><circle cx="237.2" cy="865.6" r="1.2" fill="#e4e4e4" opacity="0.68"/><circle cx="239.4" cy="865.2" r="1.2" fill="#e4e4e4" opacity="0.68"/><circle cx="241.6" cy="864.8" r="1.2" fill="#e4e4e4" opacity="0.68"/><circle cx="261.1" cy="862.3" r="1.0" fill="#e4e4e4" opacity="0.50"/><circle cx="263.3" cy="861.9" r="1.0" fill="#e4e4e4" opacity="0.50"/><circle cx="279.1" cy="858.1" r="0.9" fill="#e4e4e4" opacity="0.51"/><circle cx="281.3" cy="857.7" r="0.9" fill="#e4e4e4" opacity="0.51"/><circle cx="283.5" cy="857.3" r="0.9" fill="#e4e4e4" opacity="0.51"/><circle cx="296.6" cy="852.1" r="1.1" fill="#e4e4e4" opacity="0.81"/><circle cx="298.8" cy="851.7" r="1.1" fill="#e4e4e4" opacity="0.81"/><circle cx="309.6" cy="850.2" r="1.0" fill="#e4e4e4" opacity="0.93"/><circle cx="326.3" cy="846.9" r="0.8" fill="#e4e4e4" opacity="0.62"/><circle cx="328.5" cy="846.5" r="0.8" fill="#e4e4e4" opacity="0.62"/><circle cx="332.4" cy="845.4" r="1.1" fill="#e4e4e4" opacity="0.75"/><circle cx="334.6" cy="845.0" r="1.1" fill="#e4e4e4" opacity="0.75"/><circle cx="336.8" cy="844.6" r="1.1" fill="#e4e4e4" opacity="0.75"/><circle cx="361.6" cy="838.3" r="1.0" fill="#e4e4e4" opacity="0.80"/><circle cx="363.8" cy="837.9" r="1.0" fill="#e4e4e4" opacity="0.80"/><circle cx="389.8" cy="833.9" r="1.0" fill="#e4e4e4" opacity="0.66"/><circle cx="392.0" cy="833.5" r="1.0" fill="#e4e4e4" opacity="0.66"/><circle cx="395.4" cy="830.1" r="1.2" fill="#e4e4e4" opacity="0.58"/><circle cx="245.5" cy="872.7" r="1.2" fill="#e4e4e4" opacity="0.75"/><circle cx="247.7" cy="872.3" r="1.2" fill="#e4e4e4" opacity="0.75"/><circle cx="249.9" cy="871.9" r="1.2" fill="#e4e4e4" opacity="0.75"/><circle cx="267.9" cy="866.4" r="0.9" fill="#e4e4e4" opacity="0.62"/><circle cx="291.5" cy="860.4" r="1.0" fill="#e4e4e4" opacity="0.74"/><circle cx="293.7" cy="860.0" r="1.0" fill="#e4e4e4" opacity="0.74"/><circle cx="298.9" cy="860.4" r="1.0" fill="#e4e4e4" opacity="0.53"/><circle cx="301.1" cy="860.0" r="1.0" fill="#e4e4e4" opacity="0.53"/><circle cx="307.4" cy="858.0" r="0.8" fill="#e4e4e4" opacity="0.77"/><circle cx="309.6" cy="857.6" r="0.8" fill="#e4e4e4" opacity="0.77"/><circle cx="311.8" cy="857.2" r="0.8" fill="#e4e4e4" opacity="0.77"/><circle cx="323.8" cy="855.5" r="1.0" fill="#e4e4e4" opacity="0.75"/><circle cx="326.0" cy="855.1" r="1.0" fill="#e4e4e4" opacity="0.75"/><circle cx="352.4" cy="848.2" r="1.2" fill="#e4e4e4" opacity="0.62"/><circle cx="363.2" cy="845.8" r="0.8" fill="#e4e4e4" opacity="0.77"/><circle cx="365.4" cy="845.4" r="0.8" fill="#e4e4e4" opacity="0.77"/><circle cx="369.5" cy="842.7" r="0.8" fill="#e4e4e4" opacity="0.93"/><circle cx="371.7" cy="842.3" r="0.8" fill="#e4e4e4" opacity="0.93"/><circle cx="394.0" cy="837.9" r="0.8" fill="#e4e4e4" opacity="0.56"/><circle cx="396.2" cy="837.5" r="0.8" fill="#e4e4e4" opacity="0.56"/><circle cx="398.4" cy="837.1" r="0.8" fill="#e4e4e4" opacity="0.56"/><circle cx="232.9" cy="881.5" r="1.1" fill="#e4e4e4" opacity="0.60"/><circle cx="235.1" cy="881.1" r="1.1" fill="#e4e4e4" opacity="0.60"/><circle cx="241.5" cy="877.6" r="0.9" fill="#e4e4e4" opacity="0.60"/><circle cx="243.7" cy="877.2" r="0.9" fill="#e4e4e4" opacity="0.60"/><circle cx="261.7" cy="873.9" r="1.2" fill="#e4e4e4" opacity="0.63"/><circle cx="263.9" cy="873.5" r="1.2" fill="#e4e4e4" opacity="0.63"/><circle cx="300.1" cy="865.5" r="1.1" fill="#e4e4e4" opacity="0.66"/><circle cx="302.3" cy="865.1" r="1.1" fill="#e4e4e4" opacity="0.66"/><circle cx="304.5" cy="864.7" r="1.1" fill="#e4e4e4" opacity="0.66"/><circle cx="332.8" cy="859.4" r="0.8" fill="#e4e4e4" opacity="0.83"/><circle cx="350.3" cy="854.4" r="1.0" fill="#e4e4e4" opacity="0.57"/><circle cx="352.5" cy="854.0" r="1.0" fill="#e4e4e4" opacity="0.57"/><circle cx="354.7" cy="853.6" r="1.0" fill="#e4e4e4" opacity="0.57"/><circle cx="358.9" cy="853.4" r="1.1" fill="#e4e4e4" opacity="0.61"/><circle cx="361.1" cy="853.0" r="1.1" fill="#e4e4e4" opacity="0.61"/><circle cx="385.2" cy="845.7" r="1.0" fill="#e4e4e4" opacity="0.59"/><circle cx="387.4" cy="845.3" r="1.0" fill="#e4e4e4" opacity="0.59"/><circle cx="219.6" cy="890.6" r="0.8" fill="#e4e4e4" opacity="0.76"/><circle cx="221.8" cy="890.2" r="0.8" fill="#e4e4e4" opacity="0.76"/><circle cx="234.6" cy="887.2" r="1.1" fill="#e4e4e4" opacity="0.90"/><circle cx="236.8" cy="886.8" r="1.1" fill="#e4e4e4" opacity="0.90"/><circle cx="251.6" cy="885.4" r="1.1" fill="#e4e4e4" opacity="0.63"/><circle cx="277.5" cy="880.0" r="1.2" fill="#e4e4e4" opacity="0.72"/><circle cx="279.7" cy="879.6" r="1.2" fill="#e4e4e4" opacity="0.72"/><circle cx="307.9" cy="871.2" r="1.0" fill="#e4e4e4" opacity="0.93"/><circle cx="310.1" cy="870.8" r="1.0" fill="#e4e4e4" opacity="0.93"/><circle cx="312.3" cy="870.4" r="1.0" fill="#e4e4e4" opacity="0.93"/><circle cx="323.8" cy="869.8" r="0.9" fill="#e4e4e4" opacity="0.67"/><circle cx="326.0" cy="869.4" r="0.9" fill="#e4e4e4" opacity="0.67"/><circle cx="328.2" cy="869.0" r="0.9" fill="#e4e4e4" opacity="0.67"/><circle cx="361.5" cy="859.2" r="1.0" fill="#e4e4e4" opacity="0.78"/><circle cx="363.7" cy="858.8" r="1.0" fill="#e4e4e4" opacity="0.78"/><circle cx="365.9" cy="858.4" r="1.0" fill="#e4e4e4" opacity="0.78"/><circle cx="373.2" cy="856.6" r="1.1" fill="#e4e4e4" opacity="0.56"/><circle cx="389.4" cy="854.5" r="1.1" fill="#e4e4e4" opacity="0.81"/><circle cx="396.1" cy="852.2" r="1.2" fill="#e4e4e4" opacity="0.59"/><circle cx="398.3" cy="851.8" r="1.2" fill="#e4e4e4" opacity="0.59"/><circle cx="400.5" cy="851.4" r="1.2" fill="#e4e4e4" opacity="0.59"/><circle cx="216.8" cy="899.9" r="0.8" fill="#e4e4e4" opacity="0.92"/><circle cx="219.0" cy="899.5" r="0.8" fill="#e4e4e4" opacity="0.92"/><circle cx="221.2" cy="899.1" r="0.8" fill="#e4e4e4" opacity="0.92"/><circle cx="234.3" cy="896.0" r="1.0" fill="#e4e4e4" opacity="0.67"/><circle cx="236.5" cy="895.6" r="1.0" fill="#e4e4e4" opacity="0.67"/><circle cx="245.5" cy="891.9" r="0.9" fill="#e4e4e4" opacity="0.57"/><circle cx="247.7" cy="891.5" r="0.9" fill="#e4e4e4" opacity="0.57"/><circle cx="255.6" cy="888.5" r="0.9" fill="#e4e4e4" opacity="0.71"/><circle cx="269.6" cy="886.0" r="0.8" fill="#e4e4e4" opacity="0.72"/><circle cx="271.8" cy="885.6" r="0.8" fill="#e4e4e4" opacity="0.72"/><circle cx="274.0" cy="885.2" r="0.8" fill="#e4e4e4" opacity="0.72"/><circle cx="279.5" cy="883.7" r="0.9" fill="#e4e4e4" opacity="0.69"/><circle cx="281.7" cy="883.3" r="0.9" fill="#e4e4e4" opacity="0.69"/><circle cx="283.9" cy="882.9" r="0.9" fill="#e4e4e4" opacity="0.69"/><circle cx="320.1" cy="875.8" r="0.9" fill="#e4e4e4" opacity="0.68"/><circle cx="322.3" cy="875.4" r="0.9" fill="#e4e4e4" opacity="0.68"/><circle cx="324.5" cy="875.0" r="0.9" fill="#e4e4e4" opacity="0.68"/><circle cx="331.9" cy="874.1" r="0.8" fill="#e4e4e4" opacity="0.77"/><circle cx="334.1" cy="873.7" r="0.8" fill="#e4e4e4" opacity="0.77"/><circle cx="351.1" cy="868.5" r="0.8" fill="#e4e4e4" opacity="0.61"/><circle cx="353.3" cy="868.1" r="0.8" fill="#e4e4e4" opacity="0.61"/><circle cx="355.5" cy="867.7" r="0.8" fill="#e4e4e4" opacity="0.61"/><circle cx="367.2" cy="864.9" r="1.2" fill="#e4e4e4" opacity="0.54"/><circle cx="369.4" cy="864.5" r="1.2" fill="#e4e4e4" opacity="0.54"/><circle cx="381.0" cy="862.5" r="1.2" fill="#e4e4e4" opacity="0.57"/><circle cx="383.2" cy="862.1" r="1.2" fill="#e4e4e4" opacity="0.57"/><circle cx="385.4" cy="861.7" r="1.2" fill="#e4e4e4" opacity="0.57"/><circle cx="386.2" cy="861.0" r="0.8" fill="#e4e4e4" opacity="0.73"/><circle cx="388.4" cy="860.6" r="0.8" fill="#e4e4e4" opacity="0.73"/><circle cx="393.8" cy="858.4" r="0.8" fill="#e4e4e4" opacity="0.79"/><circle cx="400.0" cy="857.4" r="1.1" fill="#e4e4e4" opacity="0.65"/><circle cx="402.2" cy="857.0" r="1.1" fill="#e4e4e4" opacity="0.65"/><circle cx="243.4" cy="899.5" r="1.0" fill="#e4e4e4" opacity="0.89"/><circle cx="245.6" cy="899.1" r="1.0" fill="#e4e4e4" opacity="0.89"/><circle cx="247.8" cy="898.7" r="1.0" fill="#e4e4e4" opacity="0.89"/><circle cx="254.8" cy="897.1" r="1.1" fill="#e4e4e4" opacity="0.74"/><circle cx="293.3" cy="888.8" r="1.2" fill="#e4e4e4" opacity="0.79"/><circle cx="302.5" cy="888.3" r="0.9" fill="#e4e4e4" opacity="0.57"/><circle cx="326.7" cy="881.5" r="1.0" fill="#e4e4e4" opacity="0.84"/><circle cx="328.9" cy="881.1" r="1.0" fill="#e4e4e4" opacity="0.84"/><circle cx="335.0" cy="879.5" r="1.1" fill="#e4e4e4" opacity="0.54"/><circle cx="345.5" cy="877.7" r="0.8" fill="#e4e4e4" opacity="0.74"/><circle cx="347.7" cy="877.3" r="0.8" fill="#e4e4e4" opacity="0.74"/><circle cx="357.5" cy="875.8" r="1.0" fill="#e4e4e4" opacity="0.61"/><circle cx="366.5" cy="872.1" r="1.0" fill="#e4e4e4" opacity="0.52"/><circle cx="371.7" cy="870.9" r="0.8" fill="#e4e4e4" opacity="0.53"/><circle cx="373.9" cy="870.5" r="0.8" fill="#e4e4e4" opacity="0.53"/><circle cx="376.1" cy="870.1" r="0.8" fill="#e4e4e4" opacity="0.53"/><circle cx="216.0" cy="913.5" r="0.8" fill="#e4e4e4" opacity="0.62"/><circle cx="218.2" cy="913.1" r="0.8" fill="#e4e4e4" opacity="0.62"/><circle cx="236.6" cy="907.2" r="1.2" fill="#e4e4e4" opacity="0.90"/><circle cx="238.8" cy="906.8" r="1.2" fill="#e4e4e4" opacity="0.90"/><circle cx="241.0" cy="906.4" r="1.2" fill="#e4e4e4" opacity="0.90"/><circle cx="246.6" cy="906.7" r="1.0" fill="#e4e4e4" opacity="0.95"/><circle cx="248.8" cy="906.3" r="1.0" fill="#e4e4e4" opacity="0.95"/><circle cx="257.1" cy="904.1" r="1.0" fill="#e4e4e4" opacity="0.80"/><circle cx="259.3" cy="903.7" r="1.0" fill="#e4e4e4" opacity="0.80"/><circle cx="261.5" cy="903.3" r="1.0" fill="#e4e4e4" opacity="0.80"/><circle cx="263.1" cy="901.1" r="0.9" fill="#e4e4e4" opacity="0.95"/><circle cx="265.3" cy="900.7" r="0.9" fill="#e4e4e4" opacity="0.95"/><circle cx="267.5" cy="900.3" r="0.9" fill="#e4e4e4" opacity="0.95"/><circle cx="292.6" cy="894.6" r="1.2" fill="#e4e4e4" opacity="0.70"/><circle cx="294.8" cy="894.2" r="1.2" fill="#e4e4e4" opacity="0.70"/><circle cx="311.6" cy="893.4" r="0.9" fill="#e4e4e4" opacity="0.71"/><circle cx="313.8" cy="893.0" r="0.9" fill="#e4e4e4" opacity="0.71"/><circle cx="343.7" cy="883.4" r="1.0" fill="#e4e4e4" opacity="0.65"/><circle cx="345.9" cy="883.0" r="1.0" fill="#e4e4e4" opacity="0.65"/><circle cx="348.1" cy="882.6" r="1.0" fill="#e4e4e4" opacity="0.65"/><circle cx="382.2" cy="877.2" r="1.0" fill="#e4e4e4" opacity="0.86"/><circle cx="391.6" cy="873.8" r="0.9" fill="#e4e4e4" opacity="0.87"/><circle cx="401.1" cy="871.8" r="1.1" fill="#e4e4e4" opacity="0.59"/><circle cx="403.3" cy="871.4" r="1.1" fill="#e4e4e4" opacity="0.59"/><circle cx="238.7" cy="916.2" r="1.1" fill="#e4e4e4" opacity="0.95"/><circle cx="246.5" cy="913.5" r="1.0" fill="#e4e4e4" opacity="0.78"/><circle cx="248.7" cy="913.1" r="1.0" fill="#e4e4e4" opacity="0.78"/><circle cx="279.5" cy="906.5" r="0.9" fill="#e4e4e4" opacity="0.75"/><circle cx="310.7" cy="898.8" r="1.2" fill="#e4e4e4" opacity="0.73"/><circle cx="312.9" cy="898.4" r="1.2" fill="#e4e4e4" opacity="0.73"/><circle cx="318.7" cy="898.4" r="1.1" fill="#e4e4e4" opacity="0.58"/><circle cx="320.9" cy="898.0" r="1.1" fill="#e4e4e4" opacity="0.58"/><circle cx="334.5" cy="893.8" r="1.0" fill="#e4e4e4" opacity="0.83"/><circle cx="336.7" cy="893.4" r="1.0" fill="#e4e4e4" opacity="0.83"/><circle cx="379.3" cy="884.5" r="0.8" fill="#e4e4e4" opacity="0.94"/><circle cx="381.5" cy="884.1" r="0.8" fill="#e4e4e4" opacity="0.94"/><circle cx="397.1" cy="879.3" r="1.0" fill="#e4e4e4" opacity="0.76"/><circle cx="399.3" cy="878.9" r="1.0" fill="#e4e4e4" opacity="0.76"/><circle cx="233.3" cy="925.2" r="0.9" fill="#e4e4e4" opacity="0.51"/><circle cx="235.5" cy="924.8" r="0.9" fill="#e4e4e4" opacity="0.51"/><circle cx="242.0" cy="921.2" r="0.9" fill="#e4e4e4" opacity="0.68"/><circle cx="244.2" cy="920.8" r="0.9" fill="#e4e4e4" opacity="0.68"/><circle cx="246.4" cy="920.4" r="0.9" fill="#e4e4e4" opacity="0.68"/><circle cx="262.5" cy="916.9" r="0.9" fill="#e4e4e4" opacity="0.94"/><circle cx="264.7" cy="916.5" r="0.9" fill="#e4e4e4" opacity="0.94"/><circle cx="266.9" cy="916.1" r="0.9" fill="#e4e4e4" opacity="0.94"/><circle cx="274.1" cy="913.8" r="0.8" fill="#e4e4e4" opacity="0.95"/><circle cx="276.3" cy="913.4" r="0.8" fill="#e4e4e4" opacity="0.95"/><circle cx="301.2" cy="909.1" r="1.0" fill="#e4e4e4" opacity="0.87"/><circle cx="303.4" cy="908.7" r="1.0" fill="#e4e4e4" opacity="0.87"/><circle cx="321.8" cy="904.0" r="0.9" fill="#e4e4e4" opacity="0.80"/><circle cx="341.3" cy="901.0" r="1.2" fill="#e4e4e4" opacity="0.62"/><circle cx="343.5" cy="900.6" r="1.2" fill="#e4e4e4" opacity="0.62"/><circle cx="352.6" cy="897.6" r="1.1" fill="#e4e4e4" opacity="0.58"/><circle cx="354.8" cy="897.2" r="1.1" fill="#e4e4e4" opacity="0.58"/><circle cx="224.3" cy="933.7" r="0.8" fill="#e4e4e4" opacity="0.90"/><circle cx="243.3" cy="928.6" r="1.0" fill="#e4e4e4" opacity="0.54"/><circle cx="245.5" cy="928.2" r="1.0" fill="#e4e4e4" opacity="0.54"/><circle cx="251.3" cy="926.2" r="0.8" fill="#e4e4e4" opacity="0.69"/><circle cx="253.5" cy="925.8" r="0.8" fill="#e4e4e4" opacity="0.69"/><circle cx="255.7" cy="925.4" r="0.8" fill="#e4e4e4" opacity="0.69"/><circle cx="261.6" cy="925.3" r="1.1" fill="#e4e4e4" opacity="0.63"/><circle cx="267.1" cy="924.3" r="1.1" fill="#e4e4e4" opacity="0.71"/><circle cx="269.3" cy="923.9" r="1.1" fill="#e4e4e4" opacity="0.71"/><circle cx="277.8" cy="922.1" r="0.9" fill="#e4e4e4" opacity="0.63"/><circle cx="280.0" cy="921.7" r="0.9" fill="#e4e4e4" opacity="0.63"/><circle cx="282.2" cy="921.3" r="0.9" fill="#e4e4e4" opacity="0.63"/><circle cx="285.3" cy="921.1" r="1.0" fill="#e4e4e4" opacity="0.78"/><circle cx="312.6" cy="914.0" r="1.0" fill="#e4e4e4" opacity="0.69"/><circle cx="314.8" cy="913.6" r="1.0" fill="#e4e4e4" opacity="0.69"/><circle cx="338.1" cy="909.5" r="1.0" fill="#e4e4e4" opacity="0.53"/><circle cx="340.3" cy="909.1" r="1.0" fill="#e4e4e4" opacity="0.53"/><circle cx="344.1" cy="907.1" r="0.8" fill="#e4e4e4" opacity="0.92"/><circle cx="352.7" cy="906.2" r="1.0" fill="#e4e4e4" opacity="0.72"/><circle cx="363.8" cy="901.3" r="0.9" fill="#e4e4e4" opacity="0.91"/><circle cx="366.0" cy="900.9" r="0.9" fill="#e4e4e4" opacity="0.91"/><circle cx="368.2" cy="900.5" r="0.9" fill="#e4e4e4" opacity="0.91"/><circle cx="369.9" cy="900.8" r="0.9" fill="#e4e4e4" opacity="0.92"/><circle cx="397.7" cy="894.9" r="1.0" fill="#e4e4e4" opacity="0.80"/><circle cx="399.9" cy="894.5" r="1.0" fill="#e4e4e4" opacity="0.80"/><circle cx="402.1" cy="894.1" r="1.0" fill="#e4e4e4" opacity="0.80"/><circle cx="238.3" cy="937.9" r="0.9" fill="#e4e4e4" opacity="0.79"/><circle cx="246.1" cy="936.1" r="1.1" fill="#e4e4e4" opacity="0.91"/><circle cx="252.5" cy="936.2" r="1.2" fill="#e4e4e4" opacity="0.92"/><circle cx="254.7" cy="935.8" r="1.2" fill="#e4e4e4" opacity="0.92"/><circle cx="256.9" cy="935.4" r="1.2" fill="#e4e4e4" opacity="0.92"/><circle cx="260.1" cy="933.2" r="0.9" fill="#e4e4e4" opacity="0.87"/><circle cx="293.9" cy="927.5" r="1.1" fill="#e4e4e4" opacity="0.51"/><circle cx="296.1" cy="927.1" r="1.1" fill="#e4e4e4" opacity="0.51"/><circle cx="300.5" cy="925.8" r="0.8" fill="#e4e4e4" opacity="0.66"/><circle cx="302.7" cy="925.4" r="0.8" fill="#e4e4e4" opacity="0.66"/><circle cx="311.6" cy="923.1" r="0.8" fill="#e4e4e4" opacity="0.64"/><circle cx="313.8" cy="922.7" r="0.8" fill="#e4e4e4" opacity="0.64"/><circle cx="316.0" cy="922.3" r="0.8" fill="#e4e4e4" opacity="0.64"/><circle cx="363.8" cy="911.9" r="1.2" fill="#e4e4e4" opacity="0.51"/><circle cx="366.0" cy="911.5" r="1.2" fill="#e4e4e4" opacity="0.51"/><circle cx="371.2" cy="910.6" r="1.0" fill="#e4e4e4" opacity="0.67"/><circle cx="373.4" cy="910.2" r="1.0" fill="#e4e4e4" opacity="0.67"/><circle cx="217.8" cy="948.9" r="1.2" fill="#e4e4e4" opacity="0.64"/><circle cx="220.0" cy="948.5" r="1.2" fill="#e4e4e4" opacity="0.64"/><circle cx="243.7" cy="945.0" r="1.0" fill="#e4e4e4" opacity="0.64"/><circle cx="245.9" cy="944.6" r="1.0" fill="#e4e4e4" opacity="0.64"/><circle cx="248.1" cy="944.2" r="1.0" fill="#e4e4e4" opacity="0.64"/><circle cx="254.6" cy="941.5" r="0.8" fill="#e4e4e4" opacity="0.64"/><circle cx="256.8" cy="941.1" r="0.8" fill="#e4e4e4" opacity="0.64"/><circle cx="260.9" cy="938.9" r="0.9" fill="#e4e4e4" opacity="0.89"/><circle cx="263.1" cy="938.5" r="0.9" fill="#e4e4e4" opacity="0.89"/><circle cx="294.9" cy="931.8" r="0.8" fill="#e4e4e4" opacity="0.77"/><circle cx="297.1" cy="931.4" r="0.8" fill="#e4e4e4" opacity="0.77"/><circle cx="309.5" cy="929.5" r="1.0" fill="#e4e4e4" opacity="0.52"/><circle cx="311.7" cy="929.1" r="1.0" fill="#e4e4e4" opacity="0.52"/><circle cx="315.1" cy="927.8" r="1.1" fill="#e4e4e4" opacity="0.67"/><circle cx="317.3" cy="927.4" r="1.1" fill="#e4e4e4" opacity="0.67"/><circle cx="319.5" cy="927.0" r="1.1" fill="#e4e4e4" opacity="0.67"/><circle cx="366.1" cy="917.4" r="1.2" fill="#e4e4e4" opacity="0.78"/><circle cx="368.3" cy="917.0" r="1.2" fill="#e4e4e4" opacity="0.78"/><circle cx="370.5" cy="916.6" r="1.2" fill="#e4e4e4" opacity="0.78"/><circle cx="239.1" cy="952.0" r="0.8" fill="#e4e4e4" opacity="0.76"/><circle cx="241.3" cy="951.6" r="0.8" fill="#e4e4e4" opacity="0.76"/><circle cx="245.0" cy="950.9" r="1.2" fill="#e4e4e4" opacity="0.60"/><circle cx="247.2" cy="950.5" r="1.2" fill="#e4e4e4" opacity="0.60"/><circle cx="254.7" cy="950.6" r="0.9" fill="#e4e4e4" opacity="0.50"/><circle cx="256.9" cy="950.2" r="0.9" fill="#e4e4e4" opacity="0.50"/><circle cx="262.1" cy="946.9" r="0.9" fill="#e4e4e4" opacity="0.83"/><circle cx="264.3" cy="946.5" r="0.9" fill="#e4e4e4" opacity="0.83"/><circle cx="280.7" cy="943.2" r="1.0" fill="#e4e4e4" opacity="0.51"/><circle cx="322.0" cy="934.8" r="0.9" fill="#e4e4e4" opacity="0.55"/><circle cx="324.2" cy="934.4" r="0.9" fill="#e4e4e4" opacity="0.55"/><circle cx="344.6" cy="928.2" r="0.9" fill="#e4e4e4" opacity="0.88"/><circle cx="346.8" cy="927.8" r="0.9" fill="#e4e4e4" opacity="0.88"/><circle cx="364.9" cy="923.8" r="0.8" fill="#e4e4e4" opacity="0.72"/><circle cx="367.1" cy="923.4" r="0.8" fill="#e4e4e4" opacity="0.72"/><circle cx="215.5" cy="965.2" r="1.2" fill="#e4e4e4" opacity="0.51"/><circle cx="238.2" cy="962.0" r="1.0" fill="#e4e4e4" opacity="0.57"/><circle cx="240.4" cy="961.6" r="1.0" fill="#e4e4e4" opacity="0.57"/><circle cx="242.6" cy="961.2" r="1.0" fill="#e4e4e4" opacity="0.57"/><circle cx="290.0" cy="949.6" r="1.2" fill="#e4e4e4" opacity="0.70"/><circle cx="306.2" cy="947.4" r="1.0" fill="#e4e4e4" opacity="0.76"/><circle cx="308.4" cy="947.0" r="1.0" fill="#e4e4e4" opacity="0.76"/><circle cx="310.6" cy="946.6" r="1.0" fill="#e4e4e4" opacity="0.76"/><circle cx="331.1" cy="939.7" r="0.9" fill="#e4e4e4" opacity="0.72"/><circle cx="333.3" cy="939.3" r="0.9" fill="#e4e4e4" opacity="0.72"/><circle cx="339.0" cy="938.7" r="1.2" fill="#e4e4e4" opacity="0.56"/><circle cx="341.2" cy="938.3" r="1.2" fill="#e4e4e4" opacity="0.56"/><circle cx="374.2" cy="931.2" r="1.1" fill="#e4e4e4" opacity="0.62"/><circle cx="376.4" cy="930.8" r="1.1" fill="#e4e4e4" opacity="0.62"/><circle cx="378.6" cy="930.4" r="1.1" fill="#e4e4e4" opacity="0.62"/><circle cx="218.1" cy="970.1" r="1.0" fill="#e4e4e4" opacity="0.64"/><circle cx="220.3" cy="969.7" r="1.0" fill="#e4e4e4" opacity="0.64"/><circle cx="222.5" cy="969.3" r="1.0" fill="#e4e4e4" opacity="0.64"/><circle cx="278.3" cy="959.1" r="1.1" fill="#e4e4e4" opacity="0.50"/><circle cx="291.6" cy="956.0" r="1.0" fill="#e4e4e4" opacity="0.88"/><circle cx="320.3" cy="948.5" r="1.1" fill="#e4e4e4" opacity="0.72"/><circle cx="322.5" cy="948.1" r="1.1" fill="#e4e4e4" opacity="0.72"/><circle cx="324.7" cy="947.7" r="1.1" fill="#e4e4e4" opacity="0.72"/><circle cx="335.7" cy="945.7" r="1.2" fill="#e4e4e4" opacity="0.54"/><circle cx="337.9" cy="945.3" r="1.2" fill="#e4e4e4" opacity="0.54"/><circle cx="340.1" cy="944.9" r="1.2" fill="#e4e4e4" opacity="0.54"/><circle cx="220.3" cy="979.1" r="0.9" fill="#e4e4e4" opacity="0.65"/><circle cx="222.5" cy="978.7" r="0.9" fill="#e4e4e4" opacity="0.65"/><circle cx="224.7" cy="978.3" r="0.9" fill="#e4e4e4" opacity="0.65"/><circle cx="237.3" cy="974.8" r="1.1" fill="#e4e4e4" opacity="0.67"/><circle cx="239.5" cy="974.4" r="1.1" fill="#e4e4e4" opacity="0.67"/><circle cx="248.7" cy="972.6" r="1.2" fill="#e4e4e4" opacity="0.57"/><circle cx="250.9" cy="972.2" r="1.2" fill="#e4e4e4" opacity="0.57"/><circle cx="278.5" cy="963.8" r="0.8" fill="#e4e4e4" opacity="0.62"/><circle cx="302.2" cy="959.8" r="0.8" fill="#e4e4e4" opacity="0.92"/><circle cx="304.4" cy="959.4" r="0.8" fill="#e4e4e4" opacity="0.92"/><circle cx="321.6" cy="955.0" r="1.0" fill="#e4e4e4" opacity="0.92"/><circle cx="346.1" cy="950.1" r="0.9" fill="#e4e4e4" opacity="0.95"/><circle cx="348.3" cy="949.7" r="0.9" fill="#e4e4e4" opacity="0.95"/><circle cx="216.7" cy="985.5" r="1.2" fill="#e4e4e4" opacity="0.61"/><circle cx="218.9" cy="985.1" r="1.2" fill="#e4e4e4" opacity="0.61"/><circle cx="222.5" cy="983.0" r="1.0" fill="#e4e4e4" opacity="0.62"/><circle cx="278.4" cy="970.6" r="1.0" fill="#e4e4e4" opacity="0.55"/><circle cx="280.6" cy="970.2" r="1.0" fill="#e4e4e4" opacity="0.55"/><circle cx="284.1" cy="968.6" r="1.2" fill="#e4e4e4" opacity="0.55"/><circle cx="286.3" cy="968.2" r="1.2" fill="#e4e4e4" opacity="0.55"/><circle cx="288.5" cy="967.8" r="1.2" fill="#e4e4e4" opacity="0.55"/><circle cx="290.5" cy="969.5" r="0.8" fill="#e4e4e4" opacity="0.72"/><circle cx="292.7" cy="969.1" r="0.8" fill="#e4e4e4" opacity="0.72"/><circle cx="302.5" cy="965.9" r="1.1" fill="#e4e4e4" opacity="0.64"/><circle cx="304.7" cy="965.5" r="1.1" fill="#e4e4e4" opacity="0.64"/><circle cx="309.2" cy="964.5" r="1.1" fill="#e4e4e4" opacity="0.90"/><circle cx="311.4" cy="964.1" r="1.1" fill="#e4e4e4" opacity="0.90"/><circle cx="313.6" cy="963.7" r="1.1" fill="#e4e4e4" opacity="0.90"/><circle cx="346.3" cy="955.8" r="1.0" fill="#e4e4e4" opacity="0.63"/><circle cx="348.5" cy="955.4" r="1.0" fill="#e4e4e4" opacity="0.63"/><circle cx="357.6" cy="952.5" r="1.2" fill="#e4e4e4" opacity="0.75"/><circle cx="359.8" cy="952.1" r="1.2" fill="#e4e4e4" opacity="0.75"/><circle cx="362.0" cy="951.7" r="1.2" fill="#e4e4e4" opacity="0.75"/><circle cx="369.3" cy="949.9" r="1.0" fill="#e4e4e4" opacity="0.74"/><circle cx="378.7" cy="947.5" r="1.2" fill="#e4e4e4" opacity="0.65"/><circle cx="380.9" cy="947.1" r="1.2" fill="#e4e4e4" opacity="0.65"/><circle cx="383.1" cy="946.7" r="1.2" fill="#e4e4e4" opacity="0.65"/><circle cx="220.3" cy="992.2" r="1.2" fill="#e4e4e4" opacity="0.66"/><circle cx="222.5" cy="991.8" r="1.2" fill="#e4e4e4" opacity="0.66"/><circle cx="244.6" cy="987.6" r="1.2" fill="#e4e4e4" opacity="0.83"/><circle cx="308.2" cy="970.8" r="0.9" fill="#e4e4e4" opacity="0.57"/><circle cx="329.8" cy="966.0" r="0.8" fill="#e4e4e4" opacity="0.95"/><circle cx="332.0" cy="965.6" r="0.8" fill="#e4e4e4" opacity="0.95"/><circle cx="355.5" cy="961.4" r="1.1" fill="#e4e4e4" opacity="0.87"/><circle cx="357.7" cy="961.0" r="1.1" fill="#e4e4e4" opacity="0.87"/><circle cx="377.2" cy="958.4" r="1.0" fill="#e4e4e4" opacity="0.90"/><circle cx="395.9" cy="952.2" r="0.9" fill="#e4e4e4" opacity="0.59"/><circle cx="398.1" cy="951.8" r="0.9" fill="#e4e4e4" opacity="0.59"/><circle cx="240.2" cy="995.4" r="1.0" fill="#e4e4e4" opacity="0.61"/><circle cx="242.4" cy="995.0" r="1.0" fill="#e4e4e4" opacity="0.61"/><circle cx="287.3" cy="984.3" r="0.9" fill="#e4e4e4" opacity="0.89"/><circle cx="289.5" cy="983.9" r="0.9" fill="#e4e4e4" opacity="0.89"/><circle cx="291.7" cy="983.5" r="0.9" fill="#e4e4e4" opacity="0.89"/><circle cx="297.7" cy="982.6" r="1.0" fill="#e4e4e4" opacity="0.78"/><circle cx="304.1" cy="978.5" r="0.8" fill="#e4e4e4" opacity="0.75"/><circle cx="306.3" cy="978.1" r="0.8" fill="#e4e4e4" opacity="0.75"/><circle cx="308.5" cy="977.7" r="0.8" fill="#e4e4e4" opacity="0.75"/><circle cx="336.2" cy="973.4" r="1.0" fill="#e4e4e4" opacity="0.83"/><circle cx="338.4" cy="973.0" r="1.0" fill="#e4e4e4" opacity="0.83"/><circle cx="345.6" cy="970.5" r="1.2" fill="#e4e4e4" opacity="0.93"/><circle cx="373.5" cy="963.7" r="1.1" fill="#e4e4e4" opacity="0.65"/><circle cx="375.7" cy="963.3" r="1.1" fill="#e4e4e4" opacity="0.65"/><circle cx="399.8" cy="958.4" r="0.8" fill="#e4e4e4" opacity="0.90"/><circle cx="402.0" cy="958.0" r="0.8" fill="#e4e4e4" opacity="0.90"/><circle cx="228.9" cy="1002.0" r="0.8" fill="#e4e4e4" opacity="0.88"/><circle cx="231.1" cy="1001.6" r="0.8" fill="#e4e4e4" opacity="0.88"/><circle cx="237.2" cy="1000.9" r="1.0" fill="#e4e4e4" opacity="0.64"/><circle cx="274.4" cy="993.7" r="0.9" fill="#e4e4e4" opacity="0.72"/><circle cx="285.4" cy="990.6" r="1.2" fill="#e4e4e4" opacity="0.61"/><circle cx="287.6" cy="990.2" r="1.2" fill="#e4e4e4" opacity="0.61"/><circle cx="289.8" cy="989.8" r="1.2" fill="#e4e4e4" opacity="0.61"/><circle cx="290.9" cy="990.3" r="1.1" fill="#e4e4e4" opacity="0.64"/><circle cx="293.1" cy="989.9" r="1.1" fill="#e4e4e4" opacity="0.64"/><circle cx="295.3" cy="989.5" r="1.1" fill="#e4e4e4" opacity="0.64"/><circle cx="317.9" cy="983.1" r="1.1" fill="#e4e4e4" opacity="0.77"/><circle cx="320.1" cy="982.7" r="1.1" fill="#e4e4e4" opacity="0.77"/><circle cx="348.0" cy="977.9" r="1.1" fill="#e4e4e4" opacity="0.65"/><circle cx="355.3" cy="975.4" r="0.8" fill="#e4e4e4" opacity="0.66"/><circle cx="362.3" cy="973.7" r="1.0" fill="#e4e4e4" opacity="0.54"/><circle cx="364.5" cy="973.3" r="1.0" fill="#e4e4e4" opacity="0.54"/><circle cx="366.7" cy="972.9" r="1.0" fill="#e4e4e4" opacity="0.54"/><circle cx="227.8" cy="1010.4" r="0.9" fill="#e4e4e4" opacity="0.81"/><circle cx="230.0" cy="1010.0" r="0.9" fill="#e4e4e4" opacity="0.81"/><circle cx="240.2" cy="1008.0" r="1.2" fill="#e4e4e4" opacity="0.64"/><circle cx="242.4" cy="1007.6" r="1.2" fill="#e4e4e4" opacity="0.64"/><circle cx="249.6" cy="1005.7" r="1.0" fill="#e4e4e4" opacity="0.73"/><circle cx="251.8" cy="1005.3" r="1.0" fill="#e4e4e4" opacity="0.73"/><circle cx="254.0" cy="1004.9" r="1.0" fill="#e4e4e4" opacity="0.73"/><circle cx="259.6" cy="1002.9" r="0.9" fill="#e4e4e4" opacity="0.64"/><circle cx="268.4" cy="1002.5" r="1.0" fill="#e4e4e4" opacity="0.94"/><circle cx="276.8" cy="1000.1" r="0.8" fill="#e4e4e4" opacity="0.83"/><circle cx="279.0" cy="999.7" r="0.8" fill="#e4e4e4" opacity="0.83"/><circle cx="281.2" cy="999.3" r="0.8" fill="#e4e4e4" opacity="0.83"/><circle cx="376.4" cy="979.0" r="1.0" fill="#e4e4e4" opacity="0.79"/><circle cx="378.6" cy="978.6" r="1.0" fill="#e4e4e4" opacity="0.79"/><circle cx="380.8" cy="978.2" r="1.0" fill="#e4e4e4" opacity="0.79"/><circle cx="382.0" cy="975.1" r="0.9" fill="#e4e4e4" opacity="0.82"/><circle cx="384.2" cy="974.7" r="0.9" fill="#e4e4e4" opacity="0.82"/><circle cx="390.8" cy="975.5" r="1.1" fill="#e4e4e4" opacity="0.95"/><circle cx="241.4" cy="1014.0" r="1.0" fill="#e4e4e4" opacity="0.78"/><circle cx="243.6" cy="1013.6" r="1.0" fill="#e4e4e4" opacity="0.78"/><circle cx="245.8" cy="1013.2" r="1.0" fill="#e4e4e4" opacity="0.78"/><circle cx="249.6" cy="1013.1" r="1.2" fill="#e4e4e4" opacity="0.59"/><circle cx="251.8" cy="1012.7" r="1.2" fill="#e4e4e4" opacity="0.59"/><circle cx="256.3" cy="1010.4" r="0.9" fill="#e4e4e4" opacity="0.82"/><circle cx="258.5" cy="1010.0" r="0.9" fill="#e4e4e4" opacity="0.82"/><circle cx="260.7" cy="1009.6" r="0.9" fill="#e4e4e4" opacity="0.82"/><circle cx="287.8" cy="1002.4" r="0.9" fill="#e4e4e4" opacity="0.56"/><circle cx="290.0" cy="1002.0" r="0.9" fill="#e4e4e4" opacity="0.56"/><circle cx="298.4" cy="1000.2" r="1.1" fill="#e4e4e4" opacity="0.74"/><circle cx="300.6" cy="999.8" r="1.1" fill="#e4e4e4" opacity="0.74"/><circle cx="339.1" cy="993.0" r="0.9" fill="#e4e4e4" opacity="0.76"/><circle cx="341.3" cy="992.6" r="0.9" fill="#e4e4e4" opacity="0.76"/><circle cx="368.2" cy="987.0" r="1.0" fill="#e4e4e4" opacity="0.71"/><circle cx="370.4" cy="986.6" r="1.0" fill="#e4e4e4" opacity="0.71"/><circle cx="217.6" cy="1023.9" r="1.0" fill="#e4e4e4" opacity="0.68"/><circle cx="242.9" cy="1020.9" r="1.0" fill="#e4e4e4" opacity="0.89"/><circle cx="343.3" cy="997.7" r="0.8" fill="#e4e4e4" opacity="0.77"/><circle cx="345.5" cy="997.3" r="0.8" fill="#e4e4e4" opacity="0.77"/><circle cx="350.8" cy="996.6" r="1.2" fill="#e4e4e4" opacity="0.89"/><circle cx="353.0" cy="996.2" r="1.2" fill="#e4e4e4" opacity="0.89"/><circle cx="355.2" cy="995.8" r="1.2" fill="#e4e4e4" opacity="0.89"/><circle cx="392.6" cy="985.2" r="0.9" fill="#e4e4e4" opacity="0.80"/><circle cx="394.8" cy="984.8" r="0.9" fill="#e4e4e4" opacity="0.80"/><circle cx="397.0" cy="984.4" r="0.9" fill="#e4e4e4" opacity="0.80"/><circle cx="398.8" cy="985.4" r="0.9" fill="#e4e4e4" opacity="0.76"/><circle cx="401.0" cy="985.0" r="0.9" fill="#e4e4e4" opacity="0.76"/><circle cx="220.1" cy="1033.6" r="0.9" fill="#e4e4e4" opacity="0.82"/><circle cx="292.4" cy="1016.5" r="1.2" fill="#e4e4e4" opacity="0.58"/><circle cx="302.8" cy="1013.8" r="1.1" fill="#e4e4e4" opacity="0.58"/><circle cx="305.0" cy="1013.4" r="1.1" fill="#e4e4e4" opacity="0.58"/><circle cx="307.2" cy="1013.0" r="1.1" fill="#e4e4e4" opacity="0.58"/><circle cx="350.3" cy="1004.2" r="0.9" fill="#e4e4e4" opacity="0.50"/><circle cx="385.1" cy="996.1" r="0.8" fill="#e4e4e4" opacity="0.66"/><circle cx="387.3" cy="995.7" r="0.8" fill="#e4e4e4" opacity="0.66"/><circle cx="396.7" cy="992.7" r="1.2" fill="#e4e4e4" opacity="0.54"/><circle cx="235.5" cy="1033.8" r="1.1" fill="#e4e4e4" opacity="0.87"/><circle cx="237.7" cy="1033.4" r="1.1" fill="#e4e4e4" opacity="0.87"/><circle cx="242.6" cy="1031.9" r="1.2" fill="#e4e4e4" opacity="0.78"/><circle cx="244.8" cy="1031.5" r="1.2" fill="#e4e4e4" opacity="0.78"/><circle cx="253.8" cy="1029.4" r="1.0" fill="#e4e4e4" opacity="0.55"/><circle cx="282.3" cy="1023.0" r="0.9" fill="#e4e4e4" opacity="0.67"/><circle cx="284.5" cy="1022.6" r="0.9" fill="#e4e4e4" opacity="0.67"/><circle cx="286.7" cy="1022.2" r="0.9" fill="#e4e4e4" opacity="0.67"/><circle cx="290.5" cy="1023.9" r="1.0" fill="#e4e4e4" opacity="0.93"/><circle cx="292.7" cy="1023.5" r="1.0" fill="#e4e4e4" opacity="0.93"/><circle cx="300.1" cy="1020.1" r="1.2" fill="#e4e4e4" opacity="0.82"/><circle cx="302.3" cy="1019.7" r="1.2" fill="#e4e4e4" opacity="0.82"/><circle cx="310.4" cy="1017.9" r="1.1" fill="#e4e4e4" opacity="0.53"/><circle cx="318.5" cy="1017.8" r="0.9" fill="#e4e4e4" opacity="0.85"/><circle cx="320.7" cy="1017.4" r="0.9" fill="#e4e4e4" opacity="0.85"/><circle cx="322.9" cy="1017.0" r="0.9" fill="#e4e4e4" opacity="0.85"/><circle cx="363.6" cy="1005.5" r="0.9" fill="#e4e4e4" opacity="0.76"/><circle cx="365.8" cy="1005.1" r="0.9" fill="#e4e4e4" opacity="0.76"/><circle cx="368.0" cy="1004.7" r="0.9" fill="#e4e4e4" opacity="0.76"/><circle cx="373.9" cy="1004.9" r="1.0" fill="#e4e4e4" opacity="0.74"/><circle cx="376.1" cy="1004.5" r="1.0" fill="#e4e4e4" opacity="0.74"/><circle cx="398.6" cy="1000.1" r="1.2" fill="#e4e4e4" opacity="0.67"/><circle cx="400.8" cy="999.7" r="1.2" fill="#e4e4e4" opacity="0.67"/><circle cx="216.6" cy="1043.6" r="1.1" fill="#e4e4e4" opacity="0.69"/><circle cx="218.8" cy="1043.2" r="1.1" fill="#e4e4e4" opacity="0.69"/><circle cx="221.0" cy="1042.8" r="1.1" fill="#e4e4e4" opacity="0.69"/><circle cx="225.7" cy="1042.8" r="1.2" fill="#e4e4e4" opacity="0.74"/><circle cx="241.9" cy="1039.4" r="1.2" fill="#e4e4e4" opacity="0.67"/><circle cx="253.1" cy="1035.3" r="1.0" fill="#e4e4e4" opacity="0.80"/><circle cx="255.3" cy="1034.9" r="1.0" fill="#e4e4e4" opacity="0.80"/><circle cx="262.9" cy="1033.4" r="0.8" fill="#e4e4e4" opacity="0.80"/><circle cx="265.1" cy="1033.0" r="0.8" fill="#e4e4e4" opacity="0.80"/><circle cx="287.5" cy="1029.5" r="0.8" fill="#e4e4e4" opacity="0.66"/><circle cx="289.7" cy="1029.1" r="0.8" fill="#e4e4e4" opacity="0.66"/><circle cx="291.9" cy="1028.7" r="0.8" fill="#e4e4e4" opacity="0.66"/><circle cx="304.3" cy="1026.5" r="0.9" fill="#e4e4e4" opacity="0.90"/><circle cx="306.5" cy="1026.1" r="0.9" fill="#e4e4e4" opacity="0.90"/><circle cx="308.7" cy="1025.7" r="0.9" fill="#e4e4e4" opacity="0.90"/><circle cx="336.1" cy="1018.4" r="0.9" fill="#e4e4e4" opacity="0.91"/><circle cx="338.3" cy="1018.0" r="0.9" fill="#e4e4e4" opacity="0.91"/><circle cx="351.9" cy="1015.2" r="1.1" fill="#e4e4e4" opacity="0.58"/><circle cx="375.1" cy="1010.0" r="0.9" fill="#e4e4e4" opacity="0.69"/><circle cx="377.3" cy="1009.6" r="0.9" fill="#e4e4e4" opacity="0.69"/><circle cx="380.8" cy="1009.6" r="1.2" fill="#e4e4e4" opacity="0.52"/><circle cx="383.0" cy="1009.2" r="1.2" fill="#e4e4e4" opacity="0.52"/><circle cx="385.9" cy="1005.9" r="0.8" fill="#e4e4e4" opacity="0.56"/><circle cx="229.6" cy="1049.4" r="0.9" fill="#e4e4e4" opacity="0.56"/><circle cx="235.1" cy="1047.8" r="1.2" fill="#e4e4e4" opacity="0.83"/><circle cx="237.3" cy="1047.4" r="1.2" fill="#e4e4e4" opacity="0.83"/><circle cx="239.5" cy="1047.0" r="1.2" fill="#e4e4e4" opacity="0.83"/><circle cx="270.1" cy="1039.1" r="0.8" fill="#e4e4e4" opacity="0.60"/><circle cx="272.3" cy="1038.7" r="0.8" fill="#e4e4e4" opacity="0.60"/><circle cx="301.0" cy="1033.7" r="0.9" fill="#e4e4e4" opacity="0.55"/><circle cx="303.2" cy="1033.3" r="0.9" fill="#e4e4e4" opacity="0.55"/><circle cx="308.9" cy="1031.7" r="0.9" fill="#e4e4e4" opacity="0.93"/><circle cx="311.1" cy="1031.3" r="0.9" fill="#e4e4e4" opacity="0.93"/><circle cx="313.3" cy="1030.9" r="0.9" fill="#e4e4e4" opacity="0.93"/><circle cx="335.1" cy="1026.3" r="1.1" fill="#e4e4e4" opacity="0.67"/><circle cx="337.3" cy="1025.9" r="1.1" fill="#e4e4e4" opacity="0.67"/><circle cx="365.2" cy="1017.9" r="1.2" fill="#e4e4e4" opacity="0.53"/><circle cx="367.4" cy="1017.5" r="1.2" fill="#e4e4e4" opacity="0.53"/><circle cx="369.6" cy="1017.1" r="1.2" fill="#e4e4e4" opacity="0.53"/><circle cx="376.8" cy="1014.9" r="1.1" fill="#e4e4e4" opacity="0.91"/><circle cx="399.5" cy="1010.0" r="0.9" fill="#e4e4e4" opacity="0.54"/><circle cx="401.7" cy="1009.6" r="0.9" fill="#e4e4e4" opacity="0.54"/><circle cx="403.9" cy="1009.2" r="0.9" fill="#e4e4e4" opacity="0.54"/><circle cx="216.1" cy="1058.5" r="1.1" fill="#e4e4e4" opacity="0.74"/><circle cx="224.8" cy="1054.8" r="0.9" fill="#e4e4e4" opacity="0.50"/><circle cx="227.0" cy="1054.4" r="0.9" fill="#e4e4e4" opacity="0.50"/><circle cx="242.0" cy="1050.2" r="1.1" fill="#e4e4e4" opacity="0.81"/><circle cx="248.0" cy="1049.0" r="0.9" fill="#e4e4e4" opacity="0.52"/><circle cx="250.2" cy="1048.6" r="0.9" fill="#e4e4e4" opacity="0.52"/><circle cx="297.8" cy="1040.4" r="1.1" fill="#e4e4e4" opacity="0.91"/><circle cx="300.0" cy="1040.0" r="1.1" fill="#e4e4e4" opacity="0.91"/><circle cx="307.7" cy="1037.2" r="0.9" fill="#e4e4e4" opacity="0.94"/><circle cx="309.9" cy="1036.8" r="0.9" fill="#e4e4e4" opacity="0.94"/><circle cx="317.7" cy="1036.1" r="1.1" fill="#e4e4e4" opacity="0.66"/><circle cx="342.1" cy="1029.6" r="1.2" fill="#e4e4e4" opacity="0.69"/><circle cx="368.6" cy="1025.2" r="1.2" fill="#e4e4e4" opacity="0.73"/><circle cx="375.2" cy="1020.9" r="0.9" fill="#e4e4e4" opacity="0.77"/><circle cx="377.4" cy="1020.5" r="0.9" fill="#e4e4e4" opacity="0.77"/><circle cx="379.6" cy="1020.1" r="0.9" fill="#e4e4e4" opacity="0.77"/><circle cx="391.9" cy="1017.9" r="1.2" fill="#e4e4e4" opacity="0.63"/><circle cx="394.1" cy="1017.5" r="1.2" fill="#e4e4e4" opacity="0.63"/><circle cx="401.0" cy="1016.5" r="1.1" fill="#e4e4e4" opacity="0.91"/><circle cx="403.2" cy="1016.1" r="1.1" fill="#e4e4e4" opacity="0.91"/><circle cx="239.1" cy="1059.3" r="1.0" fill="#e4e4e4" opacity="0.72"/><circle cx="241.3" cy="1058.9" r="1.0" fill="#e4e4e4" opacity="0.72"/><circle cx="256.3" cy="1054.8" r="1.2" fill="#e4e4e4" opacity="0.78"/><circle cx="267.1" cy="1053.5" r="1.0" fill="#e4e4e4" opacity="0.54"/><circle cx="269.3" cy="1053.1" r="1.0" fill="#e4e4e4" opacity="0.54"/><circle cx="274.2" cy="1051.5" r="0.8" fill="#e4e4e4" opacity="0.91"/><circle cx="298.4" cy="1045.6" r="1.2" fill="#e4e4e4" opacity="0.92"/><circle cx="300.6" cy="1045.2" r="1.2" fill="#e4e4e4" opacity="0.92"/><circle cx="321.2" cy="1042.2" r="1.2" fill="#e4e4e4" opacity="0.65"/><circle cx="323.4" cy="1041.8" r="1.2" fill="#e4e4e4" opacity="0.65"/><circle cx="325.6" cy="1041.4" r="1.2" fill="#e4e4e4" opacity="0.65"/><circle cx="328.4" cy="1041.0" r="1.1" fill="#e4e4e4" opacity="0.90"/><circle cx="330.6" cy="1040.6" r="1.1" fill="#e4e4e4" opacity="0.90"/><circle cx="339.6" cy="1038.0" r="0.9" fill="#e4e4e4" opacity="0.79"/><circle cx="341.8" cy="1037.6" r="0.9" fill="#e4e4e4" opacity="0.79"/><circle cx="376.1" cy="1028.7" r="0.8" fill="#e4e4e4" opacity="0.93"/><circle cx="378.3" cy="1028.3" r="0.8" fill="#e4e4e4" opacity="0.93"/><circle cx="385.6" cy="1028.1" r="0.8" fill="#e4e4e4" opacity="0.81"/><circle cx="387.8" cy="1027.7" r="0.8" fill="#e4e4e4" opacity="0.81"/><circle cx="390.0" cy="1027.3" r="0.8" fill="#e4e4e4" opacity="0.81"/><circle cx="397.9" cy="1023.3" r="1.1" fill="#e4e4e4" opacity="0.74"/><circle cx="219.6" cy="1069.9" r="1.1" fill="#e4e4e4" opacity="0.71"/><circle cx="221.8" cy="1069.5" r="1.1" fill="#e4e4e4" opacity="0.71"/><circle cx="224.0" cy="1069.1" r="1.1" fill="#e4e4e4" opacity="0.71"/><circle cx="228.2" cy="1069.9" r="1.2" fill="#e4e4e4" opacity="0.54"/><circle cx="230.4" cy="1069.5" r="1.2" fill="#e4e4e4" opacity="0.54"/><circle cx="253.9" cy="1063.3" r="1.1" fill="#e4e4e4" opacity="0.94"/><circle cx="256.1" cy="1062.9" r="1.1" fill="#e4e4e4" opacity="0.94"/><circle cx="262.6" cy="1060.9" r="1.2" fill="#e4e4e4" opacity="0.70"/><circle cx="264.8" cy="1060.5" r="1.2" fill="#e4e4e4" opacity="0.70"/><circle cx="267.0" cy="1060.1" r="1.2" fill="#e4e4e4" opacity="0.70"/><circle cx="271.0" cy="1059.6" r="0.9" fill="#e4e4e4" opacity="0.59"/><circle cx="273.2" cy="1059.2" r="0.9" fill="#e4e4e4" opacity="0.59"/><circle cx="280.0" cy="1058.5" r="1.2" fill="#e4e4e4" opacity="0.78"/><circle cx="328.6" cy="1047.1" r="0.9" fill="#e4e4e4" opacity="0.53"/><circle cx="330.8" cy="1046.7" r="0.9" fill="#e4e4e4" opacity="0.53"/><circle cx="333.0" cy="1046.3" r="0.9" fill="#e4e4e4" opacity="0.53"/><circle cx="339.1" cy="1044.3" r="1.2" fill="#e4e4e4" opacity="0.52"/><circle cx="373.6" cy="1036.8" r="0.8" fill="#e4e4e4" opacity="0.50"/><circle cx="375.8" cy="1036.4" r="0.8" fill="#e4e4e4" opacity="0.50"/><circle cx="381.5" cy="1033.5" r="1.2" fill="#e4e4e4" opacity="0.69"/><circle cx="383.7" cy="1033.1" r="1.2" fill="#e4e4e4" opacity="0.69"/>
<g filter="url(#blur1)" opacity="0.88">
<path d="M346,845 C351,845.5 354,849 353.5,854 L352,868 L348,882 L346,897 L343.5,915 L342.5,936 L342,965 L341.5,990 L340,1020 L340,1052 L320,1052 L323.5,1020 L324.5,990 L326.5,965 L327.5,936 L329,915 L332,897 L334,885 L336.5,870 L339,852 C340,847.5 342.5,845 346,845 Z" fill="#252525"/>
<path d="M328,903 L334,910 L322,924 L319.5,940 L320,965 L319,990 L317.5,1000 L309,999 L307.5,965 L308,936 L311,920 L319,908 Z" fill="#282828"/>
<path d="M318,948 L329,948 L327,1000 L316,1000 Z" fill="#303030" opacity="0.7"/>
<path d="M352,885 L357,900 L358,960 L356,990 L351,990 L352,950 L350,905 Z" fill="#3a3a3a" opacity="0.5"/>
</g>
</g>
<line x1="34.5" y1="836.0" x2="34.5" y2="864.0" stroke="#eda66e" stroke-width="3" />
<polygon points="34.5,874.8 28.5,860.8 34.5,864.3 40.5,860.8" fill="#eda66e"/>
<text x="44.1" y="858.8" font-size="19" fill="#eda66e" text-anchor="start" font-weight="bold" font-style="italic" >g</text>
<text x="150.5" y="843.9" font-size="15.8" fill="#eda66e" text-anchor="start" font-weight="bold" font-style="normal" >2 mm</text>
<line x1="160.0" y1="850.7" x2="183.2" y2="850.7" stroke="#eda66e" stroke-width="2.9" />
<line x1="233.9" y1="836.0" x2="233.9" y2="864.0" stroke="#eda66e" stroke-width="3" />
<polygon points="233.9,874.8 227.9,860.8 233.9,864.3 239.9,860.8" fill="#eda66e"/>
<text x="243.5" y="858.8" font-size="19" fill="#eda66e" text-anchor="start" font-weight="bold" font-style="italic" >g</text>
<text x="349.9" y="843.9" font-size="15.8" fill="#eda66e" text-anchor="start" font-weight="bold" font-style="normal" >2 mm</text>
<line x1="359.4" y1="850.7" x2="382.6" y2="850.7" stroke="#eda66e" stroke-width="2.9" />
<line x1="55.8" y1="978.0" x2="66.5" y2="960.1" stroke="#eda66e" stroke-width="3.5" />
<polygon points="70.6,953.2 69.3,965.2 66.5,960.1 60.7,960.1" fill="#eda66e"/>
<line x1="142.6" y1="946.5" x2="153.0" y2="927.1" stroke="#eda66e" stroke-width="3.5" />
<polygon points="156.8,920.1 156.0,932.2 153.0,927.1 147.2,927.4" fill="#eda66e"/>
<line x1="116.6" y1="893.6" x2="126.6" y2="876.0" stroke="#eda66e" stroke-width="3.5" />
<polygon points="130.6,869.1 129.5,881.1 126.6,876.0 120.8,876.2" fill="#eda66e"/>
<line x1="353.5" y1="991.6" x2="344.0" y2="975.4" stroke="#eda66e" stroke-width="3.5" />
<polygon points="339.9,968.5 349.8,975.4 344.0,975.4 341.2,980.5" fill="#eda66e"/>
<text x="27.2" y="1032.3" font-size="16.6" fill="#eda66e" text-anchor="start" font-weight="bold" font-style="normal" >Jumping mode</text>
<text x="226.3" y="1032.3" font-size="16.5" fill="#eda66e" text-anchor="start" font-weight="bold" font-style="normal" >Sweeping mode</text>
</svg></body></html>
